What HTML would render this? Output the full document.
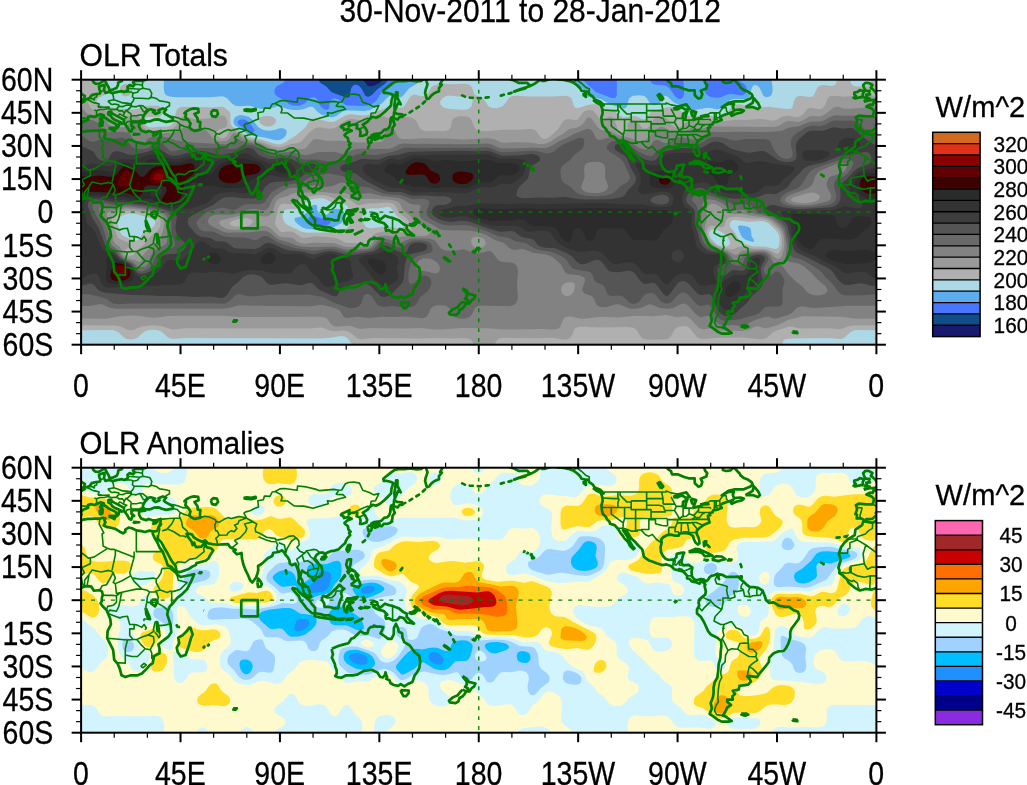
<!DOCTYPE html>
<html><head><meta charset="utf-8"><title>OLR</title>
<style>html,body{margin:0;padding:0;background:#fff;width:1027px;height:785px;overflow:hidden}svg{display:block}</style></head>
<body><svg width="1027" height="785" viewBox="0 0 1027 785" font-family="Liberation Sans, Arial, sans-serif" font-size="30" fill="#000">
<text transform="translate(530.20,22.10) scale(0.926,1)" font-size="32.4" text-anchor="middle" stroke="#000" stroke-width="0.3">30-Nov-2011 to 28-Jan-2012</text>
<text transform="translate(79.60,65.70) scale(0.965,1)" font-size="31.2" stroke="#000" stroke-width="0.3">OLR Totals</text>
<text transform="translate(79.60,453.70) scale(0.945,1)" font-size="31.2" stroke="#000" stroke-width="0.3">OLR Anomalies</text>
<svg x="81.10" y="79.70" width="795.30" height="265.00" viewBox="0 0 360 120" preserveAspectRatio="none" overflow="hidden">
<rect x="0" y="0" width="360" height="120" fill="#191970"/>
<path fill="#104E8B" d="M.5,0 127.7,0 129.5,2.4 130,2.8 131,3 132.5,2.7 134.5,1.8 135.7,1 136.5,0 360,0 360,120 0,120 0,0 .5,0Z"/>
<path fill="#4876FF" d="M.5,0 107.5,0 108,1 108.4,1.5 111,3.1 112.7,5 113.5,5.7 119.5,8 120.5,8.2 121.2,8 121.6,7.5 122.2,4 122.8,3 123.5,2.4 124.5,2.2 126,2.9 127.3,4.5 128.5,7 129,7.5 130,7.7 131.5,7 133.9,4.5 137.4,2 138.3,1 138.8,0 360,0 360,120 0,120 0,0 .5,0Z"/>
<path fill="#5CACEE" d="M.5,0 92.5,0 92,.9 91.5,1.4 88.6,3 87.8,4 87.5,5 87.6,6 88,6.8 88.7,7.5 91,8.8 94.5,11.2 96,11.7 97.5,11.8 99,11.7 100,11.4 101.4,10.5 103.5,8.4 104.5,7.9 105.5,7.9 106.6,8.5 108.1,11.5 108.8,12.5 110,13.4 111,13.6 111.7,13.5 112.2,13 112.5,10.5 112.8,9.5 113.5,8.8 114.5,8.5 115.5,8.6 116.5,8.9 119.5,11.3 121,11.7 128,11.9 129.5,11.7 131,11.2 132.5,10.4 133.6,9.5 136.2,5.5 140.4,2.5 141.1,1.5 141.6,0 227,0 233,5.6 239.5,8.1 241,8.4 242,8.1 242.5,7 242.5,0 257.5,0 257.9,1 258.3,1.5 259.5,2.2 264,2.5 265.5,3.2 266.5,4.1 269,7.6 270,8.5 271,8.7 272,8.4 272.5,7.9 272.8,7 273,4.5 272.6,0 282.4,0 282.3,4.5 282.5,5.5 283,6.5 284,7.3 285,7.8 288,8.2 289.5,7.9 292,6.9 293.5,6.5 295,6.5 298.5,7.1 299.5,7 300.4,6.5 301,5.8 301.2,5 301.3,4 301,3.1 300.1,2 298.5,.9 297.6,0 360,0 360,120 0,120 0,0 .5,0ZM72.3,18 71.5,18.2 70.8,19 71,20 71.5,20.5 76,23.5 77.5,23.8 78.5,23.5 78.5,23 78,22 76,19.3 74.5,18.3 73.5,18 72.3,18ZM103.8,62 102.3,63.5 102,64.5 102.2,65 102.8,65.5 104,66 107,66.6 109.8,66.5 111,66.2 112,65.6 113,64.5 113.1,64 112.5,63.5 109,62.9 105.5,61.7 104.5,61.7 103.8,62Z"/>
<path fill="#ADD8E6" d="M.5,0 37.5,0 37.4,3.5 37.6,5.5 38,6.5 38.5,7 40,7.6 43,7.9 58,7.9 64,7.5 65,7.8 66,8.3 68.5,11 70,11.8 71.5,12 75,11.8 76.5,11.8 81,13.1 83,13.4 85.5,13.2 88.5,12.1 89.5,12 94,13.4 96,13.7 98.5,13.7 100.5,13.4 103.5,12.3 104.5,12.2 105.1,12.5 107,14.5 108.5,15.6 111,16.6 113.5,17 115.4,16.5 118,14.6 119.5,14 122.5,13.9 128,14.2 130.5,13.8 135.7,11 136.9,10 138.5,8.2 139.5,7.5 140.5,7.4 143.5,8.1 145,7.8 146,6.9 148.5,3.9 151.8,2 152.4,1 152.6,0 223,0 223.8,1.5 226.5,3.5 227.6,4.5 228.8,7 229.5,7.7 230.5,8.1 234,8.5 235.5,8.9 239.5,11.1 244.5,12.9 246,13 246.9,12.5 247.3,11.5 247.7,9.5 248.1,8.5 249,7.7 250,7.3 253,7 255,7.4 256,8.3 257.7,11 258.5,11.5 259.5,11.6 261,11.3 262,10.6 262.5,10 263.5,7.8 264,7.4 264.5,7.3 265.5,7.7 268,10 269,10.7 273,12.2 275.5,13.6 277,13.8 283.5,12.7 285,12.8 287.5,13.4 289,13.3 290.3,12.5 292.5,10 294,9.1 295.5,8.7 300,8.9 301.5,8.5 302.3,8 302.6,7.5 303.5,4 304,3 304.5,2.5 305,2.4 306,2.6 307,3.4 307.6,4.5 308.5,6.7 309,7.4 310,7.9 311.5,7.7 312.5,6.9 313,5.5 313,3.5 312.5,0 360,0 360,120 0,120 0,0 .5,0ZM70.3,16.5 69.5,17.2 69,18.5 69,19.5 69.5,20.5 75,24.4 76.5,25.2 78,25.5 83,26.2 87.5,27.3 89,27.4 90.5,27.1 91.5,26.5 92.5,25.5 93,24.5 93.1,23.5 92.9,23 92.5,22.5 91.5,22 90,22 87.5,22.8 85.5,23.1 83,22.9 81.5,22.3 80,21.3 77.5,18 76,16.9 74.5,16.4 73,16.1 71.5,16.1 70.3,16.5ZM104.5,57 103.5,58 102.1,60 101,61 99.5,61.9 97.1,62.5 96.5,63 96.8,64 97.6,65 100,66.8 102,67.5 104,67.7 108,68 111,67.8 113.5,67.1 115.9,66 117.7,65 118.6,64 118.9,62.5 118.7,60.5 118,59.3 117,58.6 115.5,58.4 114.5,58.6 113.5,59.2 112,60.6 111,61.1 110,61.2 108.5,60.8 107.4,60 106.9,59 106.8,57 106.5,56.7 105.5,56.6 104.5,57ZM297.3,66.5 297.5,67.5 298.5,70 299.5,71.6 301,72.6 304.5,73.6 304.5,72.4 304,71.8 303.5,70.8 303.2,68 302.7,67 301.5,66.5 299,66 298,66 297.3,66.5Z"/>
<path fill="#B0B0B0" d="M.5,0 7.4,0 8.2,1 10.5,2.2 11.5,3.1 12.1,4.5 11.9,5.5 11.6,6 10.5,7 8,8.2 7.2,9 7,10 7.2,10.5 7.6,11 8.5,11.5 16.5,13 23.5,13.5 25.5,13.3 29,12.1 31,11.8 34.5,11.8 36.5,12.5 37.3,13.5 37.3,14.5 36.8,15.5 35.9,16.5 34.5,17.1 30.5,16.8 29.9,17 29.3,17.5 28.9,18.5 29,20 29.7,21 30.5,21.5 32,21.7 35.5,21.3 38.5,21.3 40.5,20.8 41.5,20 42,19 43,14.5 43.4,13.5 44,12.9 45,12.4 47,12.2 59,12.6 63.5,12.3 64.5,12.5 65.5,13 67.2,14.5 67.6,15.5 67.5,18.5 67.7,20 68.2,21 68.7,21.5 71.5,22.9 74.5,25.2 76,26 82,27.2 87.5,29 89.5,29.3 91,29 92.1,28.5 96.9,25.5 101.1,22 102.3,20.5 103.5,18.3 104.5,17.6 106.5,17.7 112,19 114,19.1 115.5,18.6 119,16.5 120.5,15.9 122.5,15.7 127,16.2 129.5,16.1 131.5,15.5 135,13.8 138.5,12.7 140.5,12.4 143.5,12.7 145,12.6 146,12.2 146.5,11.7 148.5,8.4 149.9,7 151,6.7 154,7.5 155.5,7.4 156.7,6.5 158.2,4 159,3 160,2.5 161.5,2.2 164,2 169,2.1 173,1.8 174.5,1.9 175.5,2.2 176.5,3 176.9,3.5 178,6.6 178.5,7 181.5,8.2 182.5,9.2 183.6,11 184.4,12 186,12.8 188.5,12.8 190.5,12.1 191.5,11.3 193.5,8.4 194.5,7.7 195.5,7.4 197.5,7.3 202,7.6 214,7.6 219.5,7.3 221,7.7 222,8.5 223,11.7 223.5,12.5 224,12.8 225.5,12.7 228.5,11.7 230.5,11.2 232,11.1 233.5,11.2 234.5,11.6 237,13 240,13.7 241.5,14.3 245,17 246,17.1 248.5,16.5 250,16.4 251.5,16.7 254,17.8 255,18 256,17.4 257.5,15 258.5,14.3 263,13.2 265.5,12.4 267,12.5 270,13.3 271.3,14 273.5,15.7 275,16.3 277,16.4 282,16.2 287.5,16.7 289.8,16.5 291.5,15.8 292.5,15 294.7,12 295.5,11.4 296.5,11.2 298.5,11.2 302.5,12.5 304.5,12.8 311.5,12.2 318,13.2 320.5,13.3 321.5,13 322,12.5 322.7,9.5 323.6,8 324.5,7.5 325.5,7.3 329.5,7.8 331,7.6 331.5,7.2 332,6.5 333.3,3.5 334.5,2.6 336,2.4 340,2.9 341,2.5 341.6,2 342,1 342.1,0 348,0 348.5,1.7 349.5,2.7 351,3.1 353.5,3.1 355.5,2.7 356.5,2.1 357.2,1 357.5,0 360,0 360,113.5 356,113.5 352,113.3 350,113.5 349,113.9 348,114.5 345.5,116.9 344,117.4 338,117 323,117.2 319.5,117.4 318.5,117.6 318,118 317.6,119 317.5,120 122.5,120 121.7,118.5 120.5,117 119.5,116.4 118,116.1 112.5,116.9 109,117.2 47,117 41.5,117.4 39.5,116.9 36.8,114.5 35.5,113.7 34,113.3 32.5,113.2 31,113.3 29.5,113.7 28.1,114.5 25.5,116.8 24,117.4 22.5,117.6 21,117.5 20,117.1 19,116.4 17,114.5 16,113.9 14.5,113.4 0,113.5 0,0 .5,0ZM165,7.5 163.4,8.5 162.5,10 162.6,11 162.8,11.5 163.5,12.2 164.5,12.8 166.5,13.1 172,13.6 174,13.6 175.8,13 176.5,12.3 176.9,11.5 177.2,10 177.1,9 176.7,8 176,7.7 170.5,7.6 167,7.2 165,7.5ZM105.2,54 103.2,54.5 102,55.1 101,56 99.5,58 98.7,58.5 97.5,58.7 93.5,58.7 92.5,59 92,59.3 91.3,60.5 91.2,62 91.5,63.5 92.4,65 93.5,65.8 99.5,68.7 102,69.3 110.5,69.2 114,68.9 119,67.9 120,67.4 121.1,66.5 121.7,65.5 121.9,64.5 121.9,62 121.2,58.5 120.7,57.5 120,56.7 118.5,56.2 115.5,56.1 114,55.9 111,54.2 109.5,53.7 107.5,53.7 105.2,54ZM136.1,58 134.5,58.3 131.5,58.2 130,58.4 129,58.8 128,59.6 127.3,61 127.3,63 128,65.4 129,66.7 130,67.2 131,67.3 137.5,66.5 143.5,67.3 145,67.1 146.2,66.5 146.6,65.5 146.5,65 146,64 142.7,61.5 140.6,58.5 140.1,58 139.5,57.7 138.5,57.6 136.1,58ZM20,61 17.9,62 17,62.8 16.5,63.5 16.4,65 17.3,68 17.9,69.5 18.7,70.5 19.6,71 24,72.7 25,72.9 26,72.4 28.5,69 32.2,67 33,66.2 33.4,65.5 33.6,64.5 33.4,64 33,63.5 32,62.9 24.5,60.7 22,60.6 20,61ZM296.2,63.5 295,63.7 294.4,64 293.6,65 293.6,66 294,67 296.1,69.5 297.7,72.5 298.8,73.5 300.8,74.5 304.2,75.5 310,75.6 314,76.7 315,76.5 315.5,76 316,74.8 316.2,73 316.1,71.5 315.7,70 314.8,68.5 311,64.9 310,64.3 308.5,64 302,64.3 296.2,63.5ZM285.2,68 284.4,69 284.4,70.5 285.1,72 287,74 288.5,75 290,75.4 292,75.5 293.3,75 293.8,74 293.6,73 292.8,71.5 291.4,70 289.9,69 287.7,68 286.5,67.8 285.2,68ZM19,2.3 20,2 21,2.2 22,2.6 22.7,3.5 23,4.5 22.9,5.5 22.4,6.5 21.5,7.3 20.5,7.5 19.5,7.5 18.5,6.9 17.8,6 17.5,5 17.6,4 18,3 19,2.3ZM82.5,16.5 85,16.4 87.2,17 88.1,18 88.2,18.5 88,19.5 87.1,20.5 85.5,21.2 83.5,21.2 82,20.5 81,19.5 80.6,18 80.8,17.5 81.2,17 82.5,16.5Z"/>
<path fill="#9A9A9A" d="M339,7.5 341,7.3 345.5,7.7 351.5,7.2 358,7.5 360,7.8 360,111.2 349.5,111.3 347,111.8 344.5,112.8 343,113 339,112.6 326,112.7 324.5,112.5 322,111.9 320.5,111.8 314.5,113.7 313.1,114.5 310.5,116.9 309,117.4 307.5,117.5 299.5,116.7 288.5,116.8 282.5,117.4 280.5,117.3 279.5,117 278.5,116.3 276,113.1 275,112.1 274,111.6 272.5,111.5 270.5,111.9 269,112.8 268.4,113.5 267,116.2 266.2,117 265.5,117.4 264,117.7 260,117.6 257,117.8 255.5,117.7 254,117.1 253,116 251.5,113.3 250.5,112.5 249.5,112.2 247.5,112 234,112.2 226,111.9 224.5,112.2 223.5,112.7 223,113.5 222.3,115.5 221.7,116.5 221,117.2 220,117.6 218,117.7 213.5,116.9 208,117.1 191,116.9 189.5,117.1 188.5,117.6 187.8,118.5 187.4,120 177.6,120 177.2,118.5 176.5,117.8 175.5,117.3 173.5,117 169,117.2 162,117 154,117.2 132,117 126.5,117.7 125,117.1 122,114.6 120.5,113.9 119,113.6 115,113.9 113.5,113.8 112,113.4 109.5,112.4 108.5,112.2 103.5,112.7 47,112.6 42,113.1 40.5,112.9 36.4,111.5 32,111.2 28,111.6 26.5,112.1 24,113.2 22.5,113.5 21,113.2 17.5,111.7 15,111.3 0,111.2 0,7.8 1.5,8.5 2.5,9.3 4.1,12.5 5,13.4 6.5,13.8 10,13.9 11.9,14.5 13.1,15.5 15,17.9 16.7,19 17.5,19.2 18.6,19 19.3,18.5 20.7,17 22,16.3 24,16.1 25,16.2 26,16.5 26.9,17.5 27.8,20.5 28.3,21.5 29.5,22.5 31,22.9 38.5,22.8 41,22.3 42,21.8 42.9,21 45,17.5 45.5,17 46.5,16.6 48,16.8 50.5,17.7 52,17.9 58,17.5 62,16.3 64,16.2 65,16.6 65.7,17.5 66.1,19 66.1,20.5 66,21 65.5,21.7 62.5,22.6 61.5,23.4 61.2,24 61.4,25 62.3,26 63.5,26.5 65,26.3 65.9,25.5 67,23.4 68,23 69.5,23.1 71.5,23.9 74,25.9 75.5,26.7 81.5,28.1 87.5,30.4 89.5,30.7 91,30.5 95,29.1 98.5,28.5 99.5,28.1 103,24.2 105,22.6 106.5,21.8 108,21.7 112,22.2 114,22.1 115.5,21.5 119,18.8 120.7,18 122.5,17.8 126.5,18.4 129.5,18.3 131.5,17.9 135.5,16.5 137,16.7 139.2,17.5 140.5,17.7 145.5,17 147.5,16.9 149,17.1 150.5,17.7 151.5,18.4 152.2,19.5 153.4,22 154.5,22.9 156,23.3 160,23.1 163.5,23.3 165.5,23.1 166.6,22.5 167.3,21.5 168,18.4 168.5,17.6 169,17.2 171,16.6 174,16.5 175.5,17 176.1,17.5 176.8,18.5 178.2,22 179,22.7 179.8,23 183,23.3 191.5,22.7 198.5,22.7 202.5,22.3 204,22.3 205,22.5 206,23.2 208,26.1 209,26.7 210,26.8 211,26.5 212,25.9 214.8,23.5 216.2,22 218,19 219,18.1 220.5,17.8 223.5,18.3 224.5,18.2 225.3,17.5 227.1,15 228,14.3 229.5,13.7 231,13.8 232,14.2 234.5,17.3 235.5,17.8 236.5,17.8 239,16.8 240,16.8 240.5,17.1 241.6,18.5 242.7,22 243.3,23 244.5,23.8 246,24 247,23.5 247.3,22.5 247.3,20.5 247.8,19.5 248.5,18.9 250,18.5 251,18.8 252.5,19.9 254,21.8 254.5,22.1 255.5,22.2 256.5,21.7 257.4,21 258.1,20 259.5,17.4 260,16.8 261,16.4 262.6,16.5 264.9,17.5 266,18.5 267,20 267.9,21 269,21.6 270,21.8 271.5,21.3 274,19 276,18.4 289,18.9 292,18.7 296,18.1 301,18.2 307,17.8 309,17.9 312.1,18.5 313.5,18.6 315,18.1 317,16.8 318.5,16.4 320,16.3 323.5,16.9 324.5,16.9 325.5,16.6 326.4,16 327.4,15 328.5,13.4 329.5,12.8 330.5,12.8 334,13.4 335.5,13 336.8,11.5 338,8.5 338.5,7.8 339,7.5ZM105.2,52.5 101.6,53 100,53.5 99,54.1 97.5,55.5 96,56.3 94.5,56.4 91.5,56.1 90.5,56.4 90,56.8 89.2,58.5 87.7,64.5 88.1,66 89.5,68.1 90,68.6 91,69 94,68.7 95.5,68.9 96.9,69.5 99.5,71.3 100.5,71.7 101.5,71.7 105,71 106.5,70.9 113.5,71.4 116,71.9 119.1,73.5 120.5,73.9 124,73.9 128,74.6 129.3,74.5 130,74.1 130.5,73.5 132,70.5 133,69.7 134,69.3 136.5,68.9 145,69.1 149.5,68.6 149.5,66.5 148,63.6 146.9,62.5 144.2,60.5 143.5,59.5 142.2,57 140.9,56 139.5,55.7 138,55.6 134.5,56 130,56.1 125.5,56.8 124.5,56.4 121.5,54.3 120,53.8 119,53.7 115.5,54 114.5,53.8 111.5,52.6 110,52.3 108,52.2 105.2,52.5ZM19.1,59.5 16,60.5 14.4,61.5 13.9,62.5 13.9,64.5 16.6,71.5 17.5,72.3 20.9,73.5 21.9,74.5 22.1,75 22,75.5 20,77.1 19.9,78.5 20,79.3 20.2,79.5 21,79.7 23.5,79.6 24,79.2 25,77.5 28.2,75 30.5,71.8 34.6,68.5 35.7,66.5 36,65.2 36,64 35.7,63 35,62.1 34,61.5 33,61.2 24.5,59.4 21.5,59.2 19.1,59.5ZM293.1,62.5 292.5,62.9 292,63.5 291.2,66 290.5,66.7 289.5,66.8 287,66.2 285.5,66.1 284.5,66.4 283.6,67.5 283.2,69.5 283.7,71.5 285,73.3 287,75 289.5,76 294.5,76.8 295.5,76.7 297.5,75.8 298.5,75.6 304.5,76.5 309.5,76.5 311.5,77.1 314,78.5 315,78.9 315.5,78.8 316.3,78 316.9,76.5 317.3,74.5 317.2,72 316.8,70 316.2,68.5 315.5,67.6 312,64.3 310,63.3 308,63 303,62.9 297,62.1 294.5,62.2 293.1,62.5ZM71.9,63 68.4,64 67.5,64.7 67.3,65 67.3,65.5 67.9,66 69.5,66.5 73.5,66.6 76,66 76.9,65.5 77.8,64.5 77.7,64 77.4,63.5 76,62.8 74.5,62.6 71.9,63Z"/>
<path fill="#828282" d="M357.5,11.9 359,12 360,12.5 360,108.1 351,108.2 344,107.4 326.5,107.1 320,108.8 315.5,111.1 310.5,112.5 309,112.6 307,111.8 306,111.7 305,111.9 302,113.3 299,113.8 290,113.6 285,112.6 282,113 281,113 279.5,112.2 276,108.5 274.5,107.3 273,107.1 269.5,107.6 266,106.8 264.5,106.6 258.5,107.1 250.5,106.9 243.5,107.7 235.5,107.4 227.5,108.2 225.5,108.1 222,107.2 220.5,107.2 219,107.7 218.2,108.5 217,111.6 216.3,112.5 215,113 213,113.1 208,112.9 191.5,113.1 184.5,112.6 172,112.4 163,113.1 160,113.1 154,112.4 147.5,112.7 136,112.6 131,112.4 126.5,112.9 125,112.6 122.5,111.7 121,111.4 116,111.8 114.5,111.6 113.5,111 112.9,110.5 111.6,108.5 111,108 110,107.6 108,107.4 72,107.5 64,106.9 42,106.9 39.2,107 34.5,107.7 32.5,107.8 25.5,106.9 22,106.8 17.5,107.1 12.7,108 10.5,108.2 0,108.1 0,12.5 2.4,15 3.5,15.7 5,16.2 8.5,16.2 10,16.7 10.8,17.5 12.3,20 13.5,20.8 15.5,21.5 18,21.7 20,21.4 21,20.7 22.5,18.9 23,18.5 24,18.2 25,18.4 25.6,19 26.1,20 26.9,22.5 27.5,23.3 28.5,23.9 29.5,24.1 36,24.3 41,24 43.5,23.3 46.5,21.7 47.5,21.7 50,22.3 54.5,22.1 55.9,22.5 56.8,23 59.1,26 60.4,27 62,27.7 63.5,27.9 65,27.8 66,27.5 67,26.7 68.5,24.6 69,24.3 70,24.3 71,24.7 73.2,26.5 74.5,27.2 80.5,28.7 82.7,29.5 86.5,31.4 88,31.9 89.5,32 91,31.9 95.5,30.8 97,31 99.5,31.5 101,31.4 102.2,30.5 103.7,28.5 104.5,27.6 105.5,27.1 106.5,26.9 111,27.7 118,27.6 125,28.4 135.5,28.2 136.1,28 136.8,27.5 137,26.7 137.2,24.5 137.8,23 138.5,22.3 140,21.9 141,22.2 142,23 143,25.2 143.5,26 144.5,26.6 146,26.9 149,27 155,26.5 164,26.6 173,27.1 184,26.5 187,27 190,28.3 191.5,28.6 195.5,28.3 202.5,28.4 207.5,29.1 209.5,29.1 211,28.7 212.5,28 215.5,26 218.2,24.5 221,22.3 224.5,21.6 226,20.9 227.2,20 229,17.5 229.5,17.2 230,17.1 231,17.6 234,21.6 235.5,22.8 239,22.9 241.6,24.5 243,25.2 248.5,26.3 252.5,28.1 254,28.3 255,27.9 257.5,25 260.5,22.3 261.5,21.6 262.5,21.3 264,21.6 267.2,23.5 268.5,23.8 270,24 272.9,23.5 276,21.9 277,21.8 279,22.3 280,22.3 283.2,21.5 285.5,21.2 314,21.4 316,20.9 318.5,19.2 319.5,18.8 320.5,18.6 323.5,19 325,19 326.5,18.5 330,16.6 331,16.4 334,16.6 335,16.5 336.9,15.5 340.5,12.7 341.5,12.4 342.5,12.3 345.5,13.1 348,13.2 353.5,12.8 357.5,11.9ZM105,51 97,51.3 95.9,51.5 93.5,52.7 90,53.6 89,54.3 88.1,55.5 86.8,59.5 86.3,60.5 85.5,61.3 84.5,61.9 82.5,62 78.5,60.9 77,60.7 75.5,60.8 63.7,63.5 62.8,64 62.5,64.5 62.6,65 63.3,66 65,67.2 66.5,67.7 68,67.9 75,67.8 77.5,67.4 81,66.4 82.5,66.2 83.5,66.3 85,66.8 86,67.5 88.5,70 90,71 91.5,71.3 95,71.4 96,71.9 98.1,73.5 99.5,74.1 101.5,74.3 106,73.7 109.5,74 114,74 115.5,74.3 119,75.5 121,75.8 124.5,75.7 128,75.9 130,75.6 131.5,74.5 133.5,71.7 134.5,71 135.5,70.7 137.5,70.6 143.5,71.2 149,70.7 154.5,70.8 156.5,70.5 157.5,70 157.9,69.5 158,68.5 157.4,67.5 156,66.5 152.5,65.3 151.5,64.8 149,61.6 146,59.3 145.4,58.5 144.3,56 143.5,55.3 142.5,54.8 140,54.4 131.5,53.9 126,54 124.5,53.5 120.5,51.6 119,51.3 115,51.5 110,50.9 105,51ZM328.2,51.5 322.5,53.2 321.4,54 321.3,54.5 321.7,55 323,55.5 326,55.9 328.5,55.9 331,55.5 332.6,55 333.5,54.5 334.4,53.5 334.4,53 334,52.2 332.5,51.3 330.5,51.1 328.2,51.5ZM284.4,56.5 283.6,57.5 283.2,59 283.3,63.5 282.4,66.5 282.2,69 282.6,71 283.3,72.5 284.5,74 285.7,75 288,76.2 292.7,77.5 296,79.4 297,79.2 299,77.6 300,77.3 308.5,77.2 310,77.4 311.4,78 312.6,79 314,80.5 315,81.1 316,81.1 317,80.3 317.7,78.5 318.3,75.5 318.3,73 317.8,70 317.2,68.5 316.3,67 313,63.9 311,62.8 309,62.3 304,61.7 299.5,60.8 295.5,60.8 293.5,60.5 292.3,60 289.5,57.6 287.5,56.5 285.5,56.1 284.4,56.5ZM18.2,58.5 13,59.7 12,60.2 11.6,61 11.8,63 14,69.5 14.6,73 15.5,74.3 17.5,75.6 17.9,76.5 18.6,79 19.5,80.1 21,80.8 24.5,81.6 26.5,82.5 27,82.4 27.7,80 28.4,79 31.5,75.6 34.5,73.4 35.7,72 36.7,69.5 37.4,67 37.7,64.5 37.5,63 37,62 36,61.1 34.9,60.5 33.5,60.1 27,58.9 23.5,58.4 20.5,58.2 18.2,58.5ZM177.4,71.5 176.8,72 176.6,72.5 176.5,73.5 177.1,75 178,75.9 179.5,76.5 180.5,76.4 181.6,76 182.8,75 183,74.5 183.1,73.5 182.6,72.5 182,71.9 181,71.4 179.5,71.1 178.5,71.1 177.4,71.5ZM219.4,92 218.4,92.5 217.6,93.5 217.3,94.5 217.4,96 217.9,97 218.5,97.5 219.5,97.9 221,97.8 222.3,97 223,96 223.4,94.5 223.5,93 223,92.1 222.5,91.8 221,91.7 219.4,92Z"/>
<path fill="#696969" d="M340,16.4 342,16.1 345.5,16.3 350,16.3 352,16.6 355.5,17.5 359,17.2 360,17.3 360,102.4 347,102.4 332.5,103.4 330.5,103.3 327,102.7 325.5,102.7 324,103.3 321.9,105.5 320,106.5 314.5,108.1 313.5,108.1 311.5,107.3 310,107.3 304.5,109 301,111 299,111.5 295,111.1 291.5,111.3 290,111.1 289,110.8 287.6,110 284.5,107.1 283.5,106.9 281,107.6 280,107.5 278.5,106.4 275,102.5 274,101.8 273,101.4 271.5,101.6 268,103.4 265.5,103.7 262,103.4 258.5,101.9 257.5,101.7 256.5,101.9 253.5,103.3 251,103.7 249,103.7 247.5,103.4 244,101.9 243,101.7 241.5,101.8 237.5,103 235,102.9 234,102.5 233.4,102 232.1,99 231.5,98.2 230.5,97.7 228,96.8 227.1,96 226.9,95.5 226.9,94.5 228.1,91 228,90 227.6,89.5 226.8,89 225.5,88.6 221,88.1 219.5,87.6 218.7,86.5 217,83.5 214.2,81 212.5,79.8 210,79 204.5,78.4 200,76.7 199,76.7 196.5,77.1 195,76.9 194,76.3 192,74.5 191,73.8 187,72.5 183.5,70.3 180,69 175,68.3 166,68.2 164,68.1 162.5,67.8 158.8,65.5 155.5,63.9 154,62.8 153.4,62 153.2,61 153.1,60 153.7,57.5 153.6,57 153,56.6 150,56.4 149,56.2 145.2,54 143.5,53.5 136.5,52.8 130.5,51.3 126.5,51.6 125,51.4 124,51 122.4,50 120,47 118.5,46.5 117,46.8 114.2,48 112,48.5 109,48.5 105.5,47.8 101.5,48.7 96,48.9 94,49.2 92.5,49.8 89.5,51.5 87.5,53 86.4,54.5 85,57.8 84,58.8 82.5,59.1 78.5,58.6 76.5,58.7 75,59 71.5,60.4 69.5,60.9 67,61.1 62,61 60.5,61.1 59,61.7 58,62.5 57.5,63.5 57.4,64.5 58,65.5 58.7,66 64,68.7 66,69.3 76.5,69.1 82,68.5 84,68.6 85.5,69.3 88,71.5 89.6,72.5 94,73.6 97.5,75.1 100.5,75.7 105.5,75.9 113.5,75.5 115.5,75.8 119,76.8 120.5,77 128.5,76.8 130,76.6 131.4,76 132.5,75.1 134.5,72.8 136,72.1 137.5,72 139,72.3 143.5,73.8 144.5,73.9 148.5,72.1 150,71.9 152.5,71.8 157.5,72 159.5,72.5 160.5,73.3 162,75.4 163,76.4 164,77 165.5,77.5 168,77.6 172.5,76.9 173.5,76.9 177.5,78.4 179.5,78.7 181,78.5 184,77.7 185,77.6 185.5,77.8 186.4,78.5 188.5,81.3 189.5,82.1 191,82.5 195,82.8 196.4,83.5 197.3,84.5 197.8,86.5 197.3,92.5 197.7,98 197.6,99.5 197,101 196,102 194,102.6 182,102.2 180,102.4 179,102.8 178.3,103.5 176.7,106.5 176,107.3 174.5,108 172.5,108.2 170.5,108 169.3,107.5 168.2,106.5 167,104 166.1,103 165,102.4 163,102.1 160.5,102.3 159,102.9 158,104 157.3,106 156.5,107.2 155.5,107.8 154,108 148,107.2 142,107.5 136,107.4 130.5,107.9 125,107.3 121.5,107.8 120,107.8 119,107.5 118.5,106.9 117.5,105 116,103.8 114,103.1 109,101.9 105,102.5 103,102.6 85.5,102.5 72,102.1 70.5,102.4 67,103.4 63.5,103.7 33,103.6 16,103.7 13,103.3 10,101.9 8.5,101.6 4,102.5 0,102.4 0,17.3 5.5,18.5 6.8,19 7.9,20 9,22 9.5,22.5 10.5,23.1 13.5,23.6 19.5,23.7 21.5,24 22.1,24.5 23.7,27 24.5,27.9 25.5,28.6 26.5,29 27.5,29.1 28.5,28.9 29.1,28.5 30,27 30.5,26.5 31.5,26.1 33,25.9 38,26.1 40,26.5 43,27.5 50.5,28.4 64.5,29.2 66.5,29.2 68,28.8 68.8,28 69.5,26.5 70,26.3 70.5,26.3 72,27.4 73,27.9 78,28.9 80.2,29.5 82.2,30.5 85,32.3 87,33 90,33.2 94,32.6 95.5,32.5 100,34 101.5,34.1 103.5,33.9 107,32.8 113,32.6 115,32.7 117.9,33.5 119,33.6 120,33.3 122.5,31.9 125,31.3 139,31.4 141,30.9 144,29.2 146,28.9 151,29.1 156,29 171.5,29.2 178.5,29.1 183.5,28.9 185.5,29.2 189.5,30.9 191,31.2 204,30.8 210,31 212.5,30.2 216.2,28 220,26.3 223.5,24.4 228.5,22.4 229.5,22.2 230.5,22.5 231,22.9 231.8,24 233,26.4 234,27.2 235.5,27.2 239.5,26.1 241.5,26.3 245.5,26.9 247,27.3 248.5,28 251.5,30.1 253,31 254.5,31.5 255.5,31.5 256.7,31 259,28 259.7,27.5 260.5,27.2 261.5,27.4 263.5,28.5 264.5,28.7 265.6,28.5 268.5,26.6 270,26.2 272.5,26.2 277,27 278.5,27 280.5,26.3 284,24.1 286,23.6 290.5,23.8 296,23.6 309,23.7 316,23.3 318,22.8 320.5,21.6 325,21.1 330,19 335,18.9 336.2,18.5 340,16.4ZM229.8,37.5 228.6,38 227.9,39 227.7,40.5 227.9,44 227.7,45 226.5,48 226.5,49 226.7,49.5 227.1,50 228,50.6 229.2,51 231,51.3 234.5,51.3 237.1,50.5 238.2,49.5 238.5,48.5 238.4,47.5 237.2,44.5 237.2,40 236.8,38.5 236,37.7 234.5,37.3 232,37.2 229.8,37.5ZM342.5,38 338.4,39.5 335.2,41 333.6,42 332.4,43.5 331.4,46.5 330.5,48 329.1,49 327.2,50 321.5,51.9 320.1,52.5 319,53.5 318.6,54.5 318.8,55 320,55.9 321.5,56.4 324.5,56.8 327.5,56.9 330.5,56.7 333,56.3 337.5,55.2 338.9,54.5 339.5,53.5 339.5,52.4 339,51.1 337.8,49 337.5,48 337.5,46.5 338.1,45 338.5,44.4 339.5,43.7 343.5,42.7 344.9,42 346,41 346.5,40 346.5,38.9 345.8,38 344.5,37.7 342.5,38ZM282.8,54.5 281.7,55.5 281.2,57 280.7,62 280.8,65 281.4,69.5 281.9,71.5 282.9,73.5 284.5,75.1 286.9,76.5 292,78 293.3,79 295,81.1 295.5,81.6 296.5,81.9 297.5,81.8 297.9,81.5 299.9,79 301.5,78.3 307,77.9 308.5,77.9 310,78.3 311,78.8 311.7,79.5 312.3,80.5 313,82.4 313.5,83.1 316.5,83.9 317.5,84.5 319.3,87 320.5,88.4 323.5,91.4 326.4,93.5 328.5,96 329.5,96.8 331.5,97.6 334,97.7 336,97.3 337,96.7 337.5,96.2 337.8,95.5 337.8,95 337,93.5 333.3,90.5 330.6,87.5 328.3,85.5 327,84.5 325.3,83.5 323.7,83 320.5,82.4 319.5,81.8 319.1,81 319,80 319.4,76 319.4,74.5 318.2,68.5 317.8,67.5 317,66.2 313.9,63.5 312.5,62.6 311,61.9 304.5,60.6 300.5,59 299.5,58.9 296,59.2 294.8,59 293.8,58.5 290.3,56 286.9,54.5 284.5,54.1 282.8,54.5ZM18,57.5 14.5,57.9 9.5,57.6 8.6,58 8.3,58.5 8.3,59.5 8.6,60.5 10.6,64.5 12.1,68.5 13.3,74 14,75 16.5,77 18,79.5 19,80.6 23.4,82.5 25.5,84.6 27.5,84.8 29.4,84.5 30.4,83 31.4,80 32.5,78.3 34,76.9 37.6,75 38.2,74.5 38.9,73.5 39,72.5 38.9,69.5 39.2,64.5 39,62.5 38.4,61.5 37.3,60.5 34.5,59.4 28.5,58.3 22.5,57.5 20,57.3 18,57.5ZM154.9,81 153,81.9 152.1,83 151.8,84 151.8,85 152.2,86 153,86.3 156.5,86.8 160,87.8 161,87.8 162,87 162.4,86 162.4,85 162,83.8 161,82.7 159.5,81.7 158,81.1 156.5,80.9 154.9,81Z"/>
<path fill="#555555" d="M341,18.5 345,18.6 349,18.5 350.5,18.8 351.5,19.2 352.5,20 354.5,22.3 355.5,23.1 360,25 360,97.2 355.5,97.5 347,97.7 345.5,97.6 344,97.1 343,96.3 340.2,92.5 337,89.5 335,87 333.9,86 327.4,82 325.5,81.2 322.5,80.5 321.5,80 320.9,79 320.5,74.5 318.8,67 317.5,65.2 314,62.3 311.5,61.1 307.3,60 306.1,59.5 305.3,59 303.5,57.2 302.5,56.7 300.5,56.3 297,56.6 295.5,56.5 287,53.1 281.5,51.8 280,51.6 278.5,52 277.5,52.6 276.7,53.5 276.5,54.5 276.7,55 278.2,56.5 278.9,58 279.3,60 279.2,64 279.4,65.5 281.1,72 282,74 283.4,75.5 285,76.6 286.5,77.1 290.2,78 292,78.9 293,80 294,82.7 294.5,83.4 295.5,83.9 297,84.3 298.5,84.3 299.2,84 299.5,83.5 300.6,80.5 301.5,79.6 302.5,79.1 304.5,78.7 307.5,78.6 309,78.8 310.3,79.5 311,80.5 311.1,81.5 310.7,82.5 309.1,85 309,86.5 309.5,87.7 310.5,88.6 311.5,88.7 312.5,88.4 314.5,86.9 315.5,86.9 316,87.1 317,88.2 318.3,90.5 318.3,92 317.4,95.5 317.5,101 317.2,102 316.6,102.5 316,102.7 311.5,102.7 310,102.9 309,103.5 307.1,105.5 306,106.2 305,106.6 301.5,107.4 298.8,108.5 292,109.2 290,108.9 288.5,107.8 287.4,106.5 285.5,103.2 284.5,102.1 283.5,101.8 280.5,102.6 279.5,102.3 278,101 275,97.5 274,96.8 273,96.4 272,96.4 271,96.8 270,97.6 267.5,100.4 266.5,101.1 265.5,101.3 264,101.2 263,100.8 262,100 260.5,98 259.5,97.1 258.5,96.6 257.5,96.6 256,96.9 255,97.5 253,100 251.9,101 250.5,101.5 249.5,101.5 248,100.8 246,98.7 245,97.9 243.5,97.7 240,97.9 238.7,97.5 238,96.5 237,93.8 236,92.9 233.6,92 232.9,91.5 232.2,90.5 231.5,88.4 230.9,87.5 229.5,86.9 224.5,86.1 222.7,85.5 221.6,84.5 220,82 219,81 217.5,80 214.5,78.5 212.5,77.9 206.5,76.9 205,76.3 201.5,74.1 196.5,73.2 193.5,71.6 189,70.9 183.5,68.5 176.5,66.3 173.5,65.8 166,66 163,65.4 158.5,63.2 157.5,62.5 156.7,61.5 156.4,60.5 156.4,59.5 157.5,56.5 157.7,55.5 157.5,55 156.5,54.3 154.5,53.9 150,54.1 144.5,52.2 139.5,52 137,51.6 130.5,48.9 129,48.6 126.5,48.4 125.5,48.2 124.7,47.5 123,45.2 121.5,44.3 113.5,42.7 112,42.5 104.4,44 103,44.5 100.5,46.1 99,46.7 93,47.7 90.3,48.5 88,49.8 86.3,51 85,52.5 83.4,55 83,55.5 82,56.1 80.5,56.4 76,56.3 74.5,56.4 72.9,57 70.5,58.5 69,59 67.5,58.8 65.5,58.2 64,58 61.5,58.4 58.5,59.4 57,60 55.5,61 52.9,63.5 52.3,64.5 52.2,65 52.5,66 53.5,67.5 55,68.5 56,68.7 58.5,68.6 60,68.8 63.5,70.5 65,71 68,71.3 74.5,71.4 78,72.6 79,72.7 80,72.3 82.1,71 83,70.8 84,70.8 85,71.2 89,73.7 92.5,75 96.5,76.2 104.5,77.5 106,77.5 111,76.7 113.5,76.6 115.5,76.9 120,78.1 123,78.1 129,77.6 131,77.2 132.5,76.5 135,74.1 136.5,73.5 137.5,73.5 139,73.8 143,75.8 144.5,76.1 145.5,75.9 148,73.8 150,72.9 153.5,72.8 155.5,73 157,73.4 158.4,74.5 158.9,75.5 159.1,77 158.6,78 157.5,78.6 153,79.7 151,80.6 150.1,81.5 149.5,82.5 148.5,86 148.1,88.5 148.2,90.5 148.5,91.9 149,92.4 149.5,92.6 150.5,92.3 151.5,91.5 153.5,89.3 155,88.7 156.5,88.9 157.5,89.5 158,90 158.5,91 158.6,92 158.4,93 157.5,95 156.5,96.1 153.5,98.4 152.8,99.5 151.8,101.5 151,102.3 149.5,102.9 147.5,103 145,103 141,102.5 137,102.8 135.5,102.6 134.5,102.2 134,101.8 131.5,98 130.5,97.3 129.5,97 128.5,97.3 127.8,98 126.9,101 126,102.4 124.5,103.1 122.5,103.5 121,103.3 118,102.1 114.4,101 109.5,98.4 103,97.3 93,97.5 85.5,97.4 77,98.2 75,98 72,97.1 71,97.1 70,97.5 67.5,100 66.5,100.7 65,101.3 63.5,101.4 58,101.2 22,101.3 17,101.7 15.5,101.5 14.5,101.3 11.5,99.3 9.5,98.5 3.5,97.2 0,97.2 0,25 3,27.4 5,28.1 6.5,27.9 10,26.9 14.5,27.1 17.5,26.3 19,26.3 20,26.8 20.5,27.2 22.5,29.8 23.5,30.7 24.5,31.2 26,31.5 28,31.5 30,31 31.2,30.5 33.5,28.9 35,28.5 36,28.7 37,29.2 39,31.2 40,31.9 41,32.3 42,32.4 47,31.3 53,30.9 64,30.9 67.5,31.4 69,31.4 70.5,31 72.5,29.9 73.5,29.5 76,29.4 78,29.8 79.5,30.4 83,33.2 85.5,34.2 88.5,34.5 95,34.2 96.5,34.6 99,35.7 100.5,36.1 106.5,36.1 112.5,37.2 120.2,36 121.6,35.5 124.3,34 125.5,33.6 127.5,33.6 132,34.1 134,34.1 141.5,32.6 145.5,31 147,30.8 153,30.9 172.5,30.8 178.5,30.9 183.5,30.6 185.5,31 189.2,32.5 191,32.9 204.5,32.2 206.5,32.4 210,33.3 211.5,33.4 213.5,32.8 217.1,30 219,29 224.5,26.6 226.5,26.3 227,26.5 227.5,26.9 227.7,27.5 227.7,29 227.3,30.5 226.6,31.5 223.5,33.9 221,36.7 219,38 217.9,39 217.3,40 217,41.5 217.2,44.5 217.6,45.5 218.3,46.5 221.5,48.5 223.9,51 225,51.7 228,52.6 233,52.9 237.4,52.5 240.5,51.5 241.9,50.5 244,48.3 247.5,46.2 248.4,45 248.4,44 248.1,43 245.8,38 245,36.7 243.8,35.5 239.1,32.5 238.1,31.5 237.9,30.5 238.4,29.5 239.4,28.5 240.5,28 242,27.7 243.5,27.7 245,27.9 246.5,28.3 247.7,29 250.5,31.4 252.5,32.7 255.5,34.1 257.5,34.5 258,34.5 259,34.1 260.5,32.4 261.5,31.6 266.4,30.5 270,28.8 272,28.5 276.5,29.2 279,29.2 280.5,28.8 284,26.6 286,25.9 288,25.9 290.5,26.2 296,27.6 300.5,26.9 309.5,26.9 311,27.2 312,28 313.5,31.5 315.9,34.5 317,35.3 318,35.7 320,35.9 321.2,35.5 322,34.5 322.1,33 321.3,29.5 321.3,28 321.5,27 322.1,26 323.5,24.5 327.5,22 329.5,21.1 331,20.9 334,21.1 335.5,20.9 337,20.3 339.5,18.9 341,18.5ZM344,36 332.6,40 330.7,41 329.2,42.5 326.5,47 325.2,48.5 323.6,49.5 319.5,51.1 317.5,52.5 316.5,54 316.6,55 316.8,55.5 318.2,56.5 320,57.1 323,57.6 326.5,57.8 330.5,57.6 337.5,56.8 339,56.4 340.5,55.7 341.5,54.5 341.8,53 341.6,51.5 340.8,48 341,46.4 341.7,45.5 345,44 346.5,42.9 348.5,40.5 349.5,38.2 349.4,37 348.5,36.3 346.5,35.8 344,36ZM6.2,55.5 5.5,55.9 5.1,56.5 5.2,58 6.6,61 9.5,65.9 10.7,69.5 11.7,73.5 12.5,75 13.4,76 15.6,77.5 17.5,80 18.5,80.9 23,83.2 23.8,84 25,85.7 26,86.5 27,86.8 28,86.7 29,86.4 30.5,85.5 32,84 33.5,80.5 34.6,79 36.5,77.8 41.4,76 42.1,75.5 42.4,75 42.5,74 41.2,70.5 40.9,69 40.8,62.5 40,61 38.7,60 35.5,58.8 29,57.5 20,56.4 14.5,56.7 8.5,55.4 6.2,55.5Z"/>
<path fill="#3D3D3D" d="M341,21.5 345,22.2 348,21.8 349.5,22 354,26.1 360,30 360,93.4 357.5,93.3 354.5,92.4 353,92.2 351.5,92.3 347.5,93 345.5,92.8 344.5,92.3 343,90.9 341.8,89.5 340.2,87 338.5,85.5 329,80.6 324,78.4 323,77.5 322.5,76.4 320.9,71.5 320,67 319.4,65.5 318.5,64.4 314.5,61.1 310.6,59 310.1,58.5 310.1,58 310.6,57.5 311.6,57 313,56.7 314,56.7 317,57.6 319,58 323.5,58.5 327,58.6 338.5,57.9 340.5,57.5 342,56.7 343.1,55.5 343.6,54.5 343.8,53 343.6,49 343.8,48 344.4,47 347,44.6 350,41.3 351,40.5 352.5,39.6 356.5,38.3 357.4,37.5 357.7,36.5 357.7,35 357.3,34 356.5,33.1 355.5,32.7 354,32.9 350,33.8 344,34.3 336,37.5 329.6,39 328,39.6 326.8,40.5 324.5,43.1 321.9,45.5 320.3,48 319.4,49 317,50.5 314.5,51.8 313.5,51.9 311,51.6 310,51.7 306.5,53.1 304,53.7 295.5,53.9 292,53.3 286.5,51.6 284.5,50.8 281.5,49.1 280,48.8 278.5,49.1 277,49.9 275.5,51 274.6,52 273.9,53.5 273.9,55 274.5,56.1 277,58.3 277.7,59.5 277.9,61 277.8,64.5 278,66 279.2,69.5 280.1,73 280.8,74.5 282,76 283.5,77.1 285.5,77.8 290,78.6 291.5,79.5 292.2,80.5 292.3,82 291.8,83 291,83.6 289.2,84.5 288.2,85.5 288.1,86 288.1,87 288.5,87.8 289,88.4 290,88.8 291,88.7 292,88.2 294,86.7 295,86.2 296,86.2 298.5,86.6 300,86.4 300.5,86 301.1,85 301.7,82 302.1,81 302.5,80.5 303.5,79.9 305.5,79.4 307.5,79.4 309,80 309.5,80.5 309.5,81.5 308,84.3 307.6,85.5 307.8,87.5 308.7,91 308.5,92.5 307.8,94 306.5,95.6 303.5,98.1 301.1,101.5 298.6,103.5 296.6,105.5 295,106.5 293,107 291.5,107 290.5,106.7 289.1,105.5 287.9,103.5 286,98.8 285,97.4 284,97 281,97.5 280,97.4 279.5,97.2 278,95.8 275,92.4 273.5,91.3 272,91.1 270.5,91.7 269.5,92.8 266.5,97 265.5,97.8 264.5,97.8 263.5,96.9 260.5,92.9 259.5,92.1 258.5,91.9 255.5,92.5 254.5,92.3 253.1,91 250.5,87.5 249,86.6 247.5,86.5 243,87.2 241,87.1 239.5,86.8 238.2,86 236,82.8 234.5,81.7 233.5,81.5 232.5,81.6 228.5,83.3 227,83.6 226,83.5 224.5,82.6 222.2,80 219.7,78.5 215,76.4 213.5,76.2 210,76.1 207.8,75.5 206.4,74.5 205.4,73 204.5,72.3 199.5,71.2 198.5,70.7 196.5,69.1 195.5,68.6 194,68.5 190.5,68.9 189,68.7 182.5,66.7 176.5,64.5 174.5,64 172.5,63.9 168,64.3 166,64.3 164,63.9 162,63.2 160,62 159.1,61 158.7,60 159,58.7 160,57.4 161,56.9 165,56.6 166.6,56 167.3,55.5 167.7,54.5 167.5,53.9 166.5,53.2 164.5,52.8 160.5,52.8 156,52.4 150.5,52.6 149,52.3 145,50.8 140.5,50.8 138.5,50.6 135.9,49.5 128,45.3 124.5,42.6 123.5,42.3 120.5,42 119,41.7 117.8,41 117.3,40 117.4,39.5 117.8,39 118.6,38.5 123,37.4 126.5,36 128.5,35.9 134,36.3 135,36.1 139,34.5 144,34 147.5,32.9 149.5,32.6 172,32.2 179,32.4 183.5,32.2 185.5,32.5 189,33.9 191,34.4 199,34.2 203.5,33.7 205,33.8 206.5,34.2 207.5,35 207.8,35.5 207.7,36.5 207,37.2 204.5,38.7 203.5,39.9 203.1,41 202.5,44 202,45 198.8,48 197.5,50 197,52 197.1,52.5 197.6,53 198.9,53.5 200.5,53.7 207,53.3 214.5,53.4 219,53 224,53.9 227.5,54.2 234,54.3 239.9,54 243.5,53.5 245.1,53 245.9,52.5 247.6,50 250.5,47 251.2,45.5 251.2,44.5 250.9,43.5 248.8,40 247,35.3 246,34.3 242.8,32.5 242,31.8 241.5,31 241.6,30 242,29.5 243,29.1 244.5,29 246.1,29.5 247.3,30.5 249,32.6 250,33.3 254.9,36 257.5,36.7 259,36.7 260,36.4 261,35.5 262.5,33.5 263.5,32.8 264.5,32.4 271.5,30.9 277.5,31.2 280,31 282,30.3 285.1,28.5 286,28.2 287.5,28 289,28.2 290.5,28.8 293.5,30.8 295,31.5 301,33 303,33.1 307.5,32.3 309,32.3 310.5,33 313.9,35.5 315.6,36.5 318,37.2 320.5,37.3 322.5,36.9 323.5,36 323.9,34.5 323.5,30 323.9,28.5 325,26.8 327.7,24.5 329.2,23.5 330.5,23.1 335.5,23.1 337,22.8 340,21.6 341,21.5ZM260.5,52.5 259,53.1 257.9,54 257.7,54.5 257.8,55 258.3,55.5 260.5,56.4 263,56.6 265,56.2 266,55.3 266.2,54.5 266,53.5 265.7,53 265,52.4 263,52 260.5,52.5ZM0,30 5,32.2 5.8,33 7.5,35.6 8.5,36.3 10,36.8 11,36.7 12,36.2 12.6,35.5 14,33.1 15,32.5 16,32.3 17.5,32.5 21,33.9 23.5,34.1 30,32.6 34,31.3 35,31.3 36,31.7 39,33.7 40,34.1 41.5,34.4 44,34.3 49.5,32.8 54,32.3 57,32.6 61.5,33.9 63,34.1 64.5,33.9 70,32.8 71.5,32.3 74.3,31 75.5,30.8 76.5,30.9 77.5,31.2 78.5,31.9 79.8,33.5 81,34.4 84.5,35.8 86,36 90.5,35.5 93.5,35.6 95.3,36 99.5,38 101,38.2 105,38 106.5,38.4 107.3,39 107.6,39.5 107.7,40 107,41 105.5,41.7 101.5,42.7 98,45 97,45.4 94,46 88,46.2 86.5,46.5 85.5,46.9 83.4,48.5 81,52.3 79.5,53.4 78,53.8 76.5,53.8 73.5,53.7 68,53.1 66,53.2 64.6,53.5 63,54.3 59.5,56.8 54,59.4 50.3,61.5 49,62.4 48.5,63 48.3,63.5 48.2,64.5 48.7,66 51.5,69.3 52.9,70.5 54.5,71.1 58.5,71.7 61,73.1 64.5,73.3 65.5,73.6 66.5,74.1 68.9,76 70,76.4 79,76.7 80.5,76.1 83.5,74.1 85,73.8 86.5,74.2 90.5,76.1 92.5,76.9 94.5,77.3 100,77.8 104.5,79 106,79 110.5,77.8 113,77.7 115.5,78 120,79.3 122.5,79.5 132,77.9 133.5,77.2 135.7,75.5 137,75.1 139,75.4 143.5,77.8 146,78.5 147,78.4 147.5,77.9 148.2,76 148.8,75 149.5,74.4 150.5,73.9 152.5,73.7 154.8,74 155.9,74.5 156.4,75 156.7,76 156.1,77 155,77.6 152,78.4 148.5,79 148,79.1 147.7,79.5 146.5,84.5 146.1,89.5 145.5,91.7 144.5,93 140.5,97 139,97.9 137.5,98.4 136.5,98.3 135.5,97.9 131,93.4 129.5,92.4 128.5,92.1 126.5,92.1 120.1,93.5 118.7,94 117.4,95 116,97.7 115.5,98 115,98.1 114,97.9 108.4,95.5 107.1,94.5 105.5,92.8 104.5,92.1 103,92.1 100.5,92.9 99,93.1 93,92.2 91,92.3 87.5,92.8 86,92.8 85,92.6 84,92 82.4,90 81.2,89 80,88.5 78,88.1 75.5,88.3 73.5,89.2 71,91.7 68.5,93.6 66.4,97 65.5,98 64.5,98.6 63.5,98.8 58.5,98.2 51.5,98.4 44.5,97.9 36.5,97.9 30,97.6 24.5,97.5 18.5,97.2 11.5,96.5 9.5,96.1 8.5,95.7 7.5,95 6,93.1 5,92.4 4,92.3 0,93.4 0,30ZM6.1,54 4.5,54.4 3.6,55 3.1,56 3.1,57.5 5,62.5 8,67.1 10.9,75 12.2,76.5 15.4,78.5 17.6,81 22.4,83.5 23.3,84.5 24.5,86.5 25.5,87.5 26.5,87.9 28,87.9 29.5,87.5 31.7,86.5 33.6,85 35.5,81.2 36.6,80 37.5,79.5 39,79 43.5,78.7 44.5,78.5 46,77.5 47.4,76 47.8,75 47.5,74.2 44.5,71.7 43.6,70.5 43.2,69.5 42.8,68 42.7,66.5 43.4,62 43,61 41.7,60 37.4,58.5 30,56.7 25,56.3 20,55.5 14.5,55.5 9,54.2 6.1,54Z"/>
<path fill="#333333" d="M346.5,26.4 349,26.4 350.6,27 351.5,27.6 352.3,28.5 352.7,29.5 352.5,30 352.2,30.5 351,31.3 348.7,32 345,32.1 344,31.9 343.1,31.5 342.8,31 342.6,30 342.8,29 343.3,28 344.5,27 346.5,26.4ZM287.5,31.5 289,31.7 291.5,32.8 296,34.2 297.5,35 300,37.1 301,37.6 302.5,37.7 306,36.9 308.5,36.9 314.5,38.4 321.2,39 322.5,39.5 322.9,40 322.7,41 322,42 318.4,44.5 316.4,47 315.5,47.7 314,48.2 311,47.9 310,48.1 309,48.6 306.5,50.7 304.5,51.5 302.5,51.7 295,51.7 292.5,51.5 290,51 287,50 285.6,49 283.9,47 283,46.5 282,46.4 279,46.8 276,47.7 274,48.9 272.8,50.5 272,53 272.1,55.5 272.7,57 273.5,57.8 275.5,59.1 276,59.6 276.4,60.5 276.5,62 276.2,65 276.3,66.5 277.6,70.5 278.2,74 278.7,75.5 280.4,77.5 282.5,78.8 284,79 287.5,78.9 289,79.1 290.2,79.5 291,80.5 291,81.5 290.5,82.3 287.3,84 286.7,84.5 286.2,85.5 286.1,86.5 286.3,88 287.5,91.4 288,92.3 290.5,91.4 295,88.7 296,88.5 299.5,88.7 300.5,88.4 301.5,87.7 302.4,86.5 302.9,85 303.2,82.5 303.7,81.5 304.5,80.9 306,80.5 307,80.8 307.5,81.3 307.5,82 306.2,85.5 306.4,90 306.1,91.5 305.5,92.5 304.5,93.5 301.8,95.5 298.9,99 296.5,101 294.3,103.5 293,104.3 292,104.4 291,104.1 290,103.2 289.5,102.3 288.6,99.5 288,93.9 287.5,92.5 282.5,93.3 280.5,93.1 278.9,92 276.5,88.7 275,87.9 272.5,87.7 270,88.3 268.5,89.4 267,91.4 266,92.4 265,92.7 264.5,92.6 263.2,91.5 261,88.3 260.5,88 259.5,87.8 256.5,88.1 255,87.8 254,87 251.6,84 250,83 248.5,82.7 247,82.6 242.5,83.6 241,83.5 239.5,82.5 236.5,79 234.5,77.9 233,77.5 231,77.3 227,77.9 225.5,77.9 223,77.3 219.5,76.1 217.6,75 215.6,73.5 214.2,72 213.4,70.5 212.7,69.5 211,68.5 208.5,68.3 202.5,68.8 201,68.4 199,66.8 197.5,66.3 195.5,66.1 189,66.3 185.5,66 182,65 175.5,62.2 174,61.8 172,61.7 167,62.5 165,62.4 162.8,61.5 162,60.7 161.7,60 161.9,59.5 162.7,59 167,58.1 170.5,57 174.5,57.2 178.5,56.3 181,56.1 193,56.3 200,56.1 206.5,56.3 219,56.2 229,55.9 234.5,55.8 248.5,56.5 253.5,56.4 260,57.7 263,57.8 265.5,57.6 266.5,57.3 267.5,56.6 268.1,55 268.1,53.5 267.8,52.5 267,51.5 266.5,51.2 264.5,50.7 262,50.7 255,51.9 253.5,51.6 252.5,50.8 252.1,50 252.2,49.5 253.3,46.5 253.5,44.5 252.9,42.5 251.4,39.5 251.1,38.5 251.2,38 251.5,37.7 252,37.6 257,38.6 260.5,38.7 261.5,38.4 262.2,38 262.5,37.5 263.5,35 264.5,34.1 265.5,33.7 268,33.3 281.5,33.1 284,32.7 286.5,31.7 287.5,31.5ZM268.5,77.5 267.5,78.5 267.2,79.5 267.2,80.5 267.5,81.5 268.5,82.3 269.5,82.6 270.5,82.5 271.6,82 272.2,81.5 272.8,80.5 272.9,79.5 272.5,78.3 271.7,77.5 270.5,77.1 269.5,77.1 268.5,77.5ZM328,32 330.5,32 334,31.8 336,31.9 337.5,32.4 338.5,32.9 338.9,33.5 338.8,34 337.9,35 337.1,35.5 334.5,36.4 331.5,36.8 328.5,36.7 327.8,36.5 327,36 326.5,34.5 326.5,33.5 326.9,32.5 327.5,32.1 328,32ZM33,33.5 35,33.7 37.5,35 39,35.5 42.5,36 45,35.8 51,34 53,33.8 55,33.9 56.5,34.3 57.5,35 59,37.6 69.5,34.4 73.5,33.5 75,33.5 76,33.9 77.8,35 81.5,36.4 85,38 86,38 88.5,37.1 90,36.8 92,36.8 93.5,37.2 94.9,38 96.4,39.5 97,40.5 97.2,41.5 96.8,42.5 96,43.4 95,43.9 94,44.2 91,44.2 86,43.2 85,43.3 79.9,46.5 79.1,47.5 77.9,50 76.5,51.1 75.5,51.4 74,51.5 69.5,51 67,50.9 64,51.2 62.2,51.5 60.5,52.3 58,55 56.6,56 54,57 49,58.4 43.5,58.4 40.5,58.2 36.5,57.4 30.5,55.7 25,55.5 19.5,54.4 15,54.4 8,53 5,53 3.5,53.4 2.4,54 1.4,55 .9,56.5 1.1,58 1.9,61 2.5,64.5 3,65.5 5,67.2 6.1,68.5 9.5,76.5 10.6,77.5 14.5,79 17.2,81.5 21,83.2 22,83.9 22.9,85 24.5,88.1 25.5,89 27,89.4 28.5,89.2 32.5,88.1 34.5,87.3 36.1,86 38.3,82.5 39.5,81.8 41,81.7 44,82.2 45.5,81.8 50.5,77.3 52.4,74 53.3,73.5 54.5,73.3 55.5,73.5 56.5,74 58.3,75.5 59.2,76 60.5,76.3 64,76.6 65,77 67,78.3 68.5,78.6 74,78.6 77.5,79 79,79 80.5,78.4 84,76.3 85.5,76 87.5,76.6 90.5,78.5 91.5,78.9 93,79 97.5,78.8 99.5,78.9 101.3,79.5 103.5,80.9 104.5,81.2 106,81 109,79.5 110.7,79 113,78.8 115,79.1 119.8,81 121.6,82 122,82.5 122.2,85 123.1,88.5 122.9,89.5 122.6,90 121.2,91 116.5,92.1 113,93.8 112,93.9 111,93.8 109.5,93 107,89.4 104,87.1 102.2,84 101.5,83.6 100.5,83.4 99,83.7 98,84.2 97.1,85 95.5,87.2 94.5,87.7 93.5,87.9 87,87.6 82.1,86.5 78,86.2 73.5,86.5 69.5,87.8 68.5,87.9 61,86.8 59.5,86.8 55.5,87.5 50.5,87.2 49.5,87.5 48.5,88.3 47,91 46.2,92 45.4,92.5 44,92.8 38.5,92.7 31,93.5 25,93.5 12.5,94.1 11,93.9 9.7,93 9.1,92 8,88.8 7,87.9 6,87.8 4.5,88 3,88.6 1,89.7 0,90 0,40 4,38 5,38 11.5,39.2 13.5,39.2 14.5,38.6 16,36.8 17,36.2 19,35.9 23.5,36.2 25,36.1 29,34.4 33,33.5ZM159.5,34 173,33.9 178.5,34 184,33.8 185.5,34.2 188.5,35.4 190,35.8 196.5,35.8 200.5,36.3 201.5,36.8 201.7,37.5 200.9,41 200,43.1 198.5,44.6 195,47.1 193.5,47.4 191.5,47 190.5,47 187.5,48.2 185.5,48.7 180.5,48.6 179,49.1 175.5,51.1 174.5,51.4 173,51.5 168,51.1 158.5,50.8 151,51.1 149.5,50.8 145.5,49.2 140,48.7 135,46.7 132.8,45.5 129,42.8 127.9,41.5 127.5,40.5 127.6,39.5 127.9,39 129,38.3 130.5,38.2 133.5,38.6 134.5,38.5 135.5,38.2 138,36.5 139.5,35.9 141,35.7 144,36.2 145,36.1 148.5,34.6 150,34.2 156,34.2 159.5,34ZM360,40 360,90 358.5,89.6 356,87.7 354.5,87.1 351.5,87 347,87.8 345.5,87.5 341.3,84.5 336,82.1 332,79.7 327,77.8 325,76.4 323.5,74.4 322,71 321.7,69.5 321.4,66.5 321,65 320.2,64 317.5,61.5 317,60.5 317.1,60 318,59.5 320,59.2 327.5,59.5 340,59.1 342,58.7 345,57.4 346,57.2 350.5,58.3 352,58.2 352.9,58 353.5,57.5 353.7,57 353.3,55.5 351,52.9 348,50.5 347.7,50 347.5,48.5 347.9,47 348.6,45.5 349.7,44 351,42.6 352,41.9 354,41.1 360,40ZM136.5,77.8 137.5,77.6 138.5,77.6 140.5,78.4 142.9,80 143.3,80.5 143.6,81.5 143.6,82.5 142.8,85 143.7,88.5 143.5,90 142.7,91 141,92.3 139.5,93.1 138,93.5 137,93.4 136,93 132.5,90.1 131,88.5 128.4,85 126.4,83 125.7,82 125.7,81.5 126,81 127.4,80 129.1,79.5 134,78.8 136.5,77.8Z"/>
<path fill="#2B2B2B" d="M31.5,36 33,36 37.9,37 43,37.4 45.5,37.1 50,35.8 52.5,35.8 53.2,36 53.7,36.5 53.8,37.5 53.7,40 54.2,41.5 55.2,42.5 57,43 58.5,42.9 59.5,42.4 62,39.1 63.5,38 69,36.1 71,35.7 73.5,35.8 79,36.9 80.5,37.4 81.7,38 82.8,39 83.3,40 83.4,40.5 82.8,42 81.8,43 80.5,43.8 77,45.3 76.2,46 74.5,48.1 73,48.8 68.5,49 64.5,48.9 60,48.1 55.5,47.9 52,46.6 50.5,46.6 49.5,47.3 49,48.2 48.6,49.5 48,53 47.3,54.5 46.5,55.3 45.4,56 42.5,56.9 40,57.1 36.7,56.5 34,55.5 31.5,53.8 27,54.4 25.5,54.5 24,54.2 20,53.1 15,53 10,52.1 6.5,51.9 3,52.2 1.5,52.7 0,53.5 0,42.1 2.5,41.8 8,40.9 10,41.1 12.5,41.7 14,41.7 15.4,41 17.5,38.6 19,37.7 20,37.5 21.5,37.6 25.5,38.7 27,38.8 28,38.3 30,36.5 31.5,36ZM32.1,49.5 31.5,50 31.3,50.5 31.3,51.5 31.5,52.5 32,53.1 32.5,53.2 34,52.9 35.5,52.2 36.2,51.5 36.7,50.5 36.5,49.7 35.5,49.2 33.5,49.1 32.1,49.5ZM150,35.9 151.5,35.6 153.5,35.7 157,36.1 160.5,36.9 165.5,36.4 172,37 183.5,36.2 185,36.5 187,37.3 189,37.8 194.5,37.8 196.5,38.1 197.5,38.5 198,38.9 198.4,40 198.1,41 197.5,41.9 196.5,42.7 195.5,43.2 194,43.4 191.5,43.2 190,43.3 189,43.7 187,45.5 185.5,46.3 184,46.6 181.5,46.4 180,46.5 175.5,48.8 173.5,49.2 166,48.6 160,49.1 158,49 154,48.4 151.5,48.6 150.5,48.5 144.3,46.5 143.5,46 141.1,43.5 138,42.2 137.3,41.5 137.3,40.5 137.8,39.5 138.6,38.5 139.5,37.9 141,37.7 144,38.5 145,38.4 146,38.1 148.6,36.5 150,35.9ZM292.5,36.4 294.5,36.3 296,37 297.2,38.5 297.5,40 297.1,41 296.7,41.5 294.3,43 293.3,44 292.9,45 292.5,47 292.1,48 291.1,48.5 290,48.5 289,48.1 288.3,47.5 287.1,45 286.4,44 283,41.6 282.5,40.5 282.5,39 283,37.8 283.5,37.3 284.4,37 286,36.9 289.5,37.3 290.5,37.2 292.5,36.4ZM89.5,38.5 91,38.3 91.7,38.5 92.7,39 93.4,40 93.5,41 93.3,41.5 92.5,42.1 91,42.3 89.5,42 88.6,41.5 88.1,41 87.9,40 88.6,39 89.5,38.5ZM261,41.5 263,41.3 265,41.4 266.5,41.8 267.6,42.5 268.5,44 268.7,45.5 268.4,47.5 267.7,48.5 267,48.9 266,49.2 263.5,49.2 260,48.8 258.8,48.5 257.8,48 257.3,47 257.5,43 257.8,42.5 258.5,42 261,41.5ZM354.5,42.5 356.5,42.2 360,42.1 360,53.5 358.5,54.2 357.5,54.3 356.5,54.2 354.5,53.3 352.4,51.5 351.3,50 350.8,49 350.4,47 350.6,46 351,45 352.5,43.4 354.5,42.5ZM230.5,58 246,58.6 253.5,58.6 259.5,59.1 265,59.1 266.5,59.5 267.2,60 267.7,61 267.8,63 267.5,64.5 266.9,65.5 266,66.4 263.5,68.3 261.5,71.7 260.5,72.4 259.5,72.7 258,72.8 255,72.6 251.5,72.7 250.1,72.5 248.5,71.6 246.7,68.5 245.5,67.5 244,67.2 240,67.3 236.5,67.1 235,67.3 234,67.9 233.3,69 232.5,71.4 232,72.2 231,72.8 230,72.9 229,72.5 228.5,72 227.2,69 226.6,68 226,67.5 225,67.2 224,67.4 223,68.2 222.4,69.5 221.8,72.5 221.5,73 220.5,73.4 219.5,73.2 218.5,72.5 217.2,71 215.5,68 214.5,67.2 213.5,66.7 211,66.2 206,66.4 204.5,66.2 203.1,65.5 201,63.7 199.5,63.2 198,63.2 194.5,63.8 190.5,63.6 186.5,64 184.5,63.8 181.5,63 179.3,62 178,61 177.5,60 177.6,59.5 178.5,58.7 179.5,58.3 181,58.1 186,58.5 194.5,58.5 200,58.2 207.5,58.6 223,58.4 230.5,58ZM322,60.9 324,60.8 329.5,60.8 338,61.1 340,61.3 341,61.8 341.5,62.5 342.1,65 342.7,66 343.5,66.7 344.5,67.1 345.6,67 347,66.2 348,65 349,62.9 349.5,62.4 350.5,61.9 353,61.8 356.5,62.3 357.4,63 357.7,64.5 357.3,66 356.5,66.9 353.6,69 351,71.4 350,72 348.5,72.4 347,72.5 339,71.9 337,71.9 335.5,72.1 333.9,73 332,76 331,76.6 330,76.7 328,76.1 326.5,75.1 325.2,73.5 324,71.5 323.4,69.5 323.4,66 323.2,65 322.8,64 321.4,62 321.3,61.5 322,60.9ZM339.5,77.3 341.5,77.1 347,77.8 353.5,77.1 356,77.1 358,77.7 359.2,78.5 359.9,79.5 359.9,80.5 359.5,81.2 358.6,82 356,83 354,83.2 345.5,83.4 340.5,82 339,81.4 337.6,80.5 337.2,80 337.1,79 338,78 339.5,77.3ZM58.5,78.5 59.5,78.3 60.9,78.5 62,79 62.6,79.5 63.1,80.5 63.2,81.5 63,82.2 62.5,82.8 61.5,83.3 60,83.5 58.5,83.1 57.7,82.5 57.3,81.5 57.2,80 57.6,79 58.5,78.5ZM84,78.5 85,78.2 86,78.3 87,78.8 87.5,79.3 87.9,80 88.1,81 87.8,82 87.4,82.5 86,83.2 84.5,83.4 82.5,83.2 81.9,83 81.2,82.5 81.2,81.5 81.7,80.5 82.6,79.5 84,78.5ZM12.5,80 14,80.1 16.6,82 20.4,83.5 21.8,84.5 22.7,86 23.4,88.5 23.5,90 23,90.9 22,91.5 20.5,92 16.5,92.5 13.5,92.3 12,91.5 11.3,90.5 11.1,89.5 11.2,88 11.9,85 11.5,81.5 11.8,80.5 12.5,80ZM131,80.9 132.5,81 136,81.9 137,82.4 137.5,82.9 137.9,84 138,85.5 137.7,87 137,87.9 136,88.2 135,88.1 134,87.6 132.8,86.5 130,83 130,81.3 131,80.9ZM295.5,91.4 297,91.4 298.1,92 298.5,93 298.1,95 297.1,96.5 296,97.5 294,98.3 292.5,98.4 291.9,98 291.6,97 291.6,96 291.9,94.5 292.5,93.5 293.4,92.5 294.5,91.8 295.5,91.4Z"/>
<path fill="#3F0000" d="M151.5,37.4 153.5,37.5 155.3,38 156.6,39 157.7,40.5 158.5,41.2 161.5,42.6 162.2,43.5 162.5,44.5 162.4,45.5 162,46.2 161.5,46.6 160.7,47 159.3,47 158,46.4 156.4,44 155.5,43.2 153.5,42.9 148.5,43.1 147.5,42.9 147,42.5 146.9,41.5 148.1,39.5 149.8,38 151.5,37.4ZM48.5,37.9 50,37.9 51,38.5 51.5,40 51.2,42 50.5,43 48,44.7 47.1,46 46.6,47.5 46,51.3 45,53.4 44,54.5 42,55.5 39.5,55.8 37.8,55.5 36.8,55 36.4,54.5 36.5,54 38.2,51.5 38.7,50.5 38.8,49.5 38.7,49 38.4,48.5 36.5,48 31,47.8 29.5,47.9 29,48.3 28.5,49 27.5,51.7 26.5,52.5 25.5,52.7 24.1,52.5 21.5,51.6 19.5,51.2 15,51.2 6,50.7 2.5,50.9 0,51.3 0,43.9 3,43.9 8.5,43.4 12.5,44 14,43.9 15,43.6 16,42.9 18,40.4 19,39.5 20.5,39 22,39.3 23,39.8 24.3,41 26.5,43.6 27.5,44.1 28,44 28.5,43.7 31.5,40.5 32.5,39.9 34,39.3 37.5,38.8 44.5,38.9 48.5,37.9ZM67,38.4 70,38.1 78.5,38.2 79.6,38.5 80.5,39 81,39.5 81.3,40.5 80.9,41.5 80,42.2 78.5,42.8 75.5,43.2 74.5,43.5 73.5,44.2 72,45.7 70.6,46.5 68.5,46.9 66,46.8 64.5,46.3 63,45.4 62.4,44.5 62.2,43 62.6,41.5 63.5,40 65,39 67,38.4ZM169.5,42 171,41.6 172.5,41.6 175.7,42 176.8,42.5 177.3,43 177.6,43.5 177.5,44.5 176.3,46 174.5,47.1 172.5,47.3 170.4,47 169.3,46.5 168.6,46 168.3,45.5 168,44.5 168.3,43 168.7,42.5 169.5,42ZM263.5,43.4 264.5,43.3 265.3,43.5 266,44 266.4,44.5 266.6,45 266.6,46 266,47 265.5,47.3 264.5,47.6 263.5,47.5 262.5,47.1 261.9,46.5 261.6,45.5 261.8,44.5 262.5,43.8 263.5,43.4ZM355,44 357,43.7 360,43.9 360,51.3 357.5,51.8 356,51.7 354.5,51 353.5,50 352.9,49 352.6,48 352.5,46.5 353.3,45 354,44.4 355,44ZM15.5,83 17.5,83.2 19.5,83.7 20.5,84.2 21.5,85 22,86 22.3,87.5 22.1,89 21.5,89.8 20,90.7 17.5,91.2 15.5,91.1 14,90.5 13.3,89.5 13.3,88 14.5,83.6 15,83.1 15.5,83Z"/>
<path fill="#600000" d="M34.5,40.9 36,40.7 37.5,40.8 38.5,41.2 39,41.8 39.2,43 38.9,44.5 38.5,45.5 37.5,46.4 36,46.9 34,46.9 32.5,46.5 31.7,46 31.3,45.5 31.1,44.5 31.6,43 33,41.5 34.5,40.9ZM20,41.2 20.5,41.1 21.5,41.4 22.5,42.5 23.1,44.5 23,46.6 22.5,47.5 21.8,48 21,48.2 19.5,48.4 17.4,48 16.6,47.5 16.5,47.2 16.7,46 18.7,42.5 19.5,41.5 20,41.2ZM16.5,84.4 17.5,84.1 18.5,84.1 19.9,84.5 20.6,85 21.2,86 21.4,87 21.3,88 20.5,89 19.5,89.5 18,89.7 16.1,89.5 15.5,89 15.2,88 15.3,86.5 15.9,85 16.5,84.4Z"/>
<path fill="#8B0000" d="M34.5,42.4 36,42.4 36.9,43 37.1,43.5 37.1,44.5 36.3,45.5 35.5,45.8 34.5,45.8 33.6,45.5 33,45 32.9,44.5 33.1,43.5 33.5,43 34.5,42.4Z"/>
<path d="M358.3 24.9L358.2 27.5L356.5 28.5L355 30L351.3 31.3M351.3 32.3L346.8 32.3M343 38.7L347 38.7L347 37L348 36.5L348 34L351.3 32.7L351.3 31.3M351.3 32.7L355.2 35L354 39L354.5 43.5L348.5 44.5L347.8 45.5M-4.8 35L1.2 39.3L3.3 41L4.2 40.8L5.8 40.5L12 36.5M355.2 35L361.2 39.3L363.3 41L364.2 40.8L365.8 40.5L372 36.5M8.5 23.1L8.2 25.5L9.5 28L10.3 29.5L9.5 30L9.8 33L10 35.5L11.9 36.5M11.9 36.5L13.5 37L15 37L24 40.5L24 38M25 28.4L25 38L36.9 38M24 40.5L22.5 46L22 47.5L22.5 49M15.5 37L15.5 39.5L14 46.5M3.6 48.3L5 46.3L9 47.2L12.5 46.5L14 47M4.2 40.8L4.2 43.5L1 45L0.2 45.2M364.2 40.8L364.2 43.5L361 45L360.2 45.2M-11.5 44.5L-11.4 47.6L-8.5 49L-5.5 49.6L-3 49L0 49L1.5 47.5L0.2 45.2L-2 45L-4 46L-5.5 43.5M348.5 44.5L348.6 47.6L351.5 49L354.5 49.6L357 49L360 49L361.5 47.5L360.2 45.2L358 45L356 46L354.5 43.5M347.8 45.5L348 47.5L346.3 47.8L345 47.5L343.3 47.6M346.7 50.5L349 51.5L349.7 51L351.5 52.4L351.7 54L352.5 55.6M357 55L357.2 50.5L357.2 49M0 49L0.5 52L1.2 53.9M360 49L360.5 52L361.2 53.9M1.6 53.8L1.6 51L3.6 48.3M2.7 53.6L3.6 48.3M8.5 55.4L9.5 53.5L11.5 53L13.5 49.5L14.5 47.5L14 47M14.5 47.5L15.5 50L14.5 52L15.5 52.5L16 57L18 56.5M15.5 52.5L18.5 51.2L22 49.2L22.5 49M16 58L18 56.5L21 55.8L25 55L27.4 54.9M22.5 49L24 51.5L27.4 54.9M23.5 50L27 50.5L33 50L34 50.5M34 50.5L34 52L35.8 55.4L34 55.8L33.5 56.3L31 56.3L30 55.5L27.4 54.9M36.5 45.7L36.2 47.5L35 49.5L34 50.5M36.5 45.7L38.5 45.5L40 45.5L42.5 47.5M43.3 48.2L44 51L48 52L45 55L42 56L41 56L40 56L39 56.5L35.8 55.4M41 56L41 61.7M34 55.8L35 59L34 61L37.5 63L39.3 64.7M30 61L33.9 61M31 56.3L30 58.5L29.7 61L29.2 63.4M12.2 66L12.5 65L13 64.5L16 65L17 63L17.7 60L18 58L18.5 56.5M9.8 57.7L11.3 57.8L14 57.8L16 58L16 61L14.5 62.3L12 62.8L11.5 64.5M12.2 66L16 67.5L17.5 68L19 67.5L21 67.3L22 71L24 71L24 73L22 73L22 76L23.5 77.8L21 78L11.8 77.2M21 78L20 82L20 84.8L20 88.5L17 88.3L16.5 88.7M23.5 77.8L25.2 77.8M24 71L25.5 71.3L27.5 72.3L28.5 71L29.5 72.5L29 73.5M28.4 69.5L28.5 68.5L30.5 68.5M25.2 77.8L28 76.5L30.4 75.7L33 74L32.7 73.5L33.5 70L34.3 69.5M40.5 70.5L38 71.3L35.5 71.5L34.9 71.5M35.3 74.3L35.8 76L35.2 77L34.3 75.5L33.3 74.5M30.4 75.7L32.8 76.5L33 79L32 81L31.3 82.4M25.2 77.8L27 80L29 82L31.3 82.4M20 84.8L23 85.5L25.5 85.5L27 84L29 82M31.3 82.4L32 84L32 86.3L32.9 86.8M27 89.8L28.5 88.6L29.5 89.3L28 90.6L27 89.8M36 23.2L37 23.3L40 23L42.3 22.9L44.8 22.8M41.5 18.5L43.5 18.9L44.8 20.3L44.5 22L44.8 22.8M40 16.6L42 16.8L44 17.3L46 18.1L48.5 18.2M44.8 20.3L46.5 21.1L48 21.5L49 21.7M44.8 22.8L45.5 24.5L46 27L47.8 28.5L48.6 30M42.3 22.9L41 25.5L39 27.7L37 28.5L39 28M39 27.7L42 29L44.7 30.8L46.5 30.9L47.7 31.5M42.7 43.5L44 42.6L47 43L49 41.5L52 41L55.7 38L55.5 36.5L56.3 35.1M35 30.5L35.5 28.5L35.6 27M35.9 25.4L36.5 25.5L35.8 26.7M53.9 22.6L56 22L58 22.3L60.5 23.4L61.2 24.4L60.5 26L60.9 28.5L61.7 28.7L62.5 30.6L61 32L61.6 33.5L61.7 34.9M61.2 24.4L62.5 24.7L64.5 23.5L66.5 22.6L68 23L70 22.5L71.5 22.1L74.9 22.8M62.5 30.6L66 30.5L66.5 29.5L68 28.5L69.3 29L70.5 27.5L69.5 26L71 25.4L71.5 24L74.9 22.8M68.2 36.3L70.8 34.3L69.5 33L72 31.7L74.5 29L75 27.5L74 25.5L77.8 24.5M77.8 24.5L79.5 25.5L78.8 27.5L79 29L80.3 29.5L81 29.8L84 31.5L88 32.1L88.2 32.8L89 32.7L92 32.2L94 31.1L96 30.8L97.3 31.8M80.3 31.3L83.5 32.6L86 33.4L88.2 33.5M88.2 33.5L89 34.8L88.5 36.5L89 38M89.5 34L92 35L92.3 36.3L92.6 38.7M92.6 38.7L93.3 36.5L94.5 34.5L95.2 33.3L97.3 31.8M97.3 31.8L98.5 33L98.7 35L97.7 36L99 37.8L101.2 38.7L102 37.6L103.5 37.4L105.5 37L106.7 37.3L108 38.5M98.6 50L99.2 48.5L98.3 44.8L98.5 43.5L97.6 41.5L100 39.6L101.2 38.7M100 39.6L101 42.5L102.5 42.1L104.7 43.5L105.5 45.8M102.5 48L102.7 46.5L105.5 45.8L107.5 45.5L106.5 48.5L105 49.5M107.5 45.5L107.5 44L105 41.2L104 40.5L103.2 39.2L102 37.6M100.3 53.5L101.5 54.2L102.1 53.8M109.6 58.2L111.5 59L113.5 58.8L115 57.5L115.5 55.8L117.5 55.8M87.8 10.8L90.5 12.2L91 13.5L90.5 15L93.5 15.1L96.4 17.3L100.8 17.4L105 18.4L107.5 17.6L111.9 16.3L111.5 15L113.5 15.2L116 14.3L119.7 13.4L118.5 12.2L116 12.1L115.5 11.9L116.7 10.2M87.8 10.8L90 9.6L92 9.4L97.8 10.2L98 8.3L102 8.7L106 9.7L108 10.4L114.4 9.8L116.7 10.2M116.7 10.2L118 10.1L119.5 7.4L121 6.7L123.5 6.5L126 7L127.5 10.2L130.5 11.2L132.5 12.3L134.8 11.7L134.2 13L133.2 15L131.3 15.2L131 17.1L130.7 17.7M124.4 20L126 19L128.2 18L129.7 17.5L130.7 17.7M126.2 22.2L127.5 21.7L128.4 21.4M87.8 10.8L86.5 11L85.5 13L83 12.8L82.5 14.5L80 15L80.3 17.8L78.5 18.5L76.5 19.5L74.5 20L73.7 20.6L74.9 22.8L75.5 23.2L77.8 24.5M38.2 12.9L40 11.8L40 10.4L38.3 10L35.5 9.6L34 8.5L32 7.9L30.6 8.6L27 8.4L24 8.4M24 8.4L23.6 9.6L22.6 10.9L22.9 12L24.9 12.3L26.6 11.7L28 11.8L30 13.4L28.8 14.7L28.2 14.5M26.6 11.7L28.2 14.5M22.9 12L21 13.8L20.3 13.9L22.5 15.5L22.7 16.2L25 16.3L27 15.9L28.6 16.3M22.7 16.2L22.4 17.7L23 18.7L26 18.7L28 18M20 20.3L20.8 19.1L22.9 18.7M19.4 18.2L20 17.4L20.7 17L19.2 16.5L19.5 15.2L18.8 14.1L17 14.1L16.5 13.5L15.4 13.4L13.7 13.5M20.3 13.9L19.5 15.2M16.5 16.6L17.5 15.5L19.2 16.5M16.1 13.2L16.9 12.3L17.2 12L18.8 12.2L20.5 11.5L22.1 11.6L22.9 12M13 12.5L12.5 12.4L10.5 12.5L9.6 12.5L8.6 12.3L7.6 12.4M13.8 11.3L15 11L17 11.4L17.2 12M12.1 9.7L14.8 9.1L16.5 9.6L18.8 10.5L20.5 10.6L22.6 10.9M14.2 6.1L14.6 7.5L14.8 9.1M12.1 9.7L13.8 11.3M7.6 12.4L8.2 11L6.4 10.5L5.8 10.5L4.8 10L2.5 8.9M3.4 8.6L5 8.5L6 9.2L6.1 8.1L7 7.8L7.2 6.7M6 13.7L7 14.1L7 15.8L7.5 16.2M7 14.1L8.5 13.5L10.5 13.5L12.2 13L13.7 13.5M-1.8 16.6L0 17.3L3.2 17.6M358.2 16.6L360 17.3L363.2 17.6M351.1 18L353.5 18.2L353.1 20L352.6 21.5L352.6 22.8M24 8.4L23.2 7.7L23.5 6.1L22.8 5.6L19.5 5.6M21 3.9L26.5 4.3L28 3.9L27.7 2.5L26 2.2L24.3 2.1M23.5 6.1L25.5 5.7L26.5 4.3M28 3.9L31 4.4L32 6.2L31.6 7.9L30.6 8.6M27.7 2.5L28 0.5M8.6 5.1L9.9 5.2M236.7 11L264.8 11L264.8 10.6L265.2 10.7L267 11.4L270.5 12M277.5 14.7L277.6 17L276.9 17.9M281 16.7L283.5 15.8L285 15L288.5 15L289.2 14.6L290 13.3L290.8 12.6L292 12.7L292.2 14.3L293 15.2M219 -0.2L220.9 -0.3L222.5 1L224.5 0.2L226.5 1.6L228.5 3.5L230 4.1L230 5.3M242.9 27.5L245.3 27.3L249 28.7L251.8 28.7L251.8 28.2L253.5 28.2L255.5 30.4L257 31L258.6 30.2L260.5 32.5L262.8 34.1M267.8 45.5L268 42.2L269 42.2L268.6 43.9L269.5 44L270.8 42.2L271.7 41.5M270.8 42.2L270.8 44.1L271.8 44.3M270 46.3L270.7 45.6L272.2 46.1L272.5 47M272.5 47L275 46L276.7 45M274.3 48.8L276.3 49.1M277.1 51.9L277.4 50.4M282.6 51.3L282.1 52.8M236 13.7L241 14L243.1 14M243 11L243 13.6L243.5 14.5L243 15.7L243 18M235.8 18L249 18M240 18L240 21L245.4 25M246 18L246 23L245.4 25L245.3 27.3M246 23L258 23L265.4 23M251 19L251 28.7M244 11L244 12.5L245.5 14L247 15.5L249 15.5M249 15L256 15M249 15L249 19L256 19L256 15M249 19L258 19L258 20M258 19L258 23M257 23L257 28L253.4 28M257 23.5L260 23.5L260 25.4L263 26.2L265.5 26.4M256 11L256 15L256 17M256 14L263.4 14M256 17L261.5 17L263.5 17.5M258 20L264.7 20M262.8 11L263.4 14L263.5 16.5M263.5 16.5L268.8 16.5M264.2 19.4L268.5 19.4M265.4 23.5L270 23.5M265.4 23L265.4 23.5L265.5 26.4M264.2 19.4L263.5 17.5M266 27L269 27M266 27L266 30.3M268.5 29L270.3 29L270.5 29.8M271.8 25L271.6 29.7M274.4 25L275 28L275 29M272.4 29L275 29L275.2 29.3L278 29.4L278.5 29.3M270 23.5L278.3 23.4L284.1 23.4M269.7 25L275.7 25L277 24.8L278 24.8L279 25L281.5 26.1M276.7 25L279 27.9M267.1 13.2L267.7 14.5L268.8 16.5M272.2 17.5L269.4 17.5M272.5 18.3L272.5 22L272 22.2M268.8 16.5L269.4 17.5L268.6 19.4L269.8 21.2L270.8 23L270 23.5L269.9 25L269 27L268.8 29M275.2 18.3L275.2 20.9M270.8 23L272 22.2L274 22L275.2 20.9L277.4 21.6L279.4 19.4M272.5 18.3L276.5 18.3M279.5 18L279.5 20.3M279.5 18L280.2 18L284.7 18L285 18.6M279.5 20.3L284.2 20.3M277.4 21.6L278.3 22.7L280 22.5L281.5 20.6L282.3 20.7M276.3 23.4L278 22.5M286.7 15L286.7 17.3L286.5 19M287.5 15L287.5 17.3M286.7 17.3L289.1 17.1M286.5 18L288.2 18M289 14.7L289.3 16.9M288.4 48.6L287.7 49.2L287 50.8L287.7 52.5L290 53L292.5 53.8L292.2 55.5L292.7 58L293 58.9M293 58.9L290.5 59L290.6 61.1L290 64.2M281.2 58.5L283 59.5L284.7 60.1M284.7 60.1L287 62.5L290 64.2M279.8 63.4L281 64.8L282 63.5L284.7 60.9M290 64.2L287 67.4L286.5 69.4L289.5 71L291 71L290.5 73L291.3 72.5M291 71L290.5 74L291 76L290.2 77.5L289.6 78.3M290.2 77.5L291.5 79.8L292 81L292.8 82.8L294.5 82L297.2 82.2M291 71L294 69.8L294.5 69.8L296.5 72.5L299 73.5L300 75.5L301.8 76.3L302 79.5L300.2 79.4L298.2 79.6L297.2 82.2M292.8 82.8L291.7 85L291.5 88L290 89.5L289.5 93L290 95L289 97L288.5 100L288.2 104L288.5 106L287.5 107.5L286.7 110L287.7 111.8L291 112.3M297.2 82.2L299 83.5L302.3 85.5L305.4 85.6L306.2 87.2L304 88.6L302.4 90.2L301.8 93L301.6 94M302 79.5L302.2 82.1L304.2 82.3L305.8 84L305.4 85.6M302.4 90.2L304 91L306.6 93.7M300 51.7L298.8 53.4L298.7 54.8L299.3 54.8L299.8 55.5L297 56.1L295.4 55.9L296 58.5L293.7 59.3L293 58.9M299.8 55.5L300.3 58.1L303 58.5L304 58L306 57.8L307.5 57.7L308.4 55.9M302.8 54.1L302 56L302.7 58M306 54.3L305.8 56.5L306 57.8M141 62.6L141 69.1" fill="none" stroke="#007F00" stroke-width="1.6" vector-effect="non-scaling-stroke" stroke-linejoin="round"/>
<path d="M-5.9 24.2L-6.5 26L-9.5 28L-9.8 30.5L-13 32.5L-14.5 34L-16 36L-17 39L-16.5 40.5L-16.2 42L-17.2 45.3L-16.7 46.5L-16.8 47.7L-15.5 48.5L-14.5 49.5L-13.3 50.5L-12.5 52.2L-11.3 53.1L-9.8 54.4L-7.5 55.6L-5 54.9L-2 55.2L0 54.5L1.5 53.8L3 53.6L4.5 53.7L5.8 55.7L6.8 55.6L8.5 55.4L9.5 56.2L9.8 57.5L9.4 59L9.3 60.5L8.8 61.5L10 63L11.5 64.5L12.2 66L13.2 68.5L13.5 71L12 74L11.8 77L12.5 78.5L14.5 82.5L15 87L16.5 88.7L17.5 91L18.3 94L20 94.8L22.5 94L25.6 94L27.5 93.2L29.5 91.2L31 89.5L32.4 88.5L32.9 86L32.6 85.5L35.5 84L35.5 82L35 80L36.8 78.5L39.5 76.5L40.8 74.5L40.5 71L39.5 68L39 66.5L39.3 64.7L40.2 62.7L41.5 61.5L43.5 59L46 57L48 55L49.8 51.5L51.2 48.2L49 48.7L45 49.5L43.3 48.2L42.7 47.2L41 45L39.2 44.2L38.5 42L37.3 39L36.9 38L35.5 36.1L34.6 34L33.5 32.2L32.5 30.1L32.3 28.8L31 28.5L30 28.8L29 29.1L27.3 28.7L25 28.4L23 27.4L21.5 27.1L20 28L20 29.1L19 29.7L17.5 29L15.5 27.7L13 27.1L11.5 26.8L10.2 26.2L11 24.7L10.3 23.2L11 22.9L9.8 22.7L8.5 23.1L6.5 23L5 23.2L3 23.2L1 23.5L-1.5 24.8L-2.2 24.9L-5.9 24.2M354.1 24.2L353.5 26L350.5 28L350.2 30.5L347 32.5L345.5 34L344 36L343 39L343.5 40.5L343.8 42L342.8 45.3L343.3 46.5L343.2 47.7L344.5 48.5L345.5 49.5L346.7 50.5L347.5 52.2L348.7 53.1L350.2 54.4L352.5 55.6L355 54.9L358 55.2L360 54.5L361.5 53.8L363 53.6L364.5 53.7L365.8 55.7L366.8 55.6L368.5 55.4L369.5 56.2L369.8 57.5L369.4 59L369.3 60.5L368.8 61.5L370 63L371.5 64.5L372.2 66L373.2 68.5L373.5 71L372 74L371.8 77L372.5 78.5L374.5 82.5L375 87L376.5 88.7L377.5 91L378.3 94L380 94.8L382.5 94L385.6 94L387.5 93.2L389.5 91.2L391 89.5L392.4 88.5L392.9 86L392.6 85.5L395.5 84L395.5 82L395 80L396.8 78.5L399.5 76.5L400.8 74.5L400.5 71L399.5 68L399 66.5L399.3 64.7L400.2 62.7L401.5 61.5L403.5 59L406 57L408 55L409.8 51.5L411.2 48.2L409 48.7L405 49.5L403.3 48.2L402.7 47.2L401 45L399.2 44.2L398.5 42L397.3 39L396.9 38L395.5 36.1L394.6 34L393.5 32.2L392.5 30.1L392.3 28.8L391 28.5L390 28.8L389 29.1L387.3 28.7L385 28.4L383 27.4L381.5 27.1L380 28L380 29.1L379 29.7L377.5 29L375.5 27.7L373 27.1L371.5 26.8L370.2 26.2L371 24.7L370.3 23.2L371 22.9L369.8 22.7L368.5 23.1L366.5 23L365 23.2L363 23.2L361 23.5L358.5 24.8L357.8 24.9L354.1 24.2M32.3 28.8L34.2 28.7L34.5 28.5L35 27L35.5 26.1L35.9 25L36 24.2L35.9 23.2L34 23.8L32 23.7L30.6 23.2L29.5 23.8L28 23.3L27.2 23L26.3 21.5L26.2 20L26 19.2L24 19.2L22.8 19.5L22.8 20.8L24 21.8L23.2 22L22.7 23.5L21.8 23.2L21 21.7L20.1 20.4L19.4 19.7L19.4 18.2L18 17.4L16.5 16.6L15 15.8L13.7 15.1L13.7 14.4L12.4 14.6L12.3 15.7L13.5 16.4L14 17.3L15.1 18.1L16 18.5L18 19.4L18.5 19.9L17.2 19.6L17 21.1L16.1 22L15.7 22L16.2 21.1L15.6 20L14 19.2L12.5 18.5L11.5 17.6L10.5 17.1L10.2 16.1L8.8 15.6L7.5 16.2L6 16.9L4.5 16.5L3.1 16.9L3.2 18.1L0.9 19L-0.3 20.5L0.2 21.2L-0.5 22L-2 23.2L-4.5 23.3L-5.6 24L-6.3 23.2L-7.4 22.8L-8.9 23L-8.8 21.3L-9.5 21L-8.8 19L-8.9 18L-9.3 17L-8 16.3L-4.5 16.6L-1.8 16.6L-1.3 15.5L-1.2 14L-2.2 13L-4.5 12.1L-3 11.3L-1.6 11.4L-1.3 10.3L0.2 10.5L1.6 9.8L1.7 9L3 8.7L4 8.1L4.8 7L6.8 6.5L8.5 6.3L8.8 5.5L8.3 4.5L8.1 3.2L10.5 2.3L10.6 3.5L10.3 4.5L11 6L12.5 5.5L14.2 6.1L16.5 5.5L18.5 5.2L19.5 5.6L21.2 4.8L21 3.2L22 2.4L23.5 3L24.2 2.1L23.5 1.2L24.5 0.5L28 0.5L30 -0.2M392.3 28.8L394.2 28.7L394.5 28.5L395 27L395.5 26.1L395.9 25L396 24.2L395.9 23.2L394 23.8L392 23.7L390.6 23.2L389.5 23.8L388 23.3L387.2 23L386.3 21.5L386.2 20L386 19.2L384 19.2L382.8 19.5L382.8 20.8L384 21.8L383.2 22L382.7 23.5L381.8 23.2L381 21.7L380.1 20.4L379.4 19.7L379.4 18.2L378 17.4L376.5 16.6L375 15.8L373.7 15.1L373.7 14.4L372.4 14.6L372.3 15.7L373.5 16.4L374 17.3L375.1 18.1L376 18.5L378 19.4L378.5 19.9L377.2 19.6L377 21.1L376.1 22L375.7 22L376.2 21.1L375.6 20L374 19.2L372.5 18.5L371.5 17.6L370.5 17.1L370.2 16.1L368.8 15.6L367.5 16.2L366 16.9L364.5 16.5L363.1 16.9L363.2 18.1L360.9 19L359.7 20.5L360.2 21.2L359.5 22L358 23.2L355.5 23.3L354.4 24L353.7 23.2L352.6 22.8L351.1 23L351.2 21.3L350.5 21L351.2 19L351.1 18L350.7 17L352 16.3L355.5 16.6L358.2 16.6L358.7 15.5L358.8 14L357.8 13L355.5 12.1L357 11.3L358.4 11.4L358.7 10.3L360.2 10.5L361.6 9.8L361.7 9L363 8.7L364 8.1L364.8 7L366.8 6.5L368.5 6.3L368.8 5.5L368.3 4.5L368.1 3.2L370.5 2.3L370.6 3.5L370.3 4.5L371 6L372.5 5.5L374.2 6.1L376.5 5.5L378.5 5.2L379.5 5.6L381.2 4.8L381 3.2L382 2.4L383.5 3L384.2 2.1L383.5 1.2L384.5 0.5L388 0.5L390 -0.2M34.9 30.5L34.6 32L36.5 34L37.5 36L39 38.5L39.8 40L41.2 42.5L42.7 44.3L43.3 47L44.5 47.3L45.5 47L48.5 46L50 45L52 44L52.2 43.2L55 42.5L56.5 42L57.7 41L58.5 39.5L59.8 37.5L58.8 36.5L57 36.1L56.3 35.1L56.4 33.7L55.5 34.5L54.5 35.7L52 36L51.5 35L51.2 33.9L50.5 35L50 33.5L48.5 31.5L47.7 30L48.6 30L49.5 30L50.2 30.3L51 31.5L52.5 32.5L54.8 33.5L56.2 32.9L57.3 34.2L59.5 34.6L61.7 34.9L64 34.7L66.5 34.6L67.5 36L68.5 36.5L70 37.2L69 37.7L70.5 39.2L72.6 38.6L72.8 41L73.5 44L74.5 46.5L75.5 48.5L76.5 51L77.5 52L78.2 51.1L79.2 49.7L79.8 48L80.2 46.5L80.1 44.5L81.5 43.7L82.3 43L84.5 41L86.5 40L87 38.5L88.5 38.3L89.8 38L91 37.4L92 38.5L92.4 39.3L93.5 40.5L94.3 42L94.5 43.5L95.4 44.2L97 43.5L97.7 45L98.2 46.5L98.5 48L98.6 50L98.3 51.5L98.5 52.2L100 53.5L100.4 55L101 57L102.5 58L103.5 58.7L104.2 58.6L103.5 57.2L103.4 55.8L102.5 54L101.3 53.1L100.4 52.5L100 50.8L99.2 49.7L99.5 48L100 46.6L101 47.3L102.5 48L103 49L104.5 49.5L105 51L105.5 51.2L106.7 49.5L107.5 49.5L109 48.5L109.3 47L108.8 44.7L107.5 43.5L106.5 42L105.7 41L106.6 39.5L108 38.5L109.7 38.5L110.5 39.6L111 38.6L113 37.8L114.2 37.7L116.5 37L118 35.5L119.5 34.2L119.8 33.3L120.5 32L121.8 30.5L121.3 29.5L122 29L121 28L120.8 26.5L119.5 25.5L119.2 25L120.5 23.9L122.5 23.1L121 22.4L119 22.8L118.8 22L117.6 21.4L118 20.8L119.5 20.2L121.5 19.2L121.1 21.2L122.2 20.5L124 20.2L124.7 20L125 20.5L124.7 22L126.2 22.5L126.5 24L126.3 25.5L127.5 25.4L129.2 24.8L129.5 23.5L128.6 21.7L127.5 20.4L129.7 19L130.7 17.7L132 16.8L133.5 17.2L135.3 16.3L137.5 14.5L140.3 11.7L140.5 9.5L141.3 7L140.5 6.5L138.5 6L137 6L136.8 5L138 4L140.5 2L142 1L144 0.6L146.5 0.7L149 0.3L152 0.8L154 0.5L155 -0.2M156 -0.2L156.8 2L156.5 3L156 4.5L155.7 6L156.5 8.8L157.5 8.5L158.5 7.2L160 6L162 5.2L162 3.8L163.3 2.2L162.5 2L163.5 0.2L164 -0.2M29 18.8L31 18.9L33 18.1L35.2 18L36.6 18.6L38.5 19.1L41.5 18.5L41.6 17.5L40 16.6L38 15.5L37.5 14.8L38.5 13.5L37 13L35 13.8L35.5 14.8L33.6 15.5L32.5 14.6L33.5 14L31.5 13.4L30.8 13.5L29.6 14.7L28.7 15.7L28 17L28 18L29 18.8M26 19.2L27.5 19L29 18.8L29 19.5L27 19.7L26.2 20M49 13.5L51 13L53 13.2L53.2 14.7L51.3 15.5L52.7 17.5L52.8 19L54 19.2L53.8 21L53.9 22.6L51.5 23.2L50 22.6L49 21.7L49.5 19.8L48.5 18.2L47.2 17L47.5 15.5L46.8 15.2L47.5 14.5L49 13.5M58.7 14.8L59.8 13.8L61.5 14L62 15.5L61 16.8L59.3 16.5L58.7 14.8M73.5 13.8L75 13.4L77 13.6L79 13.2L79 13.8L77 14.2L75 14.1L73.5 13.8M-5.7 9.9L-3 9.3L1.3 8.9L1.7 7.3L0.2 6.5L-0.5 5.5L-1.6 4.4L-2.5 3.7L-1.8 2.4L-3.5 1.4L-5 1.4L-6 2.5L-5.6 3.7L-4.8 5L-3.1 5.1L-3.4 5.7L-2.9 6.7L-4.6 6.7L-4.2 7.7L-5.3 8.3L-3 8.5L-4.2 8.8L-5.7 9.9M354.3 9.9L357 9.3L361.3 8.9L361.7 7.3L360.2 6.5L359.5 5.5L358.4 4.4L357.5 3.7L358.2 2.4L356.5 1.4L355 1.4L354 2.5L354.4 3.7L355.2 5L356.9 5.1L356.6 5.7L357.1 6.7L355.4 6.7L355.8 7.7L354.7 8.3L357 8.5L355.8 8.8L354.3 9.9M354 7.9L353.8 6.7L354 6L354.5 5.3L352.5 4.7L351.5 5.5L350 5.8L350 6.7L350.7 7.4L349.7 8.2L350.4 8.5L353 7.9L354 7.9M18.5 -0.2L18.5 0.6L16.8 1.3L16.7 2.5L16 3.8L14.2 4.6L12.8 4.6L12.5 3.5L11.8 2.4L11.2 1.1L10.5 0.4L9.5 1L8 1.9L6.5 1.8L5.5 1L5.1 -0.2M12.4 21.9L15.6 21.7L15.1 23.3L12.4 21.9M8.4 19L9.8 19L9.6 20.8L8.5 21L8.4 19M8.6 17.1L9.5 17L9.4 18.6L8.7 18.2L8.6 17.1M23.5 24.5L26.3 24.7L24 24.9L23.5 24.5M32.3 25L34.6 24.4L33.9 25.1L32.7 25.4L32.3 25M79.8 52L80.2 50.2L81.2 51.5L81.8 52.7L81.4 53.8L80.1 54L79.8 52M49.3 72L50.5 75.5L49.8 77L48.8 80.5L47.3 84.8L45.1 85.5L43.7 83.5L43.3 81.5L44.4 79.5L44 77L46 75.8L48 73.8L49.3 72M95.3 54.4L97.5 54.8L98.7 56.3L100.4 57.8L101.4 58.4L103.7 60.5L104.5 61.9L105.9 63.4L105.9 65.8L104.6 65.9L102.3 64L100.9 62.1L99.2 60L98.6 58.2L97.2 56.7L95.3 54.4M105.2 66.8L106 65.9L108.3 66.3L110.5 66.9L112.5 66.9L114.5 67.8L114.4 68.7L111 68.2L108 67.8L106.4 67.4L105.2 66.8M115 68.2L115.7 68.4L115.2 68.8L115 68.2M116.1 68.4L119 68.3L118.5 68.8L116.5 68.9L116.1 68.4M119.8 68.6L123 68.2L122.5 68.7L120 68.9L119.8 68.6M123.5 70.2L127.3 68.4L125 69.5L123.5 70.2M109 58.4L109.6 58L111 58.5L113 56.9L115.5 54.6L117 53L118.5 54.5L119.2 54.8L118 55.7L117.7 57L118.1 58.5L117.5 59.7L116.8 61.5L116.4 63.7L114.6 63.7L113 63.2L111.7 63L110.2 63L110 61.4L109.1 60L109 58.4M119.5 65.5L120.4 65.5L120.4 63L121 62.6L122 64.8L123 64.5L122 63L121.3 61.8L123.3 60.9L121 60.9L120.1 59.9L120.5 59.2L122.5 59L125.2 58.5L124.3 59.6L122.5 59.5L120.8 59.5L120 60.5L119.4 61L118.8 62.8L119.5 65.5M127.5 58.2L128.2 59.2L128.6 60.3L128 60.8L127.8 59.5L127.5 58.2M128 63L130.5 63.2L129.5 63.5L128 63.5L128 63M126 63.1L127.2 63.3L126.8 63.8L126 63.6L126 63.1M131 61.4L132.5 60.4L134 60.9L134.4 62.7L135.5 63.3L137.5 61.6L139.5 62.3L141 62.6L144 63.8L145.8 65.3L147.5 66.1L147.3 67.5L148.3 68.5L149.5 69.6L150.7 70.6L149 70.3L147.5 70.1L146 68.1L144.3 67.6L143 69L141 69.1L139.2 68.1L138 68.4L137.8 66.8L138.6 66.6L137 64.9L135 64.4L133.5 63.8L132.2 62.9L133.2 62.2L132 62L131 61.4M148.3 65.6L150 65.4L151.5 64.3L152.3 64.5L151 65.9L149.5 66.2L148.3 65.6M150.5 62.6L152 63.3L153.2 64.6L152.6 64.4L151.3 63.3L150.5 62.6M154.6 65.2L155.8 66.4L155.5 66.8L154.8 65.8L154.6 65.2M156.5 67L158 67.8L157.5 68.2L156.5 67M159 68.5L160.8 69.2L160.3 69.5L159 68.5M160.5 68.3L161.5 69.5L161.3 69.7L160.5 68.3M161.5 70.2L162.3 70.7L162 70.8L161.5 70.2M164 80.2L165.5 81L167 82.3L166.3 82.2L164.4 80.8L164 80.2M177.3 77.5L178.6 77.6L178.2 78.2L177.3 77.9L177.3 77.5M178.8 76.3L180 76.1L180.5 76.6L179 76.9L178.8 76.3M120.6 41.5L122.2 41.5L122 43.5L121.5 45.5L124 47L122.5 46.5L121 46.2L120.6 45.5L120 44L120.6 41.5M122 53L124 51.5L125.5 50.5L126.5 53L125.5 54.2L124 53.7L122 53M124.3 47.5L125.5 48.7L125 49.9L124.3 48.5L124.3 47.5M122 48.2L123 49.1L122.5 49.5L122 49.2L122 48.2M123 49.2L123.4 50.7L122.5 50.2L123 49.2M117.2 51.7L119.5 49.1L119.3 48.7L117.2 51.7M120.3 46.5L121.5 47L121 47.8L120.3 46.5M121 34.8L122 35L121.5 37L120.8 38.1L120.1 37L121 34.8M108.7 40.8L110.5 39.9L111 40.4L110 41.5L108.7 41.5L108.7 40.8M129.7 26.4L131 26.1L131.7 27.2L131.2 28.6L130.2 28.8L129.8 27.3L129.7 26.4M132.5 26.5L133.5 25.8L134.7 25.9L134.3 26.7L133 27.2L132.5 26.5M131 25.6L132.5 24.6L135 24.3L136 24L137.3 22.6L138.5 22.5L139.5 21.5L140 20L140 18.7L141.5 18.7L141.6 19.5L142 20.5L141 21.7L140.9 23L140.6 24L140.8 24.3L139.8 25L139 25.3L138.2 25.4L137 25.4L136.8 25.7L136 26.5L135 26.3L135.1 25.4L133.5 25.6L132 26.1L131 25.6M140 18.5L140.3 17.2L141.5 16.7L141.7 14.6L143 15.5L145.3 15.7L145.5 16.7L144 17L143.3 18L141.5 17.4L140.8 18.2L140 18.5M142 14L143.5 10.5L144.7 11.2L143.2 8.2L143.2 5.7L142.6 5.7L142.2 9L141.8 11.5L142 14M113.5 82L114 81.8L116.7 80.6L119 80L121 79.5L122.3 77.5L123.5 77L125 75.5L126.5 74L128 75L129.6 75L130.2 73L131 72.2L132.6 72L132.5 71.5L134 72L135.9 72L136.8 72.2L136.3 73.5L135.5 75L137 76L139 77.5L140.5 77.5L141.5 75.5L141.6 72.5L142.5 70.7L143.5 72.8L143.8 74.3L145.3 75L145.5 77L146.3 79L148.8 80.5L150 82.2L151 83.5L153.1 85.2L153.5 88L153 91L152 92.8L151 94L150 97L148.2 97.8L146.3 99L144.7 98L143.5 98.8L141.5 98.4L140 97.5L139.6 96.2L138.1 95.6L138.5 94.8L138 93.5L137.8 92.7L137.5 94L136.5 95L135.6 94.8L135.2 94.5L134.2 92.8L131.5 91.5L128 92L125 93.7L123.5 94L120 94L117.8 95.1L116 94.8L115 94.3L115.7 93.3L115.7 91.7L115 90L114.9 89L114 87L113.5 86L114 84.5L113.6 83L113.5 82M144.6 100.7L148.3 100.9L148.2 102.2L147 103.5L146 103.5L145.2 102.2L144.6 100.7M172.7 94.4L174.5 95.5L175.5 97L178.5 97.7L177.9 99.1L176.8 99.8L175.9 101.3L174.7 101.3L175.2 100L173.8 99.2L174.6 98.2L174.5 96.8L173 95L172.7 94.4M172.7 100.5L174.3 101.3L173.8 102.2L172.8 103.5L171.3 104.3L170.8 105.8L169.5 106.6L167 106.3L166.5 105.5L168.3 104L170.5 103L171.5 101.7L172.7 100.5M194 -0.2L195.5 0.2L198 1.4L202 1.4L203 2.5L201 4L198 4.8L196 5.4L199 4.2L203 3L205 2L206.5 1L208 -0.2M209 -0.5L208.5 0.5L210 0.5L212 -0.2L214 -0.7L216 -0.1L218.5 0.1L220.5 0.5L223 1.4L224.5 2.5L226 4L226.5 5L228 5.3L229.7 5.5L230 6.5L231.5 7.5L232.5 9L235 10L236.5 11.4L235.3 11.6L235.9 13.2L236.1 15L235.5 17.2L235.8 19.5L236.2 21L237.5 22.2L238.1 23.4L239.2 24.5L239.4 25.4L241.5 26L242.8 27.4L243.5 28.5L244.2 29.6L245.3 31L245.9 32L247.5 33.5L248.5 35.5L250 37L250.5 36.5L249.7 35.7L248.3 33.3L247 30.8L245.3 28.3L247 28.7L249 32L250.7 33.5L252 35L254 37L254.5 39L254.7 40.2L255.5 41L257 42L258.5 42.5L260.5 43.3L263 44.1L265 43.8L267 44.5L268.5 46L271 46.6L272.5 47L273.5 48L274.3 49L274.3 50.1L275.5 50.4L276.4 51.5L278 51.8L280 52.5L280.5 51.5L281.5 51.8L282.6 53L282.2 53.5L282.8 56L282.5 57.5L281.2 58.5L280 59.5L279.5 61L279.8 62.5L278.8 64.2L278.8 66L280.5 67.5L282 70L283.8 74L285 75.5L288 77L289.7 78.5L289.8 81L289.5 83.5L289.4 86L288.6 89L288.4 92L288 95L286.8 97.2L286.3 99.5L286.3 102L286 104L285 106.5L285.5 109L284.5 111.5L286 112.5L288 114L290 115L293 115L294.5 114.7L291.5 112.5L290.5 112.2L291.6 110.5L292.5 108.5L294.2 107.5L292.5 106L292.5 105L295 105L294.8 103.5L296 102.5L295 101L297.7 100.5L298 98.8L302 98.2L303.2 96.8L302.5 95.5L301.5 94.5L303 94.4L306 94.8L306.8 93.5L308.5 91.5L309.8 90L311.3 88L311.5 86L313.5 84L315.5 83.2L318 83L319 81.8L320.2 79.5L321 77L321 74.5L321.5 73L323 71L324.8 68.5L325.1 67L324.5 65.2L322.5 64.5L320.5 63L318.5 62.9L316 62.5L313.5 61L311.5 61.2L310 60L309.5 58.2L308.5 55.7L306.5 54.4L304.5 54.1L302.8 54.1L301.5 53.2L300 51.7L298.5 50.5L297.5 49.3L296 49.4L294 49.4L292 49.5L290.2 48.5L289 48.3L288.4 49.5L288.8 50.5L288 49L288 48L286.5 48.7L285.2 49L284.5 49.6L283.8 50.7L283 51.4L282.6 51.3L282 50.7L280.5 50.4L278.5 51L277.5 50.5L276.5 49.2L276.3 47L276.7 45.2L275 44L272.5 44.2L271.7 43L272 41.5L272.5 39.5L273 38.5L271.5 38.6L269.6 39L269.5 40.5L268.5 41.5L266 41.8L264.5 41.2L263.5 40.1L262.5 38.2L262.3 36L262.8 34L262.6 32.5L263.5 31.5L265.3 30.5L267 30.3L269 30.8L270.5 30.8L271 29.7L272.5 29.6L274 29.6L275.7 30L277 31L277.4 32.5L278.2 34L279.2 34.8L279.9 34.2L279.8 33L279.4 31.5L278.7 30L278.7 28.5L279.8 27.4L281.5 26.1L283 25.4L284.5 24.8L284 23.1L283.7 21.8L284.8 21.5L284.4 20.5L285.9 20.2L286 19.4L288 19L289.5 18.4L290 18.2L289.4 17.4L289.3 16.8L291 16L293 15.3L295 14.7L295.5 14.2L294 15.5L294.5 16.4L296.5 15.4L299 14.8L300 14L298.5 13.5L295.5 13.8L295 12.2L295.5 11L293.5 10.8L292 11.5L290 12.5L293 10.5L296 9.8L300 9.8L303 8.5L304 7.5L303.5 6.5L302 5.5L300 4.7L298.5 3.5L298 2.5L297 1.5L295.5 -0.2M300.7 12.4L304 10.5L304.5 8.4L306.5 10.7L307.3 12.5L306.3 13.3L304 12.4L300.7 12.4M265.2 -0.2L265.5 0.5L267 1.5L267.5 3L270 3L273 4.2L275 4.8L277.7 4.8L277.8 7L279.5 8.6L280.6 8.2L281.2 6.5L280.5 5L283 4L283.4 2.5L282.5 1.4L282 -0.2M290.5 -0.2L290.5 1L292 1.5L294 1.2L295.5 -0.2M268 13.3L270.5 12L274 11.2L275.5 13.3L273.5 13.5L272 12.5L270 13.4L268 13.3M272.2 18L272.5 15.5L274.5 14.2L273.8 16L273.5 17.8L272.2 18M276 14L278.4 14.7L277.5 17L276.5 16L276 14M276.6 18.3L281 17.2L277.5 18L276.6 18.3M280.2 16.7L284 16.5L283 16L280.2 16.7M262.5 9.5L263.5 8.5L262 6.5L261 7L262.5 9.5M275 38.1L278 36.8L280 37L282.5 38.2L284.3 39L285.8 39.8L282.3 40.1L281 38.5L278.5 38L276 38.2L275 38.1M285.5 41.6L287.3 40.1L290 40.2L291.6 41.4L290 41.8L288.5 42.3L285.5 41.6M281.7 41.6L283.7 41.8L283.2 42.1L281.7 41.6M292.8 41.5L294.4 41.6L294.2 42L292.8 42L292.8 41.5M281.8 33.3L283 33.4L282.8 34.5L282 35.5L281.8 33.3M298.1 49.2L299 49.2L299 49.9L298.1 49.9L298.1 49.2M231.7 9.2L234.5 10L236.5 11.6L235.2 11.4L233 10.2L231.7 9.2M227.5 6L228.5 6.5L228.5 7.8L227.5 7L227.5 6M298.8 111.3L301 111.3L302 111.8L300.5 112.3L299 111.9L298.8 111.3M322 114L324 114.2L324.2 114.8L322.2 114.5L322 114M68.8 109L70.5 109L70 109.6L69 109.6L68.8 109M204 39.8L205 40.9L204.2 41.1L204 39.8M203.3 39.1L204 39.2L203.6 39.5L203.3 39.1M201.7 38.4L202.3 38.7L201.8 38.7L201.7 38.4M200.2 37.8L200.7 37.9L200.4 38.1L200.2 37.8M53.3 47.4L54.5 47.4L54.2 47.8L53.3 47.6L53.3 47.4M57.3 80L57.8 80.2L57.5 80.5L57.3 80M55.3 80.9L55.8 81.1L55.5 81.4L55.3 80.9M55.4 64.6L55.6 64.7M268.5 60.2L269.5 60.5L269 61L268.5 60.2M32 59.8L33.9 59.7L34.6 60.5L33.5 62.8L31.7 61.5L32 59.8M29.2 63.4L29.7 64.5L30.8 67.2L31.2 68.6L30.5 68.5L29.5 66.3L29.2 63.4M34.3 69.5L34.9 71.5L35.3 74.3L34.6 74L34.3 71.5L34.3 69.5M72.5 60L80 60L80 67.3L72.5 67.3L72.5 60" fill="none" stroke="#007F00" stroke-width="2.7" vector-effect="non-scaling-stroke" stroke-linejoin="round"/>
<path d="M166.6 74.6L167.2 75.5L167.8 76.5L168.4 77.7L169.3 79.4M283.5 35L284.5 36L285 37L285.5 37.5M298.5 43.7L298.8 44.5L299 45.5L299 46.8M342 31.7L344 31.5L346.5 31L346 31.8M335 43L336 43.5L337 45M92.7 46.5L93 48L92.6 49.3M43.3 71.4L43.5 71.9L44.4 72.2M144.6 46.5L145.8 44.8M190 7.2L192 6.6L194 6.2L196 5.6M172.5 7.1L174 7.8L176 8.1L178 8.2L180 8.4L182 8.2L184 8L186 7.8M145.5 16.5L147 15.8L148.5 15L150 14L151.5 13.1L153 12.2L154.5 11L155.5 10L156.5 9.2M127.5 33.7L128.2 33.2L129.5 31.7L130.5 29.6" fill="none" stroke="#007F00" stroke-width="2.7" vector-effect="non-scaling-stroke" stroke-linecap="round" stroke-dasharray="3 5"/>
<line x1="0" y1="60" x2="360" y2="60" stroke="#007F00" stroke-width="0.6" stroke-dasharray="1.8 2.7"/>
<line x1="180" y1="0" x2="180" y2="120" stroke="#007F00" stroke-width="0.6" stroke-dasharray="1.8 2.7"/>
</svg>
<line x1="81.10" y1="79.70" x2="81.10" y2="70.20" stroke="#000" stroke-width="2"/>
<line x1="81.10" y1="344.70" x2="81.10" y2="354.20" stroke="#000" stroke-width="2"/>
<line x1="114.24" y1="79.70" x2="114.24" y2="74.70" stroke="#000" stroke-width="1.2"/>
<line x1="114.24" y1="344.70" x2="114.24" y2="349.70" stroke="#000" stroke-width="1.2"/>
<line x1="147.38" y1="79.70" x2="147.38" y2="74.70" stroke="#000" stroke-width="1.2"/>
<line x1="147.38" y1="344.70" x2="147.38" y2="349.70" stroke="#000" stroke-width="1.2"/>
<line x1="180.51" y1="79.70" x2="180.51" y2="70.20" stroke="#000" stroke-width="2"/>
<line x1="180.51" y1="344.70" x2="180.51" y2="354.20" stroke="#000" stroke-width="2"/>
<line x1="213.65" y1="79.70" x2="213.65" y2="74.70" stroke="#000" stroke-width="1.2"/>
<line x1="213.65" y1="344.70" x2="213.65" y2="349.70" stroke="#000" stroke-width="1.2"/>
<line x1="246.79" y1="79.70" x2="246.79" y2="74.70" stroke="#000" stroke-width="1.2"/>
<line x1="246.79" y1="344.70" x2="246.79" y2="349.70" stroke="#000" stroke-width="1.2"/>
<line x1="279.92" y1="79.70" x2="279.92" y2="70.20" stroke="#000" stroke-width="2"/>
<line x1="279.92" y1="344.70" x2="279.92" y2="354.20" stroke="#000" stroke-width="2"/>
<line x1="313.06" y1="79.70" x2="313.06" y2="74.70" stroke="#000" stroke-width="1.2"/>
<line x1="313.06" y1="344.70" x2="313.06" y2="349.70" stroke="#000" stroke-width="1.2"/>
<line x1="346.20" y1="79.70" x2="346.20" y2="74.70" stroke="#000" stroke-width="1.2"/>
<line x1="346.20" y1="344.70" x2="346.20" y2="349.70" stroke="#000" stroke-width="1.2"/>
<line x1="379.34" y1="79.70" x2="379.34" y2="70.20" stroke="#000" stroke-width="2"/>
<line x1="379.34" y1="344.70" x2="379.34" y2="354.20" stroke="#000" stroke-width="2"/>
<line x1="412.48" y1="79.70" x2="412.48" y2="74.70" stroke="#000" stroke-width="1.2"/>
<line x1="412.48" y1="344.70" x2="412.48" y2="349.70" stroke="#000" stroke-width="1.2"/>
<line x1="445.61" y1="79.70" x2="445.61" y2="74.70" stroke="#000" stroke-width="1.2"/>
<line x1="445.61" y1="344.70" x2="445.61" y2="349.70" stroke="#000" stroke-width="1.2"/>
<line x1="478.75" y1="79.70" x2="478.75" y2="70.20" stroke="#000" stroke-width="2"/>
<line x1="478.75" y1="344.70" x2="478.75" y2="354.20" stroke="#000" stroke-width="2"/>
<line x1="511.89" y1="79.70" x2="511.89" y2="74.70" stroke="#000" stroke-width="1.2"/>
<line x1="511.89" y1="344.70" x2="511.89" y2="349.70" stroke="#000" stroke-width="1.2"/>
<line x1="545.02" y1="79.70" x2="545.02" y2="74.70" stroke="#000" stroke-width="1.2"/>
<line x1="545.02" y1="344.70" x2="545.02" y2="349.70" stroke="#000" stroke-width="1.2"/>
<line x1="578.16" y1="79.70" x2="578.16" y2="70.20" stroke="#000" stroke-width="2"/>
<line x1="578.16" y1="344.70" x2="578.16" y2="354.20" stroke="#000" stroke-width="2"/>
<line x1="611.30" y1="79.70" x2="611.30" y2="74.70" stroke="#000" stroke-width="1.2"/>
<line x1="611.30" y1="344.70" x2="611.30" y2="349.70" stroke="#000" stroke-width="1.2"/>
<line x1="644.44" y1="79.70" x2="644.44" y2="74.70" stroke="#000" stroke-width="1.2"/>
<line x1="644.44" y1="344.70" x2="644.44" y2="349.70" stroke="#000" stroke-width="1.2"/>
<line x1="677.57" y1="79.70" x2="677.57" y2="70.20" stroke="#000" stroke-width="2"/>
<line x1="677.57" y1="344.70" x2="677.57" y2="354.20" stroke="#000" stroke-width="2"/>
<line x1="710.71" y1="79.70" x2="710.71" y2="74.70" stroke="#000" stroke-width="1.2"/>
<line x1="710.71" y1="344.70" x2="710.71" y2="349.70" stroke="#000" stroke-width="1.2"/>
<line x1="743.85" y1="79.70" x2="743.85" y2="74.70" stroke="#000" stroke-width="1.2"/>
<line x1="743.85" y1="344.70" x2="743.85" y2="349.70" stroke="#000" stroke-width="1.2"/>
<line x1="776.99" y1="79.70" x2="776.99" y2="70.20" stroke="#000" stroke-width="2"/>
<line x1="776.99" y1="344.70" x2="776.99" y2="354.20" stroke="#000" stroke-width="2"/>
<line x1="810.12" y1="79.70" x2="810.12" y2="74.70" stroke="#000" stroke-width="1.2"/>
<line x1="810.12" y1="344.70" x2="810.12" y2="349.70" stroke="#000" stroke-width="1.2"/>
<line x1="843.26" y1="79.70" x2="843.26" y2="74.70" stroke="#000" stroke-width="1.2"/>
<line x1="843.26" y1="344.70" x2="843.26" y2="349.70" stroke="#000" stroke-width="1.2"/>
<line x1="876.40" y1="79.70" x2="876.40" y2="70.20" stroke="#000" stroke-width="2"/>
<line x1="876.40" y1="344.70" x2="876.40" y2="354.20" stroke="#000" stroke-width="2"/>
<line x1="81.10" y1="79.70" x2="71.60" y2="79.70" stroke="#000" stroke-width="2"/>
<line x1="876.40" y1="79.70" x2="885.90" y2="79.70" stroke="#000" stroke-width="2"/>
<line x1="81.10" y1="90.74" x2="76.10" y2="90.74" stroke="#000" stroke-width="1.2"/>
<line x1="876.40" y1="90.74" x2="881.40" y2="90.74" stroke="#000" stroke-width="1.2"/>
<line x1="81.10" y1="101.78" x2="76.10" y2="101.78" stroke="#000" stroke-width="1.2"/>
<line x1="876.40" y1="101.78" x2="881.40" y2="101.78" stroke="#000" stroke-width="1.2"/>
<line x1="81.10" y1="112.83" x2="71.60" y2="112.83" stroke="#000" stroke-width="2"/>
<line x1="876.40" y1="112.83" x2="885.90" y2="112.83" stroke="#000" stroke-width="2"/>
<line x1="81.10" y1="123.87" x2="76.10" y2="123.87" stroke="#000" stroke-width="1.2"/>
<line x1="876.40" y1="123.87" x2="881.40" y2="123.87" stroke="#000" stroke-width="1.2"/>
<line x1="81.10" y1="134.91" x2="76.10" y2="134.91" stroke="#000" stroke-width="1.2"/>
<line x1="876.40" y1="134.91" x2="881.40" y2="134.91" stroke="#000" stroke-width="1.2"/>
<line x1="81.10" y1="145.95" x2="71.60" y2="145.95" stroke="#000" stroke-width="2"/>
<line x1="876.40" y1="145.95" x2="885.90" y2="145.95" stroke="#000" stroke-width="2"/>
<line x1="81.10" y1="156.99" x2="76.10" y2="156.99" stroke="#000" stroke-width="1.2"/>
<line x1="876.40" y1="156.99" x2="881.40" y2="156.99" stroke="#000" stroke-width="1.2"/>
<line x1="81.10" y1="168.03" x2="76.10" y2="168.03" stroke="#000" stroke-width="1.2"/>
<line x1="876.40" y1="168.03" x2="881.40" y2="168.03" stroke="#000" stroke-width="1.2"/>
<line x1="81.10" y1="179.07" x2="71.60" y2="179.07" stroke="#000" stroke-width="2"/>
<line x1="876.40" y1="179.07" x2="885.90" y2="179.07" stroke="#000" stroke-width="2"/>
<line x1="81.10" y1="190.12" x2="76.10" y2="190.12" stroke="#000" stroke-width="1.2"/>
<line x1="876.40" y1="190.12" x2="881.40" y2="190.12" stroke="#000" stroke-width="1.2"/>
<line x1="81.10" y1="201.16" x2="76.10" y2="201.16" stroke="#000" stroke-width="1.2"/>
<line x1="876.40" y1="201.16" x2="881.40" y2="201.16" stroke="#000" stroke-width="1.2"/>
<line x1="81.10" y1="212.20" x2="71.60" y2="212.20" stroke="#000" stroke-width="2"/>
<line x1="876.40" y1="212.20" x2="885.90" y2="212.20" stroke="#000" stroke-width="2"/>
<line x1="81.10" y1="223.24" x2="76.10" y2="223.24" stroke="#000" stroke-width="1.2"/>
<line x1="876.40" y1="223.24" x2="881.40" y2="223.24" stroke="#000" stroke-width="1.2"/>
<line x1="81.10" y1="234.28" x2="76.10" y2="234.28" stroke="#000" stroke-width="1.2"/>
<line x1="876.40" y1="234.28" x2="881.40" y2="234.28" stroke="#000" stroke-width="1.2"/>
<line x1="81.10" y1="245.32" x2="71.60" y2="245.32" stroke="#000" stroke-width="2"/>
<line x1="876.40" y1="245.32" x2="885.90" y2="245.32" stroke="#000" stroke-width="2"/>
<line x1="81.10" y1="256.37" x2="76.10" y2="256.37" stroke="#000" stroke-width="1.2"/>
<line x1="876.40" y1="256.37" x2="881.40" y2="256.37" stroke="#000" stroke-width="1.2"/>
<line x1="81.10" y1="267.41" x2="76.10" y2="267.41" stroke="#000" stroke-width="1.2"/>
<line x1="876.40" y1="267.41" x2="881.40" y2="267.41" stroke="#000" stroke-width="1.2"/>
<line x1="81.10" y1="278.45" x2="71.60" y2="278.45" stroke="#000" stroke-width="2"/>
<line x1="876.40" y1="278.45" x2="885.90" y2="278.45" stroke="#000" stroke-width="2"/>
<line x1="81.10" y1="289.49" x2="76.10" y2="289.49" stroke="#000" stroke-width="1.2"/>
<line x1="876.40" y1="289.49" x2="881.40" y2="289.49" stroke="#000" stroke-width="1.2"/>
<line x1="81.10" y1="300.53" x2="76.10" y2="300.53" stroke="#000" stroke-width="1.2"/>
<line x1="876.40" y1="300.53" x2="881.40" y2="300.53" stroke="#000" stroke-width="1.2"/>
<line x1="81.10" y1="311.58" x2="71.60" y2="311.58" stroke="#000" stroke-width="2"/>
<line x1="876.40" y1="311.58" x2="885.90" y2="311.58" stroke="#000" stroke-width="2"/>
<line x1="81.10" y1="322.62" x2="76.10" y2="322.62" stroke="#000" stroke-width="1.2"/>
<line x1="876.40" y1="322.62" x2="881.40" y2="322.62" stroke="#000" stroke-width="1.2"/>
<line x1="81.10" y1="333.66" x2="76.10" y2="333.66" stroke="#000" stroke-width="1.2"/>
<line x1="876.40" y1="333.66" x2="881.40" y2="333.66" stroke="#000" stroke-width="1.2"/>
<line x1="81.10" y1="344.70" x2="71.60" y2="344.70" stroke="#000" stroke-width="2"/>
<line x1="876.40" y1="344.70" x2="885.90" y2="344.70" stroke="#000" stroke-width="2"/>
<rect x="81.10" y="79.70" width="795.30" height="265.00" fill="none" stroke="#000" stroke-width="2"/>
<text transform="translate(53.30,90.90) scale(0.88,1)" font-size="32.4" text-anchor="end" stroke="#000" stroke-width="0.3">60N</text>
<text transform="translate(53.30,124.03) scale(0.88,1)" font-size="32.4" text-anchor="end" stroke="#000" stroke-width="0.3">45N</text>
<text transform="translate(53.30,157.15) scale(0.88,1)" font-size="32.4" text-anchor="end" stroke="#000" stroke-width="0.3">30N</text>
<text transform="translate(53.30,190.27) scale(0.88,1)" font-size="32.4" text-anchor="end" stroke="#000" stroke-width="0.3">15N</text>
<text transform="translate(53.30,223.40) scale(0.88,1)" font-size="32.4" text-anchor="end" stroke="#000" stroke-width="0.3">0</text>
<text transform="translate(53.30,256.52) scale(0.88,1)" font-size="32.4" text-anchor="end" stroke="#000" stroke-width="0.3">15S</text>
<text transform="translate(53.30,289.65) scale(0.88,1)" font-size="32.4" text-anchor="end" stroke="#000" stroke-width="0.3">30S</text>
<text transform="translate(53.30,322.78) scale(0.88,1)" font-size="32.4" text-anchor="end" stroke="#000" stroke-width="0.3">45S</text>
<text transform="translate(53.30,355.90) scale(0.88,1)" font-size="32.4" text-anchor="end" stroke="#000" stroke-width="0.3">60S</text>
<text transform="translate(80.90,396.80) scale(0.88,1)" font-size="32.4" text-anchor="middle" stroke="#000" stroke-width="0.3">0</text>
<text transform="translate(180.31,396.80) scale(0.88,1)" font-size="32.4" text-anchor="middle" stroke="#000" stroke-width="0.3">45E</text>
<text transform="translate(279.72,396.80) scale(0.88,1)" font-size="32.4" text-anchor="middle" stroke="#000" stroke-width="0.3">90E</text>
<text transform="translate(379.14,396.80) scale(0.88,1)" font-size="32.4" text-anchor="middle" stroke="#000" stroke-width="0.3">135E</text>
<text transform="translate(478.55,396.80) scale(0.88,1)" font-size="32.4" text-anchor="middle" stroke="#000" stroke-width="0.3">180</text>
<text transform="translate(577.96,396.80) scale(0.88,1)" font-size="32.4" text-anchor="middle" stroke="#000" stroke-width="0.3">135W</text>
<text transform="translate(677.37,396.80) scale(0.88,1)" font-size="32.4" text-anchor="middle" stroke="#000" stroke-width="0.3">90W</text>
<text transform="translate(776.79,396.80) scale(0.88,1)" font-size="32.4" text-anchor="middle" stroke="#000" stroke-width="0.3">45W</text>
<text transform="translate(876.20,396.80) scale(0.88,1)" font-size="32.4" text-anchor="middle" stroke="#000" stroke-width="0.3">0</text>
<svg x="81.10" y="467.70" width="795.30" height="265.00" viewBox="0 0 360 120" preserveAspectRatio="none" overflow="hidden">
<rect x="0" y="0" width="360" height="120" fill="#8A2BE2"/>
<path fill="#00008B" d="M.5,0 360,0 360,120 0,120 0,0 .5,0Z"/>
<path fill="#0000CD" d="M.5,0 360,0 360,120 0,120 0,0 .5,0Z"/>
<path fill="#1E90FF" d="M.5,0 360,0 360,120 0,120 0,0 .5,0Z"/>
<path fill="#00BEFF" d="M.5,0 360,0 360,120 0,120 0,0 .5,0ZM108.7,47 107.8,47.5 106.7,50 105.9,51 102.4,54.5 102.2,55.5 102.4,56 103,56.4 105,56.7 109,56.2 110.8,55.5 111.8,54.5 112.4,53 113,50.5 113.2,49 113,48 112.5,47.4 111.5,47 108.7,47ZM128.2,54 127.3,54.5 126.8,55 126.7,55.5 126.8,56 127.1,56.5 128.2,57 130,57 131.5,56.5 132.5,55.9 133.1,55 133,54.5 132.5,54 131.5,53.6 130,53.5 128.2,54ZM99.2,68.5 97.9,69 97.5,69.5 96.9,71 96.5,73 96.7,73.5 97.5,74.1 99,74.1 100.6,73.5 102.5,72 103.3,70.5 103.2,69.5 102.5,68.9 101,68.5 99.2,68.5ZM159.5,83.5 158,84 157.2,85 157.2,86 157.8,87 159,88.2 160.5,89 162,89.2 163,89 163.5,88.7 164,88 164.1,87.5 163.9,86.5 163.4,85.5 162.4,84.5 161.5,83.9 160.5,83.6 159.5,83.5ZM123.3,84 122,84.5 121.5,85 121.3,85.5 121.5,86.5 122.5,87.6 124,88.5 126,89.1 128,89.2 129.5,88.6 129.6,86.5 129.5,85.9 129.1,85.5 128,84.8 126,84.2 124.5,83.9 123.3,84Z"/>
<path fill="#A0D2FF" d="M.5,0 360,0 360,120 0,120 0,0 .5,0ZM228.4,33.5 227.5,34.1 225.4,37 223,39.5 222.2,40.5 221.8,41.5 221.7,42.5 221.8,43.5 222.5,44.9 223.8,46 225.5,46.6 228,46.8 230.5,46.4 232.7,45.5 233.5,44.8 233.9,44 233.8,42.5 232.8,40 233.4,36.5 233.2,35 232.3,34 231,33.4 229.5,33.2 228.4,33.5ZM335,38 333.6,38.5 332.8,39 330.6,42 326.5,45.6 323.5,47.5 323,48 322.7,49 322.8,50 323.3,51 323.7,51.5 324.4,52 325.5,52.3 327.5,52.4 329.5,51.9 332,50.5 332.6,50 333.1,49 332.8,44.5 333.3,43.5 334,43.1 335.5,42.9 338.5,43.4 339.5,43.4 343,42.1 346.9,41 347.9,40.5 348.3,40 348.2,39.5 347.5,39 345.5,38.5 338,37.8 335,38ZM114.1,42.5 112,43.4 110.5,43.7 105.5,43.5 103.5,44 102.8,44.5 102.3,45.5 102.4,46.5 103.4,49 103.3,50 103,50.6 102,51.4 100,52.3 98.5,52.5 98,52.3 97.5,51.3 96.9,49 96.3,48 95.1,47 93.5,46.5 91.5,46.4 89.5,47 87.4,48.5 86.7,49.5 86.7,50 87.3,51 88.3,52 90,53.4 91,53.9 92,53.9 95.5,53.4 97,53.4 97.5,53.8 99.5,57.5 100.5,58.6 102,59.2 104,59.1 107.5,57.9 111.4,57 112.4,56.5 113.3,55.5 115,52.5 117.4,50 117.7,49 117.9,47 117.8,44.5 117.5,43.2 117,42.5 116,42.1 115,42.2 114.1,42.5ZM131,52 127.6,52.5 124,53.7 122.9,54.5 123,55.5 123.9,57 125,58.3 126,58.9 127.5,59.3 129.5,59 132,58.2 135.6,56.5 137,55.5 137.3,55 137.2,54.5 136.8,54 135.5,53 133.5,52.2 131,52ZM115.5,62.5 115,62.6 114,63.5 112.7,65 112.1,66 111.9,67 112,68 112.5,69.5 113.1,70.5 114,71.1 115,71.3 119,71.3 120.5,71.5 124.5,73.4 125.5,73.6 127,73.5 127.8,73 128,72 127.6,70.5 127,69 126.2,68 121,64.2 116.5,62.6 115.5,62.5ZM91.8,63.5 85.5,64.2 82.5,65 81.5,65.5 80.4,66.5 80.2,67 80.4,68 81.5,69.5 85.5,72.9 86.5,73.1 89.5,72.7 90.5,72.8 91.5,73.3 93.5,75.7 94.5,76.3 95.5,76.5 98.5,76.4 100.2,76 101.5,75.5 104.7,73 106.1,71.5 106.5,70.5 106.6,69 106.4,68 105.5,67.1 104,66.6 99.5,66.1 98.5,65.7 96.5,64.3 95,63.7 93.5,63.5 91.8,63.5ZM169.4,78.5 168.5,78.9 168,79.3 166.9,82 166.5,82.6 165.7,83 164.5,82.9 161.5,81.7 160,81.4 158,81.5 154.5,82.3 151.5,82 150,82.2 148,83.6 145.6,86 142.7,89.5 142.5,90 142.7,91 144.5,93.2 145,93.6 146,93.6 150.9,91 153.5,88.5 154.5,88.1 155.5,88.4 158.5,90.3 160,91.1 162,91.6 164,91.7 165.1,91.5 166.5,90.8 168.6,88.5 169.5,87.8 170.5,87.6 174,87.5 175,87.1 175.9,86 176.5,84.2 177.2,81.5 177.2,80.5 177,80 176.1,79 174.5,78.3 172.5,78.1 169.4,78.5ZM185.3,79 183.6,79.5 183,79.9 182.7,80.5 182.8,81 183.3,82 184.3,83 185,83.6 186,84 187.5,84.1 189.5,83.6 192.4,82.5 193.2,82 193.6,81.5 193.6,81 193.4,80.5 192.8,80 191.5,79.4 188.5,78.9 185.3,79ZM122.2,82.5 121,82.8 119.8,83.5 119,84.5 118.8,85.5 118.9,86.5 119.3,87.5 120.1,88.5 121.5,89.5 124.5,91 128,91.6 129.5,91.4 130.9,91 132,90.4 132.9,89.5 133.1,88.5 132.7,87 131.8,85.5 130.6,84.5 128.5,83.6 125.5,82.6 124,82.4 122.2,82.5ZM197.9,83.5 197.3,84.5 197.2,85.5 197.5,87 198,87.6 199.5,88.3 201,88.4 202,88.3 203,87.5 203.4,86.5 203.4,85.5 203.1,84.5 202.5,83.8 201.5,83.3 200.5,83.1 199,83.1 197.9,83.5ZM72.8,87 72.1,87.5 71.7,88.5 71.8,90 72.3,91.5 72.9,92.5 73.5,93.1 74.5,93.6 75.5,93.4 76.5,92.7 77.3,91.5 77.7,90 77.5,89 77,88 75.5,87 74,86.8 72.8,87Z"/>
<path fill="#D2F4FF" d="M.5,0 360,0 360,120 0,120 0,0 .5,0ZM137.6,26.5 134.5,27 130,27.2 128.4,27.5 127.6,28 127.4,28.5 127.5,30 128.3,31.5 129.5,32.5 132,33.5 134,33.7 136,33.3 140.4,31.5 142,30.5 143.2,29 143.3,28 143.1,27.5 142.4,27 140.5,26.5 137.6,26.5ZM226.9,31 226,31.2 225,31.9 222.6,35.5 221.5,36.4 220,37.2 219,37.6 217.5,37.6 212.5,36.8 211.5,36.9 210.5,37.2 209.5,38 207.5,40.1 206.5,40.9 202.7,42.5 202.2,43.5 202.6,45 203.5,46 204.5,46.6 211,48.5 212.5,48.4 216,47.7 218,47.6 224,48.6 228.5,49 230.5,48.7 234,47.1 235,46.4 235.9,45.5 236.4,44.5 236.8,43 237.2,37.5 237.1,35.5 236.7,34 235.5,32.6 233.5,31.6 230,31 226.9,31ZM318.7,32 317.7,33 317.3,34 317.2,35.5 317.5,36.3 318,36.8 319,37.3 320,37.4 321.5,37 322.2,36.5 322.8,35.5 322.8,34.5 322.3,33.5 321.5,32.4 320.5,31.8 319.5,31.7 318.7,32ZM334.3,36 331.5,36.4 330.1,37 329.2,38 326.8,41.5 325,43.2 323.5,43.4 321,43 320,43 318.5,43.6 316.6,46 314.5,48 314,48.9 313.6,50.5 313.5,52 313.7,53 314,53.5 315,54 316,54.1 320.5,53.8 327.5,54.4 330,54 336.8,51 337.6,50.5 341.2,45.5 342.8,44 344.5,43.2 349.8,41.5 350.6,41 351.3,40 351.3,39 350.9,38.5 350.1,38 349,37.6 343.5,36.8 339.5,35.8 337.5,35.8 334.3,36ZM119.7,37.5 116.5,37.6 115,37.9 114,38.5 111.5,40.8 110,41.5 108.5,41.6 104.5,41.4 102.5,41.7 98.5,42.9 94,42.7 89.5,43.3 88,44.1 85.1,47 84.3,48 83.8,49.5 83.9,50.5 84.4,51.5 87.5,54 89.5,56 90.5,56.8 91.5,57 94.5,56.4 95.2,56.5 96,56.9 97,58 97.7,59.5 97.9,60.5 97.5,61.2 96,61.6 91,61.3 87,62.7 79,64.2 74.5,63.9 68.5,63.9 63.5,63.2 60,63.5 58.5,64 57.7,65 57.1,67 57.3,68 58,68.6 60,68.8 65.5,68.5 69.5,68.5 73,68.3 75.5,68.6 77.3,69.5 80.8,72.5 81.9,74 83,76.3 83.5,76.7 84.5,76.8 89,76.8 90,77.1 92,78.2 94,78.6 99,78.2 100.5,78.4 101.5,79 101.9,79.5 103,82.1 103.5,82.6 104.5,83 106,83 106.8,82.5 107.4,81.5 108,79.5 108.6,78.5 111.4,76.5 113.5,74.2 115.5,73.4 117.5,73.3 119.5,73.5 120.8,74 123.5,75.7 125,76.2 130,76.1 131.5,76.4 134.5,77.6 135.5,77.4 136.5,76.2 137.4,74 137.8,72 137.6,70 136.8,68.5 134,66.7 133.3,66 131.5,63 131.2,61.5 131.7,60.5 132.4,60 134.5,59 137,58.4 141,57.8 141.9,57.5 142.7,56.5 142.6,55 141.8,54 140.5,53.2 136.5,51.4 134.5,50.8 131.5,50.6 125,51.2 123.8,51 122.8,50.5 121.9,49.5 121.6,48.5 121.6,47 122.1,45.5 123.5,44 127.5,41.5 128.3,40.5 128.4,39.5 128,38.5 127.5,38 125.5,37.2 123.5,37.1 119.7,37.5ZM283.7,43.5 282.9,44 282.1,45 281.9,46 282.1,47 282.5,47.6 283.5,48.1 285,48.2 286,47.9 287,47.2 287.5,46.5 287.9,45.5 287.7,44.5 287,43.7 286,43.3 285,43.2 283.7,43.5ZM49.7,46.5 48,47.6 47.3,48.5 46.7,49.5 46.5,50.5 46.5,51.5 47,52.7 47.5,53.1 48.5,53.2 51.5,52.2 56.3,51 57.9,50 58.4,49 58.4,47.5 58,46.9 57,46.4 52.5,46 51,46.1 49.7,46.5ZM294,47.5 293,48.5 291.5,51 290.2,52.5 287,55.5 284.2,57.5 283.2,58.5 282.7,59.5 282.6,60.5 283,61.5 284,62.5 285,62.8 286.5,63 288.5,62.7 290,62.3 291.5,61.1 293.6,58.5 296,56.9 296.9,56 297.4,55 297.7,53 297.8,50.5 297.5,49 297,48 296,47.2 295,47.1 294,47.5ZM34.2,63.5 33.3,64 32.8,65 32.6,66.5 33,67.5 39.5,71.9 40.5,72.2 41,72 41.6,70.5 41.7,68 41.4,65.5 40.6,64 40,63.5 38.5,63.1 36.5,63.1 34.2,63.5ZM156.7,71 155,71.8 154.1,72.5 153.5,73.5 152.6,76 152.1,77 151,77.7 150,78 148.5,77.9 147.9,77.5 147.4,74 147,73.1 146.5,72.5 146,72.2 145,72.1 144,72.3 143,73 142.4,74 142.4,75 142.6,75.5 144,77 146.9,78.5 147,79.5 146.2,81.5 143.5,85.5 142,87 140.5,87.9 138.5,88.3 137,88.1 135.5,87.3 133.4,84.5 132.2,83.5 125,81.1 122.5,80.8 119,81.5 118,81.9 117.4,82.5 116.9,83.5 116.5,85.5 116.5,87.5 116.8,89 117.5,90 120.5,92.6 121.5,93.1 123,93.4 127.5,93.8 129.5,93.8 131,93.4 135.5,91.5 137,91.2 138.5,91.4 140.5,92.2 141.6,93 144,95.7 144.6,96 145.5,96.2 147,95.8 150.5,93.6 154.5,92.4 156,92.4 161.5,93.6 164,93.9 166,93.7 169,92.7 170,92.6 170.5,92.7 171,93.2 172.5,95.5 173.5,96.2 175,96.5 176.5,96 178.1,94 179,93.2 179.5,93 180.5,93 181.5,93.5 182,94 183.5,96.7 184,97.1 185,97.3 186,97.1 186.9,96.5 189,93.5 190,92.7 191.5,92.5 195,92.6 198.5,91.8 200,91.9 201.5,92.6 202.5,94 202.7,95.5 202.1,99 202.2,100.5 202.5,101.5 203,102.4 203.5,102.8 204.5,103 205,102.9 206,102.3 208.4,99.5 211.2,97.5 212,96.5 212.1,95 211.5,93.8 210.5,92.7 208.2,91 207.5,90 207.2,89 206.9,85.5 206.6,84 205.5,82 204.5,81.3 203.5,81.1 200,80.9 198.5,80.7 194.5,78.7 191.6,78 186.5,77.8 180.5,78.2 179,77.9 176.5,76.6 175,76.1 170,76.1 169,75.8 166,74.3 162.5,73.1 159.4,71 158,70.8 156.7,71ZM316.8,76.5 316.6,77.5 316.9,83.5 317.1,84.5 317.5,85.4 318.5,86.4 320.5,87.5 321.5,88.4 322.1,89.5 322.8,91.5 323.5,92.5 325,93 326,92.9 327.1,92.5 328,91.5 328.3,90 327.8,85.5 328.2,82 327.8,80.5 326.9,79.5 325.5,78.8 320.7,77.5 318,76.2 317.5,76 317,76.2 316.8,76.5ZM19.5,77.5 19,78.3 18.7,79.5 18.7,80.5 19,82 19.7,83 20.5,83.5 21.5,83.6 22.5,83.2 23.4,82.5 23.9,81.5 24,80.5 23.7,79.5 23,78.5 21.5,77.3 20.5,77.1 19.5,77.5ZM79.2,78 78.5,78.4 77.8,79 76.4,82 75.5,82.9 74.5,83.1 71,82.5 70,82.6 69,83.2 67.5,84.5 66.7,85.5 66.3,86.5 66.2,88 66.6,89 69,91.5 71.5,94.8 72.5,95.5 73.5,96 75,96.1 76.5,95.8 77.8,95 80,93 81,92.5 82,92.4 85.5,92.8 86.5,92.5 87.2,91.5 87.8,87.5 87.8,86 87.5,85 86.7,84 83.9,82 83.3,81 82.5,78.7 82,77.9 81,77.7 79.2,78ZM219.2,92 218.4,93 218.1,94.5 218.2,96 219,97.2 220.5,98 223,98.3 225,98.2 226.1,97.5 226.5,96.5 226.5,95.5 226.1,94.5 225.2,93.5 224,92.9 221.5,92 220,91.8 219.2,92ZM118,56.4 120,56.9 121.7,58 122.5,59 123.1,60 123.2,61 123,61.5 122,61.9 120.5,61.9 119,61.3 118,60.5 117.3,59.5 116.9,58 117.1,57 117.5,56.6 118,56.4ZM109,59 111,58.9 112,59.4 112.4,60 112.4,60.5 112,61.7 111,62.8 109.5,63.5 108,63.5 106.6,63 106.1,62.5 105.9,62 106.1,61 107,59.9 109,59ZM179.5,82.9 180,82.7 181,82.9 182,83.6 182.9,84.5 183.5,86 183.5,86.5 183,87.2 182,87.6 181,87.8 180,87.6 178.9,87 178.4,86 178.3,85 178.6,84 179.5,82.9Z"/>
<path fill="#FFFACD" d="M33,0 42,0 41.4,1 40.1,2 39,2.4 37.5,2.5 36,2.4 34.5,1.8 33,.6 32.6,0 33,0ZM48,0 177.1,0 177.5,1 178.2,2 179,2.5 180,2.7 181.5,2 182.4,1 182.8,0 197.1,0 197.1,1.5 197,2.2 196.5,2.5 191.5,2.2 190.5,2.3 189.5,2.8 188.5,3.7 186.8,6 184,8.4 182,11.1 181.5,11.5 180.5,11.9 179.5,11.9 178.5,11.4 177.5,10.6 175.5,8.2 174.5,7.5 173.5,7.2 172,7.1 170.5,7.4 169.4,8 168.3,9 167.4,10.5 167.1,13 167.5,15 168.5,16.5 169,16.8 170,17 174.5,16.2 177,16.3 179.5,17.2 180.7,18 181.5,18.9 181.8,19.5 181.9,20.5 181.4,22 180.2,23 178.5,23.6 176.5,23.8 174,23.8 172,23.5 168.5,22.6 167,22.5 160.5,22.8 150.5,22.8 146,22.6 140,23.5 137,23.4 135.5,23.1 134.5,22.5 134,21.8 133,19.5 132.3,18.5 131,17.5 130,17.4 129.5,17.6 129,18.2 128.2,21.5 127.8,22.5 127,23.2 126,23.6 124.5,23.8 122.5,23.5 121.1,23 119,21.9 118,21.7 112.5,22.8 104.5,23 102.5,23.5 102.1,24 102,25 103.3,28 103.6,30 103.2,31.5 102.4,32.5 99,34.2 98,35 96.5,36.7 96,37.1 95,37.4 94,37 92.5,35 91.4,34 90,33.5 88.5,33.6 87.5,34.3 86,36.7 83.4,38.5 82.7,39.5 82.4,41 83,44.5 81.7,48.5 81.5,50.5 81.7,52 82.5,53 85,54.1 86.5,55.1 87.8,56.5 88.7,58.5 88.7,59.5 88.2,60.5 87,61.3 85.5,61.9 80.5,62.7 75,62.5 70.5,62.7 68.5,62.4 64.5,61.2 60.5,61.3 58.8,61 58,60.5 55.7,58.5 52.4,57 52.1,56.5 52,55.5 52.7,54.5 54,53.7 55.5,53.3 59.5,52.9 60.5,52.4 61.3,51.5 62.2,49.5 62.6,47.5 62.5,45 61.9,43 61,42.2 60,42.1 57,43.5 55.5,43.9 50,43.9 48.5,44.2 47.5,44.6 46.5,45.3 45.5,46.3 44.3,48.5 43.8,50.5 43.7,54.5 43.4,56.5 42.5,59.6 42,60.5 41.5,60.9 40.5,61.1 38.5,61.3 35,61.1 33.5,60.4 31,58.3 30,57.9 29.5,57.9 28.5,58.3 28,58.7 26.3,61.5 25.9,62 25,62.5 22.5,62.8 17.5,62.1 15,62.1 13.3,62.5 12.3,63.5 12,65 12.5,66.5 13.5,67.3 15.5,68.1 16.5,68.7 17.2,69.5 17.7,70.5 17.8,72.5 16.8,76 16.6,78.5 16.7,81.5 17.3,84 18.5,85.9 21.4,88 22.7,91 23.5,92 25,92.5 26,92.4 27,91.7 30.5,87.5 31.2,86 31.3,85 31,84 30.5,83.5 27.5,82.2 26.7,81.5 25.1,78 23.2,75 23,74 23.4,73 24,72.5 25.1,72 29.5,71.6 32.5,70.8 34,70.8 35.5,71.2 36.7,72 37.6,73 38.1,74 38.4,75 38.1,76.5 36.4,79.5 36.5,80.5 37,81.1 38,81.8 39.5,82.4 41,82.8 41.3,82.5 41.4,82 41.9,78 42.3,77 43.8,74.5 44.1,73.5 44.1,72 43.3,66.5 43.4,64 44,62.8 44.5,62.6 45.5,62.6 47,63.4 49.6,67.5 52.2,70 53.6,71 55.5,71.5 60,71 62.5,71.1 65,71.9 66.3,73 66.8,74 67.6,77 67.8,79 67.5,80 66.8,81 63.8,83.5 63.1,84.5 62.8,87 63,89.5 63.3,90.5 64,91.5 67,93.7 69.5,96.7 71.5,97.8 74,98.3 76,98.4 77.5,98.1 80.5,96.8 82,96.5 83.5,96.7 87.5,97.8 89,97.9 90,97.7 91,97 91.5,96.5 93.5,93.6 96.5,91.4 99,88.3 100,87.7 101,87.3 104,87 109.5,87.5 111.5,88.1 112.3,89 113.9,91.5 116.7,94 118.5,96.4 119.5,97.1 120.5,97.5 122,97.4 125,96.8 128.5,96.9 130,96.7 131,96.3 134.5,93.9 136,93.4 137.5,93.2 139,93.4 140.2,94 141.2,95 142.9,97.5 144.5,98.3 146,98.4 147.5,98.1 150,96.6 151,96.2 152,96.2 153.5,96.6 156,97.8 156.9,99 157.2,100.5 157.5,104.5 158.1,106 159.5,107.2 162,108 164,108.1 165.5,107.8 166.7,107 167.3,106 167.4,105 167,104 166.5,103.4 163.5,101 162.9,100 162.5,99 162.5,98 163,97.1 164,96.6 165.5,96.3 167,96.2 168.5,96.4 171.5,98 175.5,98.7 176.5,99.1 177.5,99.9 179,101.9 181.8,104 183.9,107 185,107.6 186,107.8 187.5,107.9 192.5,107.1 194,107.2 195,107.5 196.2,108.5 198,111.3 198.5,111.7 199.5,112.1 201,111.9 202,111.2 204.1,108 207,105.7 209.9,102 211,101.4 212,101.4 213.5,101.8 215.5,102.7 216.5,103.5 217,104.1 217.5,105.4 217.7,107 217.7,109 217.2,113 217.5,115 218.6,116.5 221.5,118.6 222.4,120 212.6,120 212,118.9 211,118 209.5,117.4 208,117.2 200,117.9 198.5,118.6 198,119 197.5,120 138,120 139,118.7 141.7,116.5 142.4,115 142,113.5 141,112.5 139.5,112 138,111.9 135.5,112.3 134.5,112.8 133.7,113.5 132.9,115.5 132.5,120 127,120 127.4,116.5 126.9,114.5 126.2,113.5 123.9,111.5 122.1,108.5 121,107.6 120,107.4 119,107.8 118,108.9 116.5,111.8 115.5,112.4 114.5,112.5 113.5,112.1 113,111.6 111,108.2 110.5,107.8 109.5,107.3 107,107.1 103.5,107.8 102,107.8 100.5,107.6 99.5,107.2 98.5,106.2 97,103.3 96.5,102.8 95.5,102.4 94.5,102.5 93.5,103.1 91.3,106 88.3,108 87.6,109 87.5,110 88,111.2 89,112 91.8,113.5 92.2,114 92.5,115 92.3,116 91.6,117 88.5,118.7 87.4,120 78,120 77.6,119 77,118.2 76,117.7 75,117.5 74,117.7 73,118.3 72.5,119 72.2,120 57.8,120 57,118.5 56,117.8 55,117.6 54,117.8 53,118.4 52.1,120 37.5,120 37.7,117 37.5,115 36.7,113.5 36,112.9 35,112.5 33,112.3 28.5,112.6 16.5,112.4 11,112.7 10,112.5 9,112 8.1,111 6.5,108.5 5.5,107.7 3.5,107.3 0,107.5 0,90 1.5,91.6 3,92.4 4.5,92.5 6,92 7,91 8.6,88.5 11.6,86 12.2,84.5 12.3,83 12,80.5 11.6,79.5 10.9,78.5 8.5,76.2 6.3,73 3.5,71.1 1.3,69 0,68.1 0,5 .5,5.2 1,5.8 1.8,8.5 2.6,10 4,11.1 6,11.7 9,11.7 11,11.3 12.2,10.5 14,8 15.5,7.2 18,7 20,7.5 21,8.3 22.5,10.8 23.5,11.8 25,12.5 27.4,13 27.4,18.5 27.7,20.5 28.3,21.5 28.9,22 29.5,22.3 30.5,22.3 35,21.4 39.5,21.4 41.5,21 42.5,20.5 43.3,19.5 43.6,18.5 43.5,17.5 43.1,16 42.1,14.5 41,13.6 40,13.2 38,12.9 33.5,13.2 28,12.8 27.6,12.5 27.8,10.5 28.1,9 28.7,8 29.5,7.3 31,7 36,7.6 40,7.6 43.5,7.7 45.5,7.4 46.7,6.5 47.5,5 47.8,3 47.9,0 48,0ZM139.9,2.5 138.5,3.4 136.5,6.2 133,8.3 132.5,9 132.4,10 133.1,11.5 136,13.7 138.5,16.6 139.5,17.2 140.5,17.3 141.2,17 141.9,16.5 143.9,13.5 146.5,11.2 148.4,9 151.1,7 151.8,6 152.1,4.5 151.5,3 150.5,2.3 149.5,2 148,2.1 145,2.6 141.5,2.3 139.9,2.5ZM158.8,2.5 158.2,3 157.7,4 157.5,5.5 157.8,6.5 158.5,7.4 159.5,7.8 160.5,7.8 161.5,7.4 162.5,6.5 162.9,5.5 162.9,4.5 162.6,3.5 162,2.7 161,2.2 160,2.1 158.8,2.5ZM115.5,7 114.3,7.5 113.5,8.2 112.2,11 111.5,11.7 110,12 105.5,11.9 103.9,12.5 103,13.5 102.7,14.5 102.9,15.5 103.5,16.5 104.5,17.3 105.5,17.7 107.5,17.9 109,17.8 110.5,17.2 111.4,16.5 113,13.8 113.5,13.3 115,13 120.5,12.9 121.5,12.6 122.3,12 122.6,11 122.4,9.5 121.9,8.5 121,7.6 120,7.1 118.5,6.8 115.5,7ZM79.2,17 78,17.5 77.1,18.5 77,19.5 77.4,20.5 78.5,21.4 79.5,21.7 80.5,21.6 81.9,21 82.5,20.5 83.1,19.5 83.2,18.5 83,17.8 82.5,17.3 81.5,16.9 79.2,17ZM25.3,47 24.5,47.5 23.6,48.5 22.9,49.5 22.6,50.5 22.8,51.5 23.1,52 23.7,52.5 25,53 27.5,53.2 29,52.9 30,52.5 32.2,51 33.1,50 33.5,49 33.6,48 33.5,47.6 33,47.2 32.5,47.1 30,47 27,46.7 25.3,47ZM68.7,52 67.5,52.8 67,54 67.1,55 68,55.9 69.5,56.2 71,56 72.2,55.5 73.2,54.5 73.5,53.5 73.4,53 73.1,52.5 72.4,52 70.5,51.6 68.7,52ZM41.6,83.5 41.5,85.5 42,90.5 42,94.5 42.5,96.1 43.5,97.2 45,97.6 46.4,97 47.3,96 48.9,93.5 50,92.8 51.5,92.6 55,92.7 56,92.4 56.9,91.5 57.2,90.5 57,89 56.5,87.9 55.5,86.9 54.5,86.7 51,86.9 50,86.7 49,86.2 47,84.5 46,84 42.5,83.3 42,83.2 41.6,83.5ZM202.5,0 208,0 207.9,2.5 207.6,4.5 206.5,6.4 205,7.5 204,7.9 202.5,8.1 200,7.9 199,7.4 198,6.3 197.5,5 197.3,3 197.5,2.7 200,2.1 201,1.6 201.8,1 202.5,0ZM237.5,0 317.5,0 316.8,1 315.5,1.9 314,2.3 310,2.6 309,3 308,4 307.5,5 307.1,6.5 307,8.5 307.1,10 307.4,11 307.9,12 308.5,12.5 309.5,12.9 310.5,12.8 311.5,12.2 313.5,9.3 314.9,8 316.5,7.4 318,7.2 320,7.5 321.5,8.4 323.5,12 324.5,12.9 325.5,13.3 327,13.5 329,13.3 330,12.8 331,12 331.8,11 332.4,10 332.6,8.5 332.4,5.5 332.8,4 334,2.8 335.5,2.3 340,2.4 343.5,2.2 345.5,2.6 346.3,3 347,3.8 348.2,6.5 349,7.4 350,8 351.5,8.3 353.5,8.3 355,8 356.5,7.2 359,5.3 360,5 360,68.1 357.5,67.2 356,67.2 355,67.5 353.7,68.5 351.5,71.5 350.5,72.3 349,72.7 342,72.9 340,72.7 337.5,72.2 336,72.3 335,72.7 334,73.5 331,76.5 329.5,77.1 327,76.9 323.8,76 322.3,75 320.4,73 319,72.2 317,71.7 315.5,71.9 314.5,72.9 314,74.5 313.5,81.3 312,87 311.9,92 312,94 312.2,95 313,95.9 314,96.3 322,96.6 333,97.9 335.5,97.7 336.5,97.2 337.1,96.5 337.5,95.5 337.3,94 336.5,92.8 333,91.1 332,90.1 331.5,88.5 331.8,86 332.7,84 334,82.9 335.5,82.4 337,82.2 338.5,82.1 340,82.4 341,82.9 341.5,83.4 343.3,86.5 344.5,87.4 346.5,87.8 352.5,87.4 356,87.6 358.4,88.5 360,90 360,107.5 346.5,107.5 342,107.3 339.5,107.6 338.2,108.5 337.6,109.5 337.4,111 337.6,114.5 337.1,116 336,117.1 334,117.7 327.5,117.4 321,117.7 317.5,117.3 316,117.4 315,117.6 314,118.1 313.1,119 312.5,120 247.5,120 247.3,116.5 247.7,114.5 248.3,113.5 249,112.9 250,112.4 251,112.2 257.5,112.7 262.5,112.1 264.5,112.3 265.5,112.8 266.3,113.5 269,116.8 270.3,117.5 272,117.8 279,117.7 284.5,118.2 286.5,117.7 287.3,117 287.5,116.5 287.4,115.5 286.6,114.5 285,113.4 282.5,112.3 280,111.6 276.5,112.2 275.5,112.2 274.5,111.9 273.5,111.2 271.2,108.5 268.5,106.7 267.6,105.5 267.3,104 267.6,100.5 267.1,99 266.5,98.4 263.6,96.5 261.5,93.5 258.5,91.3 256,88.3 249.6,82.5 248.4,81 247.9,79.5 248.1,78.5 248.4,78 249.5,77.2 251,77 254,77.4 256.1,78 256.7,78.5 258.5,81.8 259.5,82.7 260.5,83.1 262.5,83.3 264.5,83 266,82.4 267,81.5 267.4,80.5 267.5,79.5 267.2,78.5 266.4,77.5 265.5,77.1 264.5,76.9 259.5,77 258.5,76.7 258,76.3 257.4,74.5 257.3,71.5 257.7,69.5 258.5,68.4 259.5,67.8 261,67.5 266.5,67.7 272,67.2 274.5,67.4 276,68 277,69 277.5,70 277.7,71 277.4,83 277.6,85 278,86 278.8,87 280,87.5 284.5,87.3 285.5,87.5 286.1,88 287,90.5 287.5,91.2 288.5,91.7 290,91.6 291,91.1 291.5,90.4 291.7,89 291.5,88 290.5,87 287.8,86 287.4,85.5 287.2,84 287.6,76 288.1,74.5 289.4,73 291,72 292.5,71.5 294.5,71.3 296.5,71.4 298,71.8 299,72.4 301.3,75 302.5,75.8 304,76.1 305.5,75.7 306.3,75 306.8,74 307.5,70 308.4,69 310.5,67.5 311.1,66.5 311.3,65 311,61.5 311.1,59.5 311.8,57.5 312.7,56.5 314,56 316,55.7 324.5,55.7 329.5,56.1 331,55.7 334.5,54 339,53.6 339.5,53.3 340.2,52.5 342.4,47 343,46 343.9,45 345.6,44 351.5,42.3 352.7,41.5 353.8,40 354,38.5 353.8,37.5 353,36.7 352,36.3 345,35.7 340.5,34.2 339,33.9 334,33.9 330.5,33.6 327.5,33.6 326,33.3 325,32.6 324.1,31.5 323.2,30 322.5,28.3 322,27.7 321.5,27.7 320.5,27.9 318,29.1 316.5,30.3 314.5,32.5 313,33.4 306,33.7 300.5,33.7 299,33.9 297.7,34.5 296.8,35.5 296.6,36.5 297.4,39.5 297.4,41 297,41.9 296.5,42.4 295,43 293.5,43.2 292.5,43.1 288.9,41.5 287.5,41.2 285.5,41.1 282.5,41.4 279,43.1 278,43.3 277,43.3 275.5,42.8 274.5,42.3 273.8,41.5 272.5,39.6 271.5,38.9 270,38.6 268,39 266.8,40 266.3,41.5 266.4,43 267.3,46 267.6,50.5 268,51.4 268.5,51.7 271,52.5 271.9,53 272.5,53.7 272.8,54.5 272.9,55.5 272.6,56.5 272,57.3 271,57.9 269.5,57.9 268.5,57.5 268,57.1 267.4,56 266.7,53.5 266,52.8 264.5,52.4 261,52 257,52.4 255.5,52.3 254.5,51.8 252.4,50 251,49.2 246.5,47.6 245,47.4 244,47.7 243.1,48.5 242.6,49.5 242.5,50.5 243.2,51.5 245.7,53 246.9,54 247.5,55 247.5,56 246.8,57 243.4,59 240.8,62 239.5,62.6 238,62.8 231,62.8 226,62.2 224.5,62.4 223.5,63 222.8,64 222.7,65.5 223.3,67 224.5,68.3 227,70 229.5,71.2 231,71.7 234.5,72.2 235.5,72.7 236.3,73.5 238,76.2 241.5,78.6 242.1,79.5 242.4,80.5 242.5,84.5 243,86 244,87 246.6,88.5 247.2,89 247.8,90 247.9,91 247.4,94.5 247.6,95.5 248.6,96.5 251.5,98 252.3,99 252.4,100.5 252,101.5 251.5,102 248.4,104 245.5,107.2 244.5,107.7 243.5,107.9 241,107.8 240,107.5 239,106.8 236.8,104 234,101.9 231.8,99 229.5,96.9 228.9,96 228,93.5 227,92.2 223.5,90.7 222.3,90 220.2,88 217.6,85 216.5,84.2 215,83.6 211.5,83.1 210,82.5 209,81.5 208,80 207,79.1 205.5,78.8 201.5,79.1 200,79 195.5,77.5 192.5,76.9 183.5,76.8 181.5,76.6 179.7,76 177.5,74.6 176,74 174.5,73.8 170.5,73.9 165,72.5 163,71.5 160.8,69.5 159.5,68.8 158,68.5 154.5,68.4 152.5,67.9 149,66.3 148.1,65.5 147.5,64.5 146.9,62.5 146.7,60.5 146.8,59 147.5,56 147.5,55 146.5,53.5 145,52 143.5,51.4 139.5,50.8 134.5,48.9 133,48.8 129.5,49.1 127.5,49 126.5,48.7 125.8,48 125.9,47 126.4,46 129.5,43.2 130.4,42 131.8,38 132.5,37.1 133.5,36.6 137,35.5 142.5,32.5 145,31.3 147,31.1 152,31.5 159.5,31.2 162,31.4 166.5,32.5 171,32.2 174,32.1 182.5,32.3 188.5,32.7 190,32.5 191,32 191.9,31 193.4,28.5 194,27.9 194.9,27.5 196.5,27.3 200,27.6 203.5,27.3 204.5,27.4 205.5,27.8 206.3,28.5 207,29.5 207.6,31.5 207.8,33 207.7,34.5 207.3,35.5 206,37.3 205,38.1 203.5,38.2 200.5,37.5 199.5,37.6 198.7,38 196.5,41.3 193.9,43 192.9,44 192.5,45 192.3,46.5 192.6,47.5 193,48 194,48.5 195.5,48.7 197.2,48.5 199.5,47.9 201,47.9 205.5,49.1 209,50.8 210.5,51.4 215.5,52.2 218.5,52.2 224,51.7 228.5,51.9 230,51.7 236.6,47.5 237.9,46 239.5,43 240.5,42.2 242,41.8 245.5,41.9 247.5,41.7 249.5,41.3 250.9,40.5 251.8,39.5 252.5,38 253,36 252.9,35 252.5,34.4 251.6,34 246.5,33.2 244.5,32.5 243.9,32 243.3,31 242.7,28 242.1,27 241,26.6 237.5,26.2 236.5,26.2 235.5,26.5 233.5,28.2 232,28.8 230,29 225.5,28.7 224,29 222.4,30 220,32.5 218.5,33.2 216.5,33.3 215,32.9 214,32.2 213.5,31.5 212.9,29.5 212.8,26.5 213.3,22 213,20.1 212,18.9 209,17.4 208,16.6 207.5,15.5 207.6,14.5 208,13.5 209,12.5 210,12.1 211,12 215.5,12.6 219.5,12.8 222.5,13.4 224,13.4 225.5,12.5 228.5,8.9 229.5,8.2 230.5,7.8 232,7.6 233.5,7.6 238.5,8.3 240,8.1 241,7.8 242,7 242.4,6 242.4,5 242.1,4 241.3,3 238.2,1 237.5,0ZM344.3,62 342.9,63.5 342.3,64.5 342.2,65.5 342.7,66.5 343.3,67 344,67.3 345,67.4 346.2,67 347.4,66 347.9,65 348,64 347.5,62.5 346.5,61.7 345.5,61.5 344.3,62ZM294.7,113.5 293.3,114.5 292.8,115 292.5,116 292.7,117 293.2,117.5 295,118.2 304.5,118.3 305.5,118 306.5,117.3 307.2,116.5 307.5,115.5 307.4,114.5 307.1,114 306.5,113.6 305.5,113.4 300.5,113.3 297,113 296,113.1 294.7,113.5ZM308.5,47.5 309.5,47.2 310.5,47.3 311,47.6 311.5,48.5 311.6,49.5 311.4,51 311,52 310,52.9 309,53 308,52.5 307.5,52 307,51 306.9,50 307.1,49 307.7,48 308.5,47.5ZM298,62.3 299,62.1 300.5,62.1 301.5,62.4 302.4,63 302.9,64 303.1,65 303,66 302.3,67 301.4,67.5 300,67.6 299,67.2 298.1,66.5 297.4,65.5 297,64 297.2,63 298,62.3ZM128.5,78 130,77.9 131.5,78.6 132.3,79.5 132.4,80 132.4,80.5 132,81 131,81.4 129.5,81.3 128,80.7 127,80 126.7,79.5 126.8,79 127.2,78.5 128.5,78ZM139.5,78 140.5,77.8 142.5,79 143.4,80 143.5,80.5 143.5,81.5 142.8,83.5 141.5,85.2 140,86.1 138.5,86.3 137.5,86 136.5,85.2 135.9,84 135.9,83 136.5,81.5 138.5,79 139.5,78Z"/>
<path fill="#FFDC28" d="M82.5,0 97.5,0 97.7,3.5 97.4,5.5 96.5,6.8 95,7.5 93.5,7.5 90,7 86,7.5 84.5,7.3 83.3,6.5 82.5,5 82.2,3 82.5,0ZM255.5,2.4 257,2.1 258.5,2.2 260.5,2.8 261.5,3.7 263.5,6.5 266.5,8.4 267.3,9.5 267.7,11.5 267.5,15.5 267.6,20 267.4,21.5 267,21.9 260.5,22.6 256,22.3 255,22.5 254,22.9 253.1,24 252.9,25 253.1,28.5 252.9,30 252,31 250.5,31.5 249.5,31.5 248,31.1 247.1,30.5 246.7,30 246.5,28.5 247.1,25 247.1,24 246.5,22.7 245.5,22.3 244.5,22.4 240.5,23.8 239,23.9 235.5,23.8 234.2,24 233.1,24.5 231,26.3 230,26.8 228.5,26.9 225.5,26.5 224,26.5 219,28 218,27.9 217.5,27.5 217,25.5 217,20.5 217.5,18.6 218.5,17.6 220,17.1 224.5,17.3 225.8,17 226.9,16 229,12.8 230,12 231,11.7 232.5,11.8 235,12.8 236.5,13 241.5,12.5 248.5,12.7 250.5,12.3 251.7,11.5 252.3,10.5 252.6,9 252.6,5.5 253,4.2 254,3 255.5,2.4ZM350.5,12 358,12 360,12.4 360,25 359.8,26.5 360,30.5 359.7,32 359,33 358,33.1 356.5,32.9 355,32.6 354,32.1 353.1,31 352,28.5 351,27.5 350,27.2 348.5,27.5 347.5,28.5 347.1,30 347.9,33 347.5,33.7 346.5,34 344.5,33.8 341,32.2 339.5,31.8 330,31.2 328,30.7 327,30 326.5,29 326.4,25.5 326.1,24 325.4,23 323.2,21.5 322.4,20.5 322.2,19 322.5,18.2 323,17.5 324,16.9 325,16.7 326.5,16.9 329,17.7 330,17.6 331,16.8 333.5,14 335,13 336,12.7 337,12.7 341,13.2 347.5,12.2 350.5,12ZM.3,12.5 4,13.5 10,13.9 11.5,14.3 12.5,15 16.1,19 17.3,21 17.6,22.5 17.6,24 17.1,25.5 16.5,26.4 15.5,27.1 14,27.6 12,27.6 10.5,27.2 9,26.3 5.5,22.6 4,21.9 3,22 1.9,22.5 .9,23.5 0,25 0,12.4 .3,12.5ZM89.5,12.5 90.5,12.5 91.7,13 92.5,14 92.8,15 92.5,16 92,16.7 91,17.4 90,17.6 89,17.6 88,17.1 87.5,16.5 87.1,15.5 87.2,14.5 87.7,13.5 88.5,12.8 89.5,12.5ZM285,12.5 287,12.1 289,12.2 291,13 291.9,14 292.5,15.5 292.7,17 292.2,22.5 292.3,24.5 293,26 294,26.8 296,27.2 300,26.8 304,27 305.5,26.7 306.5,26.2 307.6,25 307.9,24 307.2,20.5 307.3,19 308,17.7 308.5,17.4 309.5,17 310.5,17.1 311.5,17.7 314,21.4 316.5,23.1 317.4,24 317.6,24.5 317.5,25.5 316.9,26.5 315.9,27.5 313,30 311.5,31 310,31.4 308,31.6 299.5,31.7 296,32.4 294.5,33.1 293.5,34 292.2,36.5 291.5,37.3 290,38 288,38.4 285.5,38.6 284.5,38.4 283.8,38 283,37 282,34 281.5,33.4 280.5,32.6 279.5,32.3 278,32 276.5,32 275,32.3 273.9,33 272.5,35.2 271.5,36 270,36.4 265.9,37 264.8,37.5 263.7,38.5 263.1,39.5 262.7,41 263,45 262.9,46.5 262.5,47.3 261.5,47.8 258,48.1 255.5,47.9 250.5,47 249,46.4 247.9,45.5 247.7,45 247.7,44.5 248.1,44 251.5,42.3 252.6,41.5 255,37.6 257.9,34 261,31.5 263.4,29 266.5,27 267.4,25.5 268,22.9 268.5,22.5 269,22.4 274,22.8 275.5,22.4 276.5,21.5 277.6,19.5 278.4,18.5 281.5,16.5 283.6,13.5 285,12.5ZM123,16.9 124,16.7 125,16.8 126,17.5 126.3,18 126.6,19 126.5,20 126,21 125.5,21.5 124.5,21.7 123.5,21.6 122.5,21 121.8,20 121.5,19 121.6,18 122,17.4 123,16.9ZM51,18 58,17.8 60,18.1 61.6,19 65,22.6 66.5,23.2 68,23.2 72.5,22 74,22.2 77.2,23.5 79.5,23.8 82,23.4 85.5,22 86.5,22.1 88.9,23 90,23.2 94,22.6 95,22.6 96.5,23.4 98.4,25.5 100.5,27.3 101.3,28.5 101.4,30 100.8,31 99.5,31.8 96.5,32.7 95,32.8 89,30.9 88,30.2 86.5,28.4 85.8,28 85,27.8 83.5,28.3 82.5,29.4 81,31.7 79.5,32.3 77.5,32.5 66.5,32.3 64,32.6 63.1,33.5 62.1,36 61.4,37 58.6,39 56.5,40.9 55.6,41.5 54,41.9 50,41.6 48,41.7 46,42.4 44.5,43.4 43.3,45 42.1,48 41.7,50 41.4,55 40.6,57.5 39.9,58.5 39,59.1 37.5,59.4 36,59.2 35,58.6 33.8,57.5 32.9,56 32.7,55 33.2,54 35.5,51.6 36.6,50 37.4,47.5 37.4,45.5 37,44.5 36.5,43.9 33,42 32.6,41.5 32.4,40.5 32.6,39.5 33.3,38.5 36,37 37,36.1 37.4,35.5 37.5,34.5 37.3,33.5 36.9,33 36,32.3 33.5,31.1 32.5,30 31.8,28 31.7,27 31.9,26 32.5,25.1 33.1,24.5 35,23.6 37.5,23.4 42,23.6 44,23.2 45.4,22 48,18.9 49.5,18.2 51,18ZM173.5,18.5 175,18.1 176.9,18.5 178.1,19.5 178.2,20.5 177.5,21.3 176.5,21.8 175,21.9 173.5,21.6 172.7,21 172.2,20 172.7,19 173.5,18.5ZM145.5,33.4 147.5,33.3 153,33.7 159,33.1 161,33.5 162.2,34.5 162.5,35.5 162,36.5 161.5,37 158.8,38.5 157.8,39.5 157.5,40 157.4,41 157.9,42 158.5,42.5 159.5,42.9 161,43.1 167,42.3 169.5,42.4 174,43 178.5,42.4 180.5,42.5 181.5,43 182,43.5 182.4,44.5 182.3,45.5 181.4,48 181.4,49 181.5,49.5 182,50.1 183.5,50.8 186,51.3 189,51.6 193.5,51.2 195.5,51.2 200.5,52.1 203,51.5 204.5,51.4 211.2,54 212.5,55 213.1,56.5 213,58 212.2,61 212,62.5 212.2,64.5 213,66.1 214,67 215,67.4 218.5,67.5 219.5,67.8 223,70 232,74.6 233,75.5 233.3,76.5 233.2,78 232.6,79.5 232,80.6 231,81.7 229.5,82.4 228,82.3 224.5,81.6 220,82.2 215.4,81.5 213.4,81 212.5,80.5 212,80 211.8,79.5 211.9,78.5 213,76 213.2,74.5 212.5,73.1 211.5,72.5 210.5,72.3 209.5,72.5 208.5,73.2 207,75.3 206.2,76 205,76.6 203,76.9 201,76.9 197,76.1 194.5,75.8 184,75.6 182.5,75.2 181.2,74.5 179.5,72.2 178.5,71.5 177,71.3 167.5,71.5 165.5,71.2 164,70.4 162.3,68.5 161,67.6 156,66.4 151.5,64.5 150.1,63.5 149.5,62.6 149.1,61.5 149,60 149.2,59 150,57.6 152.8,54.5 152.9,54 152.8,53.5 152.2,53 149,51.4 146,48.2 145,48 141,49.1 139,48.9 137,48 133.8,46 133,45.4 132.6,44.5 132.6,43 133,41 133.5,39.9 134.2,39 135.5,38.3 139.5,37.4 141.5,35.5 142.8,34.5 145.5,33.4ZM0,35 .5,35.2 1,35.6 1.5,36.5 3,40.5 3.9,41.5 4.7,42 6.5,42.5 8.5,42.7 17,42 20,42.1 21.5,42.6 22.4,43.5 22.6,44.5 22.3,45.5 21,47.2 19.7,48 18.5,48.1 15.5,47.8 14.5,48.1 13.5,49 11.8,51.5 11.3,52 10.5,52.4 10,52.4 9,52 8,51.1 6,48.6 4.5,47.8 3,47.8 1.5,48.2 .6,49 0,50 0,35ZM360,35 360,50 359,52.6 358.5,53 358,53.1 352.5,51.8 351,51.8 350.1,52 348.9,53 347.5,56.1 346.9,57 346,57.7 343.5,58.9 341,61.8 340,62.7 338.5,63.1 335,62.6 333.5,63 332.6,64 332.3,65 332.4,66 333,68.5 332.9,70 332,71.4 330.5,72.7 329,73.3 328,73.3 327.5,73 327.2,72 327.1,70 326.8,68.5 326,67.2 325,66.6 323.5,66.3 322,66.4 318.5,67.5 317,67.7 315.5,67.4 314.4,66.5 313,63.8 312.4,61 312.5,60 312.8,59 314,57.7 315,57.2 316,57 320.5,57.3 324.5,57.1 326,57.2 330.5,58.3 332,57.9 335,56.3 336.5,56.3 339.5,56.8 341,56.5 341.7,56 342.2,55 344,48 344.4,47 345.1,46 346,45.3 347,44.8 352.5,43.7 354.5,42.9 355.8,41.5 357,38.8 358.5,36.3 359.5,35.1 360,35ZM0,55 2,55.8 5,57.4 6.3,58.5 7.4,60 8.1,62 8.2,64.5 7.6,66.5 6.5,67.6 5.5,67.9 4.5,67.7 0,65 0,55ZM360,55 360,65 358.1,63.5 357.6,62.5 357.5,61.5 357.7,59.5 358.5,56.7 359.1,55.5 359.5,55.1 360,55ZM82,55.9 84,55.7 85,55.9 85.8,56.5 86.5,57.5 86.8,58.5 86.7,59.5 86.4,60 85,60.8 83,61.2 76.5,61 71,61.4 69,61 68.1,60.5 67.6,60 67.4,59.5 67.5,59 68.2,58.5 75,56.6 76,56.4 79.5,56.7 82,55.9ZM48.5,71.9 49.5,72 52.5,73.2 54.5,73.6 56,73.6 59.5,73.1 61,73.3 62,73.8 62.7,74.5 63.1,75.5 63,76.5 62.7,77 62,77.5 60,78.1 58.5,78.9 57.4,80 56,82.2 54.5,83.1 53,83.4 51.5,83.4 45.5,81.8 44.5,81.3 43.8,80.5 43.6,79.5 43.8,78.5 44.5,77.4 46.8,75 48,72.3 48.5,71.9ZM310,72.1 310.5,72 311,72.1 311.6,73 311.9,74.5 311.9,77 311.4,79.5 310.6,81.5 309.5,83.1 307.3,85.5 306.9,86.5 307.1,87.5 308,89.8 308.3,91 308.3,92.5 307.9,94 306.9,95.5 304.5,97.4 303,98 299.5,98.7 298,99.3 297.3,100.5 297.4,102 298.1,103 300,103.4 303,103.4 307,102.8 309,102.4 310.5,101.9 313.2,99.5 314.5,98.8 317,98.4 319.5,98.6 320.9,99 321.8,99.5 322.4,100 322.9,101 323.1,102 323,103.5 322.5,105 321.8,106 321,106.7 319.5,107.3 318,107.4 313.5,107.1 311,107.5 309.5,108.2 307,110.4 305.5,111.1 302.5,111.4 297.5,110.9 296,111 294.5,111.5 291,113.3 290,113.5 289,113.4 287,112.5 284.5,111 281.5,108.9 278.6,108 277.8,107.5 277.3,106.5 277.4,105.5 277.6,104.5 278.3,103.5 281.5,101.2 283.2,99 286,96.7 287.9,94.5 289,94 291.5,93.3 292.5,92.8 293.3,91.5 294,88.9 294.5,87.9 295,87.3 297,86 297.7,85 298.1,83.5 298.3,82 298.2,80.5 297.9,79.5 297,78.8 293.5,77.9 292.5,77.5 292,76.9 291.7,76 291.9,75 292.2,74.5 293,73.9 294,73.5 296,73.5 297,73.8 298,74.5 299.5,76.5 300.5,77.2 302,77.5 304.5,77.5 306.1,77 307.5,76.1 308.2,75 309.2,73 310,72.1ZM32.5,72.9 34,72.7 35,73 36,74 36.3,75 36.2,75.5 35.8,76.5 33,81 32,81.4 30,81.2 28.7,80.5 27.8,79.5 26.9,77 26.9,75.5 27.2,75 27.9,74.5 32.5,72.9ZM34.5,83.2 36,83.3 38,84.3 38.8,85.5 39,87 38.6,89 37.5,91.2 36.5,92 34.5,92.3 32.5,92 31.9,91.5 31.6,90.5 33.8,84 34.5,83.2ZM234,87.4 235.5,87 236.9,87.5 237.6,88.5 237.8,90 237.5,91 236.5,92.1 235,92.8 233,92.9 232.5,92.6 232.1,92 232.1,90.5 232.8,88.5 234,87.4ZM59,97.9 60.5,97.6 61.5,98 62,98.5 63.2,100.5 64,101.5 67,103.7 67.4,104.5 67.5,105.5 67.2,106.5 66.5,107.3 65.5,107.8 64.5,108 60,107.4 55.5,107.9 54,107.5 53,106.8 52.5,105.5 52.9,104 53.8,103 56,101.4 58,98.7 59,97.9Z"/>
<path fill="#FFA500" d="M7.5,16.4 9,16.2 10,16.4 11,17 12.4,18.5 13.3,20 13.8,21.5 13.7,22.5 13.5,23 13,23.5 12,23.8 10.5,23.4 9.2,22.5 8,21.1 6.9,19.5 6.4,18 6.6,17 7.5,16.4ZM237,16.5 240,16.7 242,17.3 242.6,18 242.8,18.5 242.8,19 242.4,20 241,21.3 239,22 237.5,22 235.5,21.8 234.2,21.5 233.3,21 232.8,20.5 232.5,19.5 232.5,18.5 232.9,17.5 233.6,17 234.5,16.7 237,16.5ZM336.5,16.4 339,16.5 340.5,16.8 341.5,17.3 342,17.7 342.4,18.5 342.5,19.5 342.2,20.5 341,22 338,24.1 337.3,25 336.2,27 335.1,28 334,28.5 332.5,28.9 331,28.8 330,28.5 329,27.5 328.7,26.5 328.7,24.5 329,23 330,22 332.5,20.2 335,17.1 336.5,16.4ZM58,21.5 59.5,21.5 61,22.4 62.2,24 62.5,25.5 62,26.6 58.9,28.5 57,31.5 56.4,32 55,32.2 53.5,31.6 51,28.6 48.5,26.9 47.6,26 47.4,25 48,23.5 49,22.3 50,21.7 51.5,21.5 55,22.2 58,21.5ZM136.5,41.5 137.5,41.3 139,41.6 141,42.2 142,42.8 142.6,43.5 142.9,44.5 142.6,45.5 142.3,46 141,46.9 140,47.1 139,46.8 138,46.2 136.8,45 136,43.5 135.9,42.5 136,42 136.5,41.5ZM174.5,47.3 176,47.1 177,47.5 177.5,48.1 178.6,50.5 179.7,51.5 180.9,52 185.5,52.8 190,53.8 195,53.4 196,53.7 197.3,54.5 197.9,55.5 198.1,56.5 197.9,58 196.9,61.5 196.9,63.5 197.6,71 197.4,72 196.8,73 195.5,73.6 194,73.9 187,74.2 185,74 184,73.5 183.6,73 182.7,70.5 182.1,69.5 180.5,68.6 178,68.4 174.5,68.6 170.5,68.6 167.5,69 166.5,68.9 165.8,68.5 164.9,67 164,66.3 159.5,65.7 157.5,65.2 153,63.1 151.5,61.8 151,60.5 151.2,59.5 152,58.3 153.5,57 161,53.1 162.5,52.4 164.5,52 169,52.1 170.5,51.7 171.5,51 171.9,50.5 173.4,48 174.5,47.3ZM316,58.4 317.5,58.4 320.5,58.8 324,58.6 325.5,58.8 326.5,59.2 327.6,60 328.2,61 328.2,62 327.6,63 326.5,63.5 325,63.6 321,63.5 317.5,64.2 316,64.1 315,63.6 314.5,63 314,62 313.9,61 314,60 314.5,59.2 315,58.8 316,58.4ZM219,71.9 220,71.8 221.5,72 223.5,72.6 225.6,73.5 227.1,74.5 228.2,75.5 228.8,76.5 228.8,77.5 228,78.2 226.5,78.5 219,78.1 217.5,77.6 217,77 217,76.5 217.3,73.5 217.8,72.5 219,71.9ZM304.5,78.9 307,78.6 308,78.7 308.4,79 308.5,79.5 308.3,80.5 307.3,82 306,83 304,83.7 303,83.7 302.3,83.5 301.7,83 301.4,82.5 301.3,81.5 301.5,80.5 302.5,79.5 304.5,78.9ZM297.5,91.9 298,91.8 299.5,91.7 301.5,91.9 302.5,92.2 303,92.5 303.5,93.5 303.4,94.5 303.2,95 302.1,96 301,96.4 299.5,96.5 298.5,96.2 297.6,95.5 297.1,94.5 297,93 297.1,92.5 297.5,91.9ZM290,103 291.5,103.3 292.3,104 293.3,106 293.8,108 293.6,109 292.5,110.2 291,111.1 289.5,111.3 288,110.9 286.7,110 286.1,109 286,108 286.5,106.5 287.8,104 288.5,103.4 290,103Z"/>
<path fill="#FF6E00" d="M174.5,53.5 176,53.4 179,53.8 183.5,54 185.5,54.3 188,55.3 191.2,57.5 191.8,58 192.3,59 192.9,62.5 192.9,65 192.5,66.2 192,66.8 191,67.2 188.5,67.5 186.5,67.3 183,66.5 180,66.2 176,66 170.5,66.1 169,65.7 166.5,64.5 165.5,64.2 164,64.1 160.5,64.2 158.5,63.9 156.4,63 154.7,62 154,61.4 153.5,60.5 153.6,59.5 155,58.2 163,54.7 165.5,54.1 171,54 174.5,53.5Z"/>
<path fill="#C80000" d="M164.5,55.9 167.5,55.7 179.5,56.5 183,55.9 184.5,56 186,56.7 187.2,58 187.9,60 188,61.5 187.3,62.5 186,63 182,63.2 177.5,63.8 172,64.3 170,64.1 165.5,62.8 160,62.4 159,62 157.5,61 157.2,60.5 157.3,60 157.7,59.5 162,56.9 164.5,55.9Z"/>
<path fill="#A02828" d="M165,57.5 167,57.4 170,57.8 175,58.1 176.2,58.5 176.9,59 177.3,59.5 177.4,60.5 176.6,61.5 175.5,62 172.5,62.4 164.5,61.2 162.6,60.5 162.2,60 162.2,59.5 162.5,59 163.7,58 165,57.5Z"/>
<path d="M358.3 24.9L358.2 27.5L356.5 28.5L355 30L351.3 31.3M351.3 32.3L346.8 32.3M343 38.7L347 38.7L347 37L348 36.5L348 34L351.3 32.7L351.3 31.3M351.3 32.7L355.2 35L354 39L354.5 43.5L348.5 44.5L347.8 45.5M-4.8 35L1.2 39.3L3.3 41L4.2 40.8L5.8 40.5L12 36.5M355.2 35L361.2 39.3L363.3 41L364.2 40.8L365.8 40.5L372 36.5M8.5 23.1L8.2 25.5L9.5 28L10.3 29.5L9.5 30L9.8 33L10 35.5L11.9 36.5M11.9 36.5L13.5 37L15 37L24 40.5L24 38M25 28.4L25 38L36.9 38M24 40.5L22.5 46L22 47.5L22.5 49M15.5 37L15.5 39.5L14 46.5M3.6 48.3L5 46.3L9 47.2L12.5 46.5L14 47M4.2 40.8L4.2 43.5L1 45L0.2 45.2M364.2 40.8L364.2 43.5L361 45L360.2 45.2M-11.5 44.5L-11.4 47.6L-8.5 49L-5.5 49.6L-3 49L0 49L1.5 47.5L0.2 45.2L-2 45L-4 46L-5.5 43.5M348.5 44.5L348.6 47.6L351.5 49L354.5 49.6L357 49L360 49L361.5 47.5L360.2 45.2L358 45L356 46L354.5 43.5M347.8 45.5L348 47.5L346.3 47.8L345 47.5L343.3 47.6M346.7 50.5L349 51.5L349.7 51L351.5 52.4L351.7 54L352.5 55.6M357 55L357.2 50.5L357.2 49M0 49L0.5 52L1.2 53.9M360 49L360.5 52L361.2 53.9M1.6 53.8L1.6 51L3.6 48.3M2.7 53.6L3.6 48.3M8.5 55.4L9.5 53.5L11.5 53L13.5 49.5L14.5 47.5L14 47M14.5 47.5L15.5 50L14.5 52L15.5 52.5L16 57L18 56.5M15.5 52.5L18.5 51.2L22 49.2L22.5 49M16 58L18 56.5L21 55.8L25 55L27.4 54.9M22.5 49L24 51.5L27.4 54.9M23.5 50L27 50.5L33 50L34 50.5M34 50.5L34 52L35.8 55.4L34 55.8L33.5 56.3L31 56.3L30 55.5L27.4 54.9M36.5 45.7L36.2 47.5L35 49.5L34 50.5M36.5 45.7L38.5 45.5L40 45.5L42.5 47.5M43.3 48.2L44 51L48 52L45 55L42 56L41 56L40 56L39 56.5L35.8 55.4M41 56L41 61.7M34 55.8L35 59L34 61L37.5 63L39.3 64.7M30 61L33.9 61M31 56.3L30 58.5L29.7 61L29.2 63.4M12.2 66L12.5 65L13 64.5L16 65L17 63L17.7 60L18 58L18.5 56.5M9.8 57.7L11.3 57.8L14 57.8L16 58L16 61L14.5 62.3L12 62.8L11.5 64.5M12.2 66L16 67.5L17.5 68L19 67.5L21 67.3L22 71L24 71L24 73L22 73L22 76L23.5 77.8L21 78L11.8 77.2M21 78L20 82L20 84.8L20 88.5L17 88.3L16.5 88.7M23.5 77.8L25.2 77.8M24 71L25.5 71.3L27.5 72.3L28.5 71L29.5 72.5L29 73.5M28.4 69.5L28.5 68.5L30.5 68.5M25.2 77.8L28 76.5L30.4 75.7L33 74L32.7 73.5L33.5 70L34.3 69.5M40.5 70.5L38 71.3L35.5 71.5L34.9 71.5M35.3 74.3L35.8 76L35.2 77L34.3 75.5L33.3 74.5M30.4 75.7L32.8 76.5L33 79L32 81L31.3 82.4M25.2 77.8L27 80L29 82L31.3 82.4M20 84.8L23 85.5L25.5 85.5L27 84L29 82M31.3 82.4L32 84L32 86.3L32.9 86.8M27 89.8L28.5 88.6L29.5 89.3L28 90.6L27 89.8M36 23.2L37 23.3L40 23L42.3 22.9L44.8 22.8M41.5 18.5L43.5 18.9L44.8 20.3L44.5 22L44.8 22.8M40 16.6L42 16.8L44 17.3L46 18.1L48.5 18.2M44.8 20.3L46.5 21.1L48 21.5L49 21.7M44.8 22.8L45.5 24.5L46 27L47.8 28.5L48.6 30M42.3 22.9L41 25.5L39 27.7L37 28.5L39 28M39 27.7L42 29L44.7 30.8L46.5 30.9L47.7 31.5M42.7 43.5L44 42.6L47 43L49 41.5L52 41L55.7 38L55.5 36.5L56.3 35.1M35 30.5L35.5 28.5L35.6 27M35.9 25.4L36.5 25.5L35.8 26.7M53.9 22.6L56 22L58 22.3L60.5 23.4L61.2 24.4L60.5 26L60.9 28.5L61.7 28.7L62.5 30.6L61 32L61.6 33.5L61.7 34.9M61.2 24.4L62.5 24.7L64.5 23.5L66.5 22.6L68 23L70 22.5L71.5 22.1L74.9 22.8M62.5 30.6L66 30.5L66.5 29.5L68 28.5L69.3 29L70.5 27.5L69.5 26L71 25.4L71.5 24L74.9 22.8M68.2 36.3L70.8 34.3L69.5 33L72 31.7L74.5 29L75 27.5L74 25.5L77.8 24.5M77.8 24.5L79.5 25.5L78.8 27.5L79 29L80.3 29.5L81 29.8L84 31.5L88 32.1L88.2 32.8L89 32.7L92 32.2L94 31.1L96 30.8L97.3 31.8M80.3 31.3L83.5 32.6L86 33.4L88.2 33.5M88.2 33.5L89 34.8L88.5 36.5L89 38M89.5 34L92 35L92.3 36.3L92.6 38.7M92.6 38.7L93.3 36.5L94.5 34.5L95.2 33.3L97.3 31.8M97.3 31.8L98.5 33L98.7 35L97.7 36L99 37.8L101.2 38.7L102 37.6L103.5 37.4L105.5 37L106.7 37.3L108 38.5M98.6 50L99.2 48.5L98.3 44.8L98.5 43.5L97.6 41.5L100 39.6L101.2 38.7M100 39.6L101 42.5L102.5 42.1L104.7 43.5L105.5 45.8M102.5 48L102.7 46.5L105.5 45.8L107.5 45.5L106.5 48.5L105 49.5M107.5 45.5L107.5 44L105 41.2L104 40.5L103.2 39.2L102 37.6M100.3 53.5L101.5 54.2L102.1 53.8M109.6 58.2L111.5 59L113.5 58.8L115 57.5L115.5 55.8L117.5 55.8M87.8 10.8L90.5 12.2L91 13.5L90.5 15L93.5 15.1L96.4 17.3L100.8 17.4L105 18.4L107.5 17.6L111.9 16.3L111.5 15L113.5 15.2L116 14.3L119.7 13.4L118.5 12.2L116 12.1L115.5 11.9L116.7 10.2M87.8 10.8L90 9.6L92 9.4L97.8 10.2L98 8.3L102 8.7L106 9.7L108 10.4L114.4 9.8L116.7 10.2M116.7 10.2L118 10.1L119.5 7.4L121 6.7L123.5 6.5L126 7L127.5 10.2L130.5 11.2L132.5 12.3L134.8 11.7L134.2 13L133.2 15L131.3 15.2L131 17.1L130.7 17.7M124.4 20L126 19L128.2 18L129.7 17.5L130.7 17.7M126.2 22.2L127.5 21.7L128.4 21.4M87.8 10.8L86.5 11L85.5 13L83 12.8L82.5 14.5L80 15L80.3 17.8L78.5 18.5L76.5 19.5L74.5 20L73.7 20.6L74.9 22.8L75.5 23.2L77.8 24.5M38.2 12.9L40 11.8L40 10.4L38.3 10L35.5 9.6L34 8.5L32 7.9L30.6 8.6L27 8.4L24 8.4M24 8.4L23.6 9.6L22.6 10.9L22.9 12L24.9 12.3L26.6 11.7L28 11.8L30 13.4L28.8 14.7L28.2 14.5M26.6 11.7L28.2 14.5M22.9 12L21 13.8L20.3 13.9L22.5 15.5L22.7 16.2L25 16.3L27 15.9L28.6 16.3M22.7 16.2L22.4 17.7L23 18.7L26 18.7L28 18M20 20.3L20.8 19.1L22.9 18.7M19.4 18.2L20 17.4L20.7 17L19.2 16.5L19.5 15.2L18.8 14.1L17 14.1L16.5 13.5L15.4 13.4L13.7 13.5M20.3 13.9L19.5 15.2M16.5 16.6L17.5 15.5L19.2 16.5M16.1 13.2L16.9 12.3L17.2 12L18.8 12.2L20.5 11.5L22.1 11.6L22.9 12M13 12.5L12.5 12.4L10.5 12.5L9.6 12.5L8.6 12.3L7.6 12.4M13.8 11.3L15 11L17 11.4L17.2 12M12.1 9.7L14.8 9.1L16.5 9.6L18.8 10.5L20.5 10.6L22.6 10.9M14.2 6.1L14.6 7.5L14.8 9.1M12.1 9.7L13.8 11.3M7.6 12.4L8.2 11L6.4 10.5L5.8 10.5L4.8 10L2.5 8.9M3.4 8.6L5 8.5L6 9.2L6.1 8.1L7 7.8L7.2 6.7M6 13.7L7 14.1L7 15.8L7.5 16.2M7 14.1L8.5 13.5L10.5 13.5L12.2 13L13.7 13.5M-1.8 16.6L0 17.3L3.2 17.6M358.2 16.6L360 17.3L363.2 17.6M351.1 18L353.5 18.2L353.1 20L352.6 21.5L352.6 22.8M24 8.4L23.2 7.7L23.5 6.1L22.8 5.6L19.5 5.6M21 3.9L26.5 4.3L28 3.9L27.7 2.5L26 2.2L24.3 2.1M23.5 6.1L25.5 5.7L26.5 4.3M28 3.9L31 4.4L32 6.2L31.6 7.9L30.6 8.6M27.7 2.5L28 0.5M8.6 5.1L9.9 5.2M236.7 11L264.8 11L264.8 10.6L265.2 10.7L267 11.4L270.5 12M277.5 14.7L277.6 17L276.9 17.9M281 16.7L283.5 15.8L285 15L288.5 15L289.2 14.6L290 13.3L290.8 12.6L292 12.7L292.2 14.3L293 15.2M219 -0.2L220.9 -0.3L222.5 1L224.5 0.2L226.5 1.6L228.5 3.5L230 4.1L230 5.3M242.9 27.5L245.3 27.3L249 28.7L251.8 28.7L251.8 28.2L253.5 28.2L255.5 30.4L257 31L258.6 30.2L260.5 32.5L262.8 34.1M267.8 45.5L268 42.2L269 42.2L268.6 43.9L269.5 44L270.8 42.2L271.7 41.5M270.8 42.2L270.8 44.1L271.8 44.3M270 46.3L270.7 45.6L272.2 46.1L272.5 47M272.5 47L275 46L276.7 45M274.3 48.8L276.3 49.1M277.1 51.9L277.4 50.4M282.6 51.3L282.1 52.8M236 13.7L241 14L243.1 14M243 11L243 13.6L243.5 14.5L243 15.7L243 18M235.8 18L249 18M240 18L240 21L245.4 25M246 18L246 23L245.4 25L245.3 27.3M246 23L258 23L265.4 23M251 19L251 28.7M244 11L244 12.5L245.5 14L247 15.5L249 15.5M249 15L256 15M249 15L249 19L256 19L256 15M249 19L258 19L258 20M258 19L258 23M257 23L257 28L253.4 28M257 23.5L260 23.5L260 25.4L263 26.2L265.5 26.4M256 11L256 15L256 17M256 14L263.4 14M256 17L261.5 17L263.5 17.5M258 20L264.7 20M262.8 11L263.4 14L263.5 16.5M263.5 16.5L268.8 16.5M264.2 19.4L268.5 19.4M265.4 23.5L270 23.5M265.4 23L265.4 23.5L265.5 26.4M264.2 19.4L263.5 17.5M266 27L269 27M266 27L266 30.3M268.5 29L270.3 29L270.5 29.8M271.8 25L271.6 29.7M274.4 25L275 28L275 29M272.4 29L275 29L275.2 29.3L278 29.4L278.5 29.3M270 23.5L278.3 23.4L284.1 23.4M269.7 25L275.7 25L277 24.8L278 24.8L279 25L281.5 26.1M276.7 25L279 27.9M267.1 13.2L267.7 14.5L268.8 16.5M272.2 17.5L269.4 17.5M272.5 18.3L272.5 22L272 22.2M268.8 16.5L269.4 17.5L268.6 19.4L269.8 21.2L270.8 23L270 23.5L269.9 25L269 27L268.8 29M275.2 18.3L275.2 20.9M270.8 23L272 22.2L274 22L275.2 20.9L277.4 21.6L279.4 19.4M272.5 18.3L276.5 18.3M279.5 18L279.5 20.3M279.5 18L280.2 18L284.7 18L285 18.6M279.5 20.3L284.2 20.3M277.4 21.6L278.3 22.7L280 22.5L281.5 20.6L282.3 20.7M276.3 23.4L278 22.5M286.7 15L286.7 17.3L286.5 19M287.5 15L287.5 17.3M286.7 17.3L289.1 17.1M286.5 18L288.2 18M289 14.7L289.3 16.9M288.4 48.6L287.7 49.2L287 50.8L287.7 52.5L290 53L292.5 53.8L292.2 55.5L292.7 58L293 58.9M293 58.9L290.5 59L290.6 61.1L290 64.2M281.2 58.5L283 59.5L284.7 60.1M284.7 60.1L287 62.5L290 64.2M279.8 63.4L281 64.8L282 63.5L284.7 60.9M290 64.2L287 67.4L286.5 69.4L289.5 71L291 71L290.5 73L291.3 72.5M291 71L290.5 74L291 76L290.2 77.5L289.6 78.3M290.2 77.5L291.5 79.8L292 81L292.8 82.8L294.5 82L297.2 82.2M291 71L294 69.8L294.5 69.8L296.5 72.5L299 73.5L300 75.5L301.8 76.3L302 79.5L300.2 79.4L298.2 79.6L297.2 82.2M292.8 82.8L291.7 85L291.5 88L290 89.5L289.5 93L290 95L289 97L288.5 100L288.2 104L288.5 106L287.5 107.5L286.7 110L287.7 111.8L291 112.3M297.2 82.2L299 83.5L302.3 85.5L305.4 85.6L306.2 87.2L304 88.6L302.4 90.2L301.8 93L301.6 94M302 79.5L302.2 82.1L304.2 82.3L305.8 84L305.4 85.6M302.4 90.2L304 91L306.6 93.7M300 51.7L298.8 53.4L298.7 54.8L299.3 54.8L299.8 55.5L297 56.1L295.4 55.9L296 58.5L293.7 59.3L293 58.9M299.8 55.5L300.3 58.1L303 58.5L304 58L306 57.8L307.5 57.7L308.4 55.9M302.8 54.1L302 56L302.7 58M306 54.3L305.8 56.5L306 57.8M141 62.6L141 69.1" fill="none" stroke="#007F00" stroke-width="1.6" vector-effect="non-scaling-stroke" stroke-linejoin="round"/>
<path d="M-5.9 24.2L-6.5 26L-9.5 28L-9.8 30.5L-13 32.5L-14.5 34L-16 36L-17 39L-16.5 40.5L-16.2 42L-17.2 45.3L-16.7 46.5L-16.8 47.7L-15.5 48.5L-14.5 49.5L-13.3 50.5L-12.5 52.2L-11.3 53.1L-9.8 54.4L-7.5 55.6L-5 54.9L-2 55.2L0 54.5L1.5 53.8L3 53.6L4.5 53.7L5.8 55.7L6.8 55.6L8.5 55.4L9.5 56.2L9.8 57.5L9.4 59L9.3 60.5L8.8 61.5L10 63L11.5 64.5L12.2 66L13.2 68.5L13.5 71L12 74L11.8 77L12.5 78.5L14.5 82.5L15 87L16.5 88.7L17.5 91L18.3 94L20 94.8L22.5 94L25.6 94L27.5 93.2L29.5 91.2L31 89.5L32.4 88.5L32.9 86L32.6 85.5L35.5 84L35.5 82L35 80L36.8 78.5L39.5 76.5L40.8 74.5L40.5 71L39.5 68L39 66.5L39.3 64.7L40.2 62.7L41.5 61.5L43.5 59L46 57L48 55L49.8 51.5L51.2 48.2L49 48.7L45 49.5L43.3 48.2L42.7 47.2L41 45L39.2 44.2L38.5 42L37.3 39L36.9 38L35.5 36.1L34.6 34L33.5 32.2L32.5 30.1L32.3 28.8L31 28.5L30 28.8L29 29.1L27.3 28.7L25 28.4L23 27.4L21.5 27.1L20 28L20 29.1L19 29.7L17.5 29L15.5 27.7L13 27.1L11.5 26.8L10.2 26.2L11 24.7L10.3 23.2L11 22.9L9.8 22.7L8.5 23.1L6.5 23L5 23.2L3 23.2L1 23.5L-1.5 24.8L-2.2 24.9L-5.9 24.2M354.1 24.2L353.5 26L350.5 28L350.2 30.5L347 32.5L345.5 34L344 36L343 39L343.5 40.5L343.8 42L342.8 45.3L343.3 46.5L343.2 47.7L344.5 48.5L345.5 49.5L346.7 50.5L347.5 52.2L348.7 53.1L350.2 54.4L352.5 55.6L355 54.9L358 55.2L360 54.5L361.5 53.8L363 53.6L364.5 53.7L365.8 55.7L366.8 55.6L368.5 55.4L369.5 56.2L369.8 57.5L369.4 59L369.3 60.5L368.8 61.5L370 63L371.5 64.5L372.2 66L373.2 68.5L373.5 71L372 74L371.8 77L372.5 78.5L374.5 82.5L375 87L376.5 88.7L377.5 91L378.3 94L380 94.8L382.5 94L385.6 94L387.5 93.2L389.5 91.2L391 89.5L392.4 88.5L392.9 86L392.6 85.5L395.5 84L395.5 82L395 80L396.8 78.5L399.5 76.5L400.8 74.5L400.5 71L399.5 68L399 66.5L399.3 64.7L400.2 62.7L401.5 61.5L403.5 59L406 57L408 55L409.8 51.5L411.2 48.2L409 48.7L405 49.5L403.3 48.2L402.7 47.2L401 45L399.2 44.2L398.5 42L397.3 39L396.9 38L395.5 36.1L394.6 34L393.5 32.2L392.5 30.1L392.3 28.8L391 28.5L390 28.8L389 29.1L387.3 28.7L385 28.4L383 27.4L381.5 27.1L380 28L380 29.1L379 29.7L377.5 29L375.5 27.7L373 27.1L371.5 26.8L370.2 26.2L371 24.7L370.3 23.2L371 22.9L369.8 22.7L368.5 23.1L366.5 23L365 23.2L363 23.2L361 23.5L358.5 24.8L357.8 24.9L354.1 24.2M32.3 28.8L34.2 28.7L34.5 28.5L35 27L35.5 26.1L35.9 25L36 24.2L35.9 23.2L34 23.8L32 23.7L30.6 23.2L29.5 23.8L28 23.3L27.2 23L26.3 21.5L26.2 20L26 19.2L24 19.2L22.8 19.5L22.8 20.8L24 21.8L23.2 22L22.7 23.5L21.8 23.2L21 21.7L20.1 20.4L19.4 19.7L19.4 18.2L18 17.4L16.5 16.6L15 15.8L13.7 15.1L13.7 14.4L12.4 14.6L12.3 15.7L13.5 16.4L14 17.3L15.1 18.1L16 18.5L18 19.4L18.5 19.9L17.2 19.6L17 21.1L16.1 22L15.7 22L16.2 21.1L15.6 20L14 19.2L12.5 18.5L11.5 17.6L10.5 17.1L10.2 16.1L8.8 15.6L7.5 16.2L6 16.9L4.5 16.5L3.1 16.9L3.2 18.1L0.9 19L-0.3 20.5L0.2 21.2L-0.5 22L-2 23.2L-4.5 23.3L-5.6 24L-6.3 23.2L-7.4 22.8L-8.9 23L-8.8 21.3L-9.5 21L-8.8 19L-8.9 18L-9.3 17L-8 16.3L-4.5 16.6L-1.8 16.6L-1.3 15.5L-1.2 14L-2.2 13L-4.5 12.1L-3 11.3L-1.6 11.4L-1.3 10.3L0.2 10.5L1.6 9.8L1.7 9L3 8.7L4 8.1L4.8 7L6.8 6.5L8.5 6.3L8.8 5.5L8.3 4.5L8.1 3.2L10.5 2.3L10.6 3.5L10.3 4.5L11 6L12.5 5.5L14.2 6.1L16.5 5.5L18.5 5.2L19.5 5.6L21.2 4.8L21 3.2L22 2.4L23.5 3L24.2 2.1L23.5 1.2L24.5 0.5L28 0.5L30 -0.2M392.3 28.8L394.2 28.7L394.5 28.5L395 27L395.5 26.1L395.9 25L396 24.2L395.9 23.2L394 23.8L392 23.7L390.6 23.2L389.5 23.8L388 23.3L387.2 23L386.3 21.5L386.2 20L386 19.2L384 19.2L382.8 19.5L382.8 20.8L384 21.8L383.2 22L382.7 23.5L381.8 23.2L381 21.7L380.1 20.4L379.4 19.7L379.4 18.2L378 17.4L376.5 16.6L375 15.8L373.7 15.1L373.7 14.4L372.4 14.6L372.3 15.7L373.5 16.4L374 17.3L375.1 18.1L376 18.5L378 19.4L378.5 19.9L377.2 19.6L377 21.1L376.1 22L375.7 22L376.2 21.1L375.6 20L374 19.2L372.5 18.5L371.5 17.6L370.5 17.1L370.2 16.1L368.8 15.6L367.5 16.2L366 16.9L364.5 16.5L363.1 16.9L363.2 18.1L360.9 19L359.7 20.5L360.2 21.2L359.5 22L358 23.2L355.5 23.3L354.4 24L353.7 23.2L352.6 22.8L351.1 23L351.2 21.3L350.5 21L351.2 19L351.1 18L350.7 17L352 16.3L355.5 16.6L358.2 16.6L358.7 15.5L358.8 14L357.8 13L355.5 12.1L357 11.3L358.4 11.4L358.7 10.3L360.2 10.5L361.6 9.8L361.7 9L363 8.7L364 8.1L364.8 7L366.8 6.5L368.5 6.3L368.8 5.5L368.3 4.5L368.1 3.2L370.5 2.3L370.6 3.5L370.3 4.5L371 6L372.5 5.5L374.2 6.1L376.5 5.5L378.5 5.2L379.5 5.6L381.2 4.8L381 3.2L382 2.4L383.5 3L384.2 2.1L383.5 1.2L384.5 0.5L388 0.5L390 -0.2M34.9 30.5L34.6 32L36.5 34L37.5 36L39 38.5L39.8 40L41.2 42.5L42.7 44.3L43.3 47L44.5 47.3L45.5 47L48.5 46L50 45L52 44L52.2 43.2L55 42.5L56.5 42L57.7 41L58.5 39.5L59.8 37.5L58.8 36.5L57 36.1L56.3 35.1L56.4 33.7L55.5 34.5L54.5 35.7L52 36L51.5 35L51.2 33.9L50.5 35L50 33.5L48.5 31.5L47.7 30L48.6 30L49.5 30L50.2 30.3L51 31.5L52.5 32.5L54.8 33.5L56.2 32.9L57.3 34.2L59.5 34.6L61.7 34.9L64 34.7L66.5 34.6L67.5 36L68.5 36.5L70 37.2L69 37.7L70.5 39.2L72.6 38.6L72.8 41L73.5 44L74.5 46.5L75.5 48.5L76.5 51L77.5 52L78.2 51.1L79.2 49.7L79.8 48L80.2 46.5L80.1 44.5L81.5 43.7L82.3 43L84.5 41L86.5 40L87 38.5L88.5 38.3L89.8 38L91 37.4L92 38.5L92.4 39.3L93.5 40.5L94.3 42L94.5 43.5L95.4 44.2L97 43.5L97.7 45L98.2 46.5L98.5 48L98.6 50L98.3 51.5L98.5 52.2L100 53.5L100.4 55L101 57L102.5 58L103.5 58.7L104.2 58.6L103.5 57.2L103.4 55.8L102.5 54L101.3 53.1L100.4 52.5L100 50.8L99.2 49.7L99.5 48L100 46.6L101 47.3L102.5 48L103 49L104.5 49.5L105 51L105.5 51.2L106.7 49.5L107.5 49.5L109 48.5L109.3 47L108.8 44.7L107.5 43.5L106.5 42L105.7 41L106.6 39.5L108 38.5L109.7 38.5L110.5 39.6L111 38.6L113 37.8L114.2 37.7L116.5 37L118 35.5L119.5 34.2L119.8 33.3L120.5 32L121.8 30.5L121.3 29.5L122 29L121 28L120.8 26.5L119.5 25.5L119.2 25L120.5 23.9L122.5 23.1L121 22.4L119 22.8L118.8 22L117.6 21.4L118 20.8L119.5 20.2L121.5 19.2L121.1 21.2L122.2 20.5L124 20.2L124.7 20L125 20.5L124.7 22L126.2 22.5L126.5 24L126.3 25.5L127.5 25.4L129.2 24.8L129.5 23.5L128.6 21.7L127.5 20.4L129.7 19L130.7 17.7L132 16.8L133.5 17.2L135.3 16.3L137.5 14.5L140.3 11.7L140.5 9.5L141.3 7L140.5 6.5L138.5 6L137 6L136.8 5L138 4L140.5 2L142 1L144 0.6L146.5 0.7L149 0.3L152 0.8L154 0.5L155 -0.2M156 -0.2L156.8 2L156.5 3L156 4.5L155.7 6L156.5 8.8L157.5 8.5L158.5 7.2L160 6L162 5.2L162 3.8L163.3 2.2L162.5 2L163.5 0.2L164 -0.2M29 18.8L31 18.9L33 18.1L35.2 18L36.6 18.6L38.5 19.1L41.5 18.5L41.6 17.5L40 16.6L38 15.5L37.5 14.8L38.5 13.5L37 13L35 13.8L35.5 14.8L33.6 15.5L32.5 14.6L33.5 14L31.5 13.4L30.8 13.5L29.6 14.7L28.7 15.7L28 17L28 18L29 18.8M26 19.2L27.5 19L29 18.8L29 19.5L27 19.7L26.2 20M49 13.5L51 13L53 13.2L53.2 14.7L51.3 15.5L52.7 17.5L52.8 19L54 19.2L53.8 21L53.9 22.6L51.5 23.2L50 22.6L49 21.7L49.5 19.8L48.5 18.2L47.2 17L47.5 15.5L46.8 15.2L47.5 14.5L49 13.5M58.7 14.8L59.8 13.8L61.5 14L62 15.5L61 16.8L59.3 16.5L58.7 14.8M73.5 13.8L75 13.4L77 13.6L79 13.2L79 13.8L77 14.2L75 14.1L73.5 13.8M-5.7 9.9L-3 9.3L1.3 8.9L1.7 7.3L0.2 6.5L-0.5 5.5L-1.6 4.4L-2.5 3.7L-1.8 2.4L-3.5 1.4L-5 1.4L-6 2.5L-5.6 3.7L-4.8 5L-3.1 5.1L-3.4 5.7L-2.9 6.7L-4.6 6.7L-4.2 7.7L-5.3 8.3L-3 8.5L-4.2 8.8L-5.7 9.9M354.3 9.9L357 9.3L361.3 8.9L361.7 7.3L360.2 6.5L359.5 5.5L358.4 4.4L357.5 3.7L358.2 2.4L356.5 1.4L355 1.4L354 2.5L354.4 3.7L355.2 5L356.9 5.1L356.6 5.7L357.1 6.7L355.4 6.7L355.8 7.7L354.7 8.3L357 8.5L355.8 8.8L354.3 9.9M354 7.9L353.8 6.7L354 6L354.5 5.3L352.5 4.7L351.5 5.5L350 5.8L350 6.7L350.7 7.4L349.7 8.2L350.4 8.5L353 7.9L354 7.9M18.5 -0.2L18.5 0.6L16.8 1.3L16.7 2.5L16 3.8L14.2 4.6L12.8 4.6L12.5 3.5L11.8 2.4L11.2 1.1L10.5 0.4L9.5 1L8 1.9L6.5 1.8L5.5 1L5.1 -0.2M12.4 21.9L15.6 21.7L15.1 23.3L12.4 21.9M8.4 19L9.8 19L9.6 20.8L8.5 21L8.4 19M8.6 17.1L9.5 17L9.4 18.6L8.7 18.2L8.6 17.1M23.5 24.5L26.3 24.7L24 24.9L23.5 24.5M32.3 25L34.6 24.4L33.9 25.1L32.7 25.4L32.3 25M79.8 52L80.2 50.2L81.2 51.5L81.8 52.7L81.4 53.8L80.1 54L79.8 52M49.3 72L50.5 75.5L49.8 77L48.8 80.5L47.3 84.8L45.1 85.5L43.7 83.5L43.3 81.5L44.4 79.5L44 77L46 75.8L48 73.8L49.3 72M95.3 54.4L97.5 54.8L98.7 56.3L100.4 57.8L101.4 58.4L103.7 60.5L104.5 61.9L105.9 63.4L105.9 65.8L104.6 65.9L102.3 64L100.9 62.1L99.2 60L98.6 58.2L97.2 56.7L95.3 54.4M105.2 66.8L106 65.9L108.3 66.3L110.5 66.9L112.5 66.9L114.5 67.8L114.4 68.7L111 68.2L108 67.8L106.4 67.4L105.2 66.8M115 68.2L115.7 68.4L115.2 68.8L115 68.2M116.1 68.4L119 68.3L118.5 68.8L116.5 68.9L116.1 68.4M119.8 68.6L123 68.2L122.5 68.7L120 68.9L119.8 68.6M123.5 70.2L127.3 68.4L125 69.5L123.5 70.2M109 58.4L109.6 58L111 58.5L113 56.9L115.5 54.6L117 53L118.5 54.5L119.2 54.8L118 55.7L117.7 57L118.1 58.5L117.5 59.7L116.8 61.5L116.4 63.7L114.6 63.7L113 63.2L111.7 63L110.2 63L110 61.4L109.1 60L109 58.4M119.5 65.5L120.4 65.5L120.4 63L121 62.6L122 64.8L123 64.5L122 63L121.3 61.8L123.3 60.9L121 60.9L120.1 59.9L120.5 59.2L122.5 59L125.2 58.5L124.3 59.6L122.5 59.5L120.8 59.5L120 60.5L119.4 61L118.8 62.8L119.5 65.5M127.5 58.2L128.2 59.2L128.6 60.3L128 60.8L127.8 59.5L127.5 58.2M128 63L130.5 63.2L129.5 63.5L128 63.5L128 63M126 63.1L127.2 63.3L126.8 63.8L126 63.6L126 63.1M131 61.4L132.5 60.4L134 60.9L134.4 62.7L135.5 63.3L137.5 61.6L139.5 62.3L141 62.6L144 63.8L145.8 65.3L147.5 66.1L147.3 67.5L148.3 68.5L149.5 69.6L150.7 70.6L149 70.3L147.5 70.1L146 68.1L144.3 67.6L143 69L141 69.1L139.2 68.1L138 68.4L137.8 66.8L138.6 66.6L137 64.9L135 64.4L133.5 63.8L132.2 62.9L133.2 62.2L132 62L131 61.4M148.3 65.6L150 65.4L151.5 64.3L152.3 64.5L151 65.9L149.5 66.2L148.3 65.6M150.5 62.6L152 63.3L153.2 64.6L152.6 64.4L151.3 63.3L150.5 62.6M154.6 65.2L155.8 66.4L155.5 66.8L154.8 65.8L154.6 65.2M156.5 67L158 67.8L157.5 68.2L156.5 67M159 68.5L160.8 69.2L160.3 69.5L159 68.5M160.5 68.3L161.5 69.5L161.3 69.7L160.5 68.3M161.5 70.2L162.3 70.7L162 70.8L161.5 70.2M164 80.2L165.5 81L167 82.3L166.3 82.2L164.4 80.8L164 80.2M177.3 77.5L178.6 77.6L178.2 78.2L177.3 77.9L177.3 77.5M178.8 76.3L180 76.1L180.5 76.6L179 76.9L178.8 76.3M120.6 41.5L122.2 41.5L122 43.5L121.5 45.5L124 47L122.5 46.5L121 46.2L120.6 45.5L120 44L120.6 41.5M122 53L124 51.5L125.5 50.5L126.5 53L125.5 54.2L124 53.7L122 53M124.3 47.5L125.5 48.7L125 49.9L124.3 48.5L124.3 47.5M122 48.2L123 49.1L122.5 49.5L122 49.2L122 48.2M123 49.2L123.4 50.7L122.5 50.2L123 49.2M117.2 51.7L119.5 49.1L119.3 48.7L117.2 51.7M120.3 46.5L121.5 47L121 47.8L120.3 46.5M121 34.8L122 35L121.5 37L120.8 38.1L120.1 37L121 34.8M108.7 40.8L110.5 39.9L111 40.4L110 41.5L108.7 41.5L108.7 40.8M129.7 26.4L131 26.1L131.7 27.2L131.2 28.6L130.2 28.8L129.8 27.3L129.7 26.4M132.5 26.5L133.5 25.8L134.7 25.9L134.3 26.7L133 27.2L132.5 26.5M131 25.6L132.5 24.6L135 24.3L136 24L137.3 22.6L138.5 22.5L139.5 21.5L140 20L140 18.7L141.5 18.7L141.6 19.5L142 20.5L141 21.7L140.9 23L140.6 24L140.8 24.3L139.8 25L139 25.3L138.2 25.4L137 25.4L136.8 25.7L136 26.5L135 26.3L135.1 25.4L133.5 25.6L132 26.1L131 25.6M140 18.5L140.3 17.2L141.5 16.7L141.7 14.6L143 15.5L145.3 15.7L145.5 16.7L144 17L143.3 18L141.5 17.4L140.8 18.2L140 18.5M142 14L143.5 10.5L144.7 11.2L143.2 8.2L143.2 5.7L142.6 5.7L142.2 9L141.8 11.5L142 14M113.5 82L114 81.8L116.7 80.6L119 80L121 79.5L122.3 77.5L123.5 77L125 75.5L126.5 74L128 75L129.6 75L130.2 73L131 72.2L132.6 72L132.5 71.5L134 72L135.9 72L136.8 72.2L136.3 73.5L135.5 75L137 76L139 77.5L140.5 77.5L141.5 75.5L141.6 72.5L142.5 70.7L143.5 72.8L143.8 74.3L145.3 75L145.5 77L146.3 79L148.8 80.5L150 82.2L151 83.5L153.1 85.2L153.5 88L153 91L152 92.8L151 94L150 97L148.2 97.8L146.3 99L144.7 98L143.5 98.8L141.5 98.4L140 97.5L139.6 96.2L138.1 95.6L138.5 94.8L138 93.5L137.8 92.7L137.5 94L136.5 95L135.6 94.8L135.2 94.5L134.2 92.8L131.5 91.5L128 92L125 93.7L123.5 94L120 94L117.8 95.1L116 94.8L115 94.3L115.7 93.3L115.7 91.7L115 90L114.9 89L114 87L113.5 86L114 84.5L113.6 83L113.5 82M144.6 100.7L148.3 100.9L148.2 102.2L147 103.5L146 103.5L145.2 102.2L144.6 100.7M172.7 94.4L174.5 95.5L175.5 97L178.5 97.7L177.9 99.1L176.8 99.8L175.9 101.3L174.7 101.3L175.2 100L173.8 99.2L174.6 98.2L174.5 96.8L173 95L172.7 94.4M172.7 100.5L174.3 101.3L173.8 102.2L172.8 103.5L171.3 104.3L170.8 105.8L169.5 106.6L167 106.3L166.5 105.5L168.3 104L170.5 103L171.5 101.7L172.7 100.5M194 -0.2L195.5 0.2L198 1.4L202 1.4L203 2.5L201 4L198 4.8L196 5.4L199 4.2L203 3L205 2L206.5 1L208 -0.2M209 -0.5L208.5 0.5L210 0.5L212 -0.2L214 -0.7L216 -0.1L218.5 0.1L220.5 0.5L223 1.4L224.5 2.5L226 4L226.5 5L228 5.3L229.7 5.5L230 6.5L231.5 7.5L232.5 9L235 10L236.5 11.4L235.3 11.6L235.9 13.2L236.1 15L235.5 17.2L235.8 19.5L236.2 21L237.5 22.2L238.1 23.4L239.2 24.5L239.4 25.4L241.5 26L242.8 27.4L243.5 28.5L244.2 29.6L245.3 31L245.9 32L247.5 33.5L248.5 35.5L250 37L250.5 36.5L249.7 35.7L248.3 33.3L247 30.8L245.3 28.3L247 28.7L249 32L250.7 33.5L252 35L254 37L254.5 39L254.7 40.2L255.5 41L257 42L258.5 42.5L260.5 43.3L263 44.1L265 43.8L267 44.5L268.5 46L271 46.6L272.5 47L273.5 48L274.3 49L274.3 50.1L275.5 50.4L276.4 51.5L278 51.8L280 52.5L280.5 51.5L281.5 51.8L282.6 53L282.2 53.5L282.8 56L282.5 57.5L281.2 58.5L280 59.5L279.5 61L279.8 62.5L278.8 64.2L278.8 66L280.5 67.5L282 70L283.8 74L285 75.5L288 77L289.7 78.5L289.8 81L289.5 83.5L289.4 86L288.6 89L288.4 92L288 95L286.8 97.2L286.3 99.5L286.3 102L286 104L285 106.5L285.5 109L284.5 111.5L286 112.5L288 114L290 115L293 115L294.5 114.7L291.5 112.5L290.5 112.2L291.6 110.5L292.5 108.5L294.2 107.5L292.5 106L292.5 105L295 105L294.8 103.5L296 102.5L295 101L297.7 100.5L298 98.8L302 98.2L303.2 96.8L302.5 95.5L301.5 94.5L303 94.4L306 94.8L306.8 93.5L308.5 91.5L309.8 90L311.3 88L311.5 86L313.5 84L315.5 83.2L318 83L319 81.8L320.2 79.5L321 77L321 74.5L321.5 73L323 71L324.8 68.5L325.1 67L324.5 65.2L322.5 64.5L320.5 63L318.5 62.9L316 62.5L313.5 61L311.5 61.2L310 60L309.5 58.2L308.5 55.7L306.5 54.4L304.5 54.1L302.8 54.1L301.5 53.2L300 51.7L298.5 50.5L297.5 49.3L296 49.4L294 49.4L292 49.5L290.2 48.5L289 48.3L288.4 49.5L288.8 50.5L288 49L288 48L286.5 48.7L285.2 49L284.5 49.6L283.8 50.7L283 51.4L282.6 51.3L282 50.7L280.5 50.4L278.5 51L277.5 50.5L276.5 49.2L276.3 47L276.7 45.2L275 44L272.5 44.2L271.7 43L272 41.5L272.5 39.5L273 38.5L271.5 38.6L269.6 39L269.5 40.5L268.5 41.5L266 41.8L264.5 41.2L263.5 40.1L262.5 38.2L262.3 36L262.8 34L262.6 32.5L263.5 31.5L265.3 30.5L267 30.3L269 30.8L270.5 30.8L271 29.7L272.5 29.6L274 29.6L275.7 30L277 31L277.4 32.5L278.2 34L279.2 34.8L279.9 34.2L279.8 33L279.4 31.5L278.7 30L278.7 28.5L279.8 27.4L281.5 26.1L283 25.4L284.5 24.8L284 23.1L283.7 21.8L284.8 21.5L284.4 20.5L285.9 20.2L286 19.4L288 19L289.5 18.4L290 18.2L289.4 17.4L289.3 16.8L291 16L293 15.3L295 14.7L295.5 14.2L294 15.5L294.5 16.4L296.5 15.4L299 14.8L300 14L298.5 13.5L295.5 13.8L295 12.2L295.5 11L293.5 10.8L292 11.5L290 12.5L293 10.5L296 9.8L300 9.8L303 8.5L304 7.5L303.5 6.5L302 5.5L300 4.7L298.5 3.5L298 2.5L297 1.5L295.5 -0.2M300.7 12.4L304 10.5L304.5 8.4L306.5 10.7L307.3 12.5L306.3 13.3L304 12.4L300.7 12.4M265.2 -0.2L265.5 0.5L267 1.5L267.5 3L270 3L273 4.2L275 4.8L277.7 4.8L277.8 7L279.5 8.6L280.6 8.2L281.2 6.5L280.5 5L283 4L283.4 2.5L282.5 1.4L282 -0.2M290.5 -0.2L290.5 1L292 1.5L294 1.2L295.5 -0.2M268 13.3L270.5 12L274 11.2L275.5 13.3L273.5 13.5L272 12.5L270 13.4L268 13.3M272.2 18L272.5 15.5L274.5 14.2L273.8 16L273.5 17.8L272.2 18M276 14L278.4 14.7L277.5 17L276.5 16L276 14M276.6 18.3L281 17.2L277.5 18L276.6 18.3M280.2 16.7L284 16.5L283 16L280.2 16.7M262.5 9.5L263.5 8.5L262 6.5L261 7L262.5 9.5M275 38.1L278 36.8L280 37L282.5 38.2L284.3 39L285.8 39.8L282.3 40.1L281 38.5L278.5 38L276 38.2L275 38.1M285.5 41.6L287.3 40.1L290 40.2L291.6 41.4L290 41.8L288.5 42.3L285.5 41.6M281.7 41.6L283.7 41.8L283.2 42.1L281.7 41.6M292.8 41.5L294.4 41.6L294.2 42L292.8 42L292.8 41.5M281.8 33.3L283 33.4L282.8 34.5L282 35.5L281.8 33.3M298.1 49.2L299 49.2L299 49.9L298.1 49.9L298.1 49.2M231.7 9.2L234.5 10L236.5 11.6L235.2 11.4L233 10.2L231.7 9.2M227.5 6L228.5 6.5L228.5 7.8L227.5 7L227.5 6M298.8 111.3L301 111.3L302 111.8L300.5 112.3L299 111.9L298.8 111.3M322 114L324 114.2L324.2 114.8L322.2 114.5L322 114M68.8 109L70.5 109L70 109.6L69 109.6L68.8 109M204 39.8L205 40.9L204.2 41.1L204 39.8M203.3 39.1L204 39.2L203.6 39.5L203.3 39.1M201.7 38.4L202.3 38.7L201.8 38.7L201.7 38.4M200.2 37.8L200.7 37.9L200.4 38.1L200.2 37.8M53.3 47.4L54.5 47.4L54.2 47.8L53.3 47.6L53.3 47.4M57.3 80L57.8 80.2L57.5 80.5L57.3 80M55.3 80.9L55.8 81.1L55.5 81.4L55.3 80.9M55.4 64.6L55.6 64.7M268.5 60.2L269.5 60.5L269 61L268.5 60.2M32 59.8L33.9 59.7L34.6 60.5L33.5 62.8L31.7 61.5L32 59.8M29.2 63.4L29.7 64.5L30.8 67.2L31.2 68.6L30.5 68.5L29.5 66.3L29.2 63.4M34.3 69.5L34.9 71.5L35.3 74.3L34.6 74L34.3 71.5L34.3 69.5M72.5 60L80 60L80 67.3L72.5 67.3L72.5 60" fill="none" stroke="#007F00" stroke-width="2.7" vector-effect="non-scaling-stroke" stroke-linejoin="round"/>
<path d="M166.6 74.6L167.2 75.5L167.8 76.5L168.4 77.7L169.3 79.4M283.5 35L284.5 36L285 37L285.5 37.5M298.5 43.7L298.8 44.5L299 45.5L299 46.8M342 31.7L344 31.5L346.5 31L346 31.8M335 43L336 43.5L337 45M92.7 46.5L93 48L92.6 49.3M43.3 71.4L43.5 71.9L44.4 72.2M144.6 46.5L145.8 44.8M190 7.2L192 6.6L194 6.2L196 5.6M172.5 7.1L174 7.8L176 8.1L178 8.2L180 8.4L182 8.2L184 8L186 7.8M145.5 16.5L147 15.8L148.5 15L150 14L151.5 13.1L153 12.2L154.5 11L155.5 10L156.5 9.2M127.5 33.7L128.2 33.2L129.5 31.7L130.5 29.6" fill="none" stroke="#007F00" stroke-width="2.7" vector-effect="non-scaling-stroke" stroke-linecap="round" stroke-dasharray="3 5"/>
<line x1="0" y1="60" x2="360" y2="60" stroke="#007F00" stroke-width="0.6" stroke-dasharray="1.8 2.7"/>
<line x1="180" y1="0" x2="180" y2="120" stroke="#007F00" stroke-width="0.6" stroke-dasharray="1.8 2.7"/>
</svg>
<line x1="81.10" y1="467.70" x2="81.10" y2="458.20" stroke="#000" stroke-width="2"/>
<line x1="81.10" y1="732.70" x2="81.10" y2="742.20" stroke="#000" stroke-width="2"/>
<line x1="114.24" y1="467.70" x2="114.24" y2="462.70" stroke="#000" stroke-width="1.2"/>
<line x1="114.24" y1="732.70" x2="114.24" y2="737.70" stroke="#000" stroke-width="1.2"/>
<line x1="147.38" y1="467.70" x2="147.38" y2="462.70" stroke="#000" stroke-width="1.2"/>
<line x1="147.38" y1="732.70" x2="147.38" y2="737.70" stroke="#000" stroke-width="1.2"/>
<line x1="180.51" y1="467.70" x2="180.51" y2="458.20" stroke="#000" stroke-width="2"/>
<line x1="180.51" y1="732.70" x2="180.51" y2="742.20" stroke="#000" stroke-width="2"/>
<line x1="213.65" y1="467.70" x2="213.65" y2="462.70" stroke="#000" stroke-width="1.2"/>
<line x1="213.65" y1="732.70" x2="213.65" y2="737.70" stroke="#000" stroke-width="1.2"/>
<line x1="246.79" y1="467.70" x2="246.79" y2="462.70" stroke="#000" stroke-width="1.2"/>
<line x1="246.79" y1="732.70" x2="246.79" y2="737.70" stroke="#000" stroke-width="1.2"/>
<line x1="279.92" y1="467.70" x2="279.92" y2="458.20" stroke="#000" stroke-width="2"/>
<line x1="279.92" y1="732.70" x2="279.92" y2="742.20" stroke="#000" stroke-width="2"/>
<line x1="313.06" y1="467.70" x2="313.06" y2="462.70" stroke="#000" stroke-width="1.2"/>
<line x1="313.06" y1="732.70" x2="313.06" y2="737.70" stroke="#000" stroke-width="1.2"/>
<line x1="346.20" y1="467.70" x2="346.20" y2="462.70" stroke="#000" stroke-width="1.2"/>
<line x1="346.20" y1="732.70" x2="346.20" y2="737.70" stroke="#000" stroke-width="1.2"/>
<line x1="379.34" y1="467.70" x2="379.34" y2="458.20" stroke="#000" stroke-width="2"/>
<line x1="379.34" y1="732.70" x2="379.34" y2="742.20" stroke="#000" stroke-width="2"/>
<line x1="412.48" y1="467.70" x2="412.48" y2="462.70" stroke="#000" stroke-width="1.2"/>
<line x1="412.48" y1="732.70" x2="412.48" y2="737.70" stroke="#000" stroke-width="1.2"/>
<line x1="445.61" y1="467.70" x2="445.61" y2="462.70" stroke="#000" stroke-width="1.2"/>
<line x1="445.61" y1="732.70" x2="445.61" y2="737.70" stroke="#000" stroke-width="1.2"/>
<line x1="478.75" y1="467.70" x2="478.75" y2="458.20" stroke="#000" stroke-width="2"/>
<line x1="478.75" y1="732.70" x2="478.75" y2="742.20" stroke="#000" stroke-width="2"/>
<line x1="511.89" y1="467.70" x2="511.89" y2="462.70" stroke="#000" stroke-width="1.2"/>
<line x1="511.89" y1="732.70" x2="511.89" y2="737.70" stroke="#000" stroke-width="1.2"/>
<line x1="545.02" y1="467.70" x2="545.02" y2="462.70" stroke="#000" stroke-width="1.2"/>
<line x1="545.02" y1="732.70" x2="545.02" y2="737.70" stroke="#000" stroke-width="1.2"/>
<line x1="578.16" y1="467.70" x2="578.16" y2="458.20" stroke="#000" stroke-width="2"/>
<line x1="578.16" y1="732.70" x2="578.16" y2="742.20" stroke="#000" stroke-width="2"/>
<line x1="611.30" y1="467.70" x2="611.30" y2="462.70" stroke="#000" stroke-width="1.2"/>
<line x1="611.30" y1="732.70" x2="611.30" y2="737.70" stroke="#000" stroke-width="1.2"/>
<line x1="644.44" y1="467.70" x2="644.44" y2="462.70" stroke="#000" stroke-width="1.2"/>
<line x1="644.44" y1="732.70" x2="644.44" y2="737.70" stroke="#000" stroke-width="1.2"/>
<line x1="677.57" y1="467.70" x2="677.57" y2="458.20" stroke="#000" stroke-width="2"/>
<line x1="677.57" y1="732.70" x2="677.57" y2="742.20" stroke="#000" stroke-width="2"/>
<line x1="710.71" y1="467.70" x2="710.71" y2="462.70" stroke="#000" stroke-width="1.2"/>
<line x1="710.71" y1="732.70" x2="710.71" y2="737.70" stroke="#000" stroke-width="1.2"/>
<line x1="743.85" y1="467.70" x2="743.85" y2="462.70" stroke="#000" stroke-width="1.2"/>
<line x1="743.85" y1="732.70" x2="743.85" y2="737.70" stroke="#000" stroke-width="1.2"/>
<line x1="776.99" y1="467.70" x2="776.99" y2="458.20" stroke="#000" stroke-width="2"/>
<line x1="776.99" y1="732.70" x2="776.99" y2="742.20" stroke="#000" stroke-width="2"/>
<line x1="810.12" y1="467.70" x2="810.12" y2="462.70" stroke="#000" stroke-width="1.2"/>
<line x1="810.12" y1="732.70" x2="810.12" y2="737.70" stroke="#000" stroke-width="1.2"/>
<line x1="843.26" y1="467.70" x2="843.26" y2="462.70" stroke="#000" stroke-width="1.2"/>
<line x1="843.26" y1="732.70" x2="843.26" y2="737.70" stroke="#000" stroke-width="1.2"/>
<line x1="876.40" y1="467.70" x2="876.40" y2="458.20" stroke="#000" stroke-width="2"/>
<line x1="876.40" y1="732.70" x2="876.40" y2="742.20" stroke="#000" stroke-width="2"/>
<line x1="81.10" y1="467.70" x2="71.60" y2="467.70" stroke="#000" stroke-width="2"/>
<line x1="876.40" y1="467.70" x2="885.90" y2="467.70" stroke="#000" stroke-width="2"/>
<line x1="81.10" y1="478.74" x2="76.10" y2="478.74" stroke="#000" stroke-width="1.2"/>
<line x1="876.40" y1="478.74" x2="881.40" y2="478.74" stroke="#000" stroke-width="1.2"/>
<line x1="81.10" y1="489.78" x2="76.10" y2="489.78" stroke="#000" stroke-width="1.2"/>
<line x1="876.40" y1="489.78" x2="881.40" y2="489.78" stroke="#000" stroke-width="1.2"/>
<line x1="81.10" y1="500.82" x2="71.60" y2="500.82" stroke="#000" stroke-width="2"/>
<line x1="876.40" y1="500.82" x2="885.90" y2="500.82" stroke="#000" stroke-width="2"/>
<line x1="81.10" y1="511.87" x2="76.10" y2="511.87" stroke="#000" stroke-width="1.2"/>
<line x1="876.40" y1="511.87" x2="881.40" y2="511.87" stroke="#000" stroke-width="1.2"/>
<line x1="81.10" y1="522.91" x2="76.10" y2="522.91" stroke="#000" stroke-width="1.2"/>
<line x1="876.40" y1="522.91" x2="881.40" y2="522.91" stroke="#000" stroke-width="1.2"/>
<line x1="81.10" y1="533.95" x2="71.60" y2="533.95" stroke="#000" stroke-width="2"/>
<line x1="876.40" y1="533.95" x2="885.90" y2="533.95" stroke="#000" stroke-width="2"/>
<line x1="81.10" y1="544.99" x2="76.10" y2="544.99" stroke="#000" stroke-width="1.2"/>
<line x1="876.40" y1="544.99" x2="881.40" y2="544.99" stroke="#000" stroke-width="1.2"/>
<line x1="81.10" y1="556.03" x2="76.10" y2="556.03" stroke="#000" stroke-width="1.2"/>
<line x1="876.40" y1="556.03" x2="881.40" y2="556.03" stroke="#000" stroke-width="1.2"/>
<line x1="81.10" y1="567.08" x2="71.60" y2="567.08" stroke="#000" stroke-width="2"/>
<line x1="876.40" y1="567.08" x2="885.90" y2="567.08" stroke="#000" stroke-width="2"/>
<line x1="81.10" y1="578.12" x2="76.10" y2="578.12" stroke="#000" stroke-width="1.2"/>
<line x1="876.40" y1="578.12" x2="881.40" y2="578.12" stroke="#000" stroke-width="1.2"/>
<line x1="81.10" y1="589.16" x2="76.10" y2="589.16" stroke="#000" stroke-width="1.2"/>
<line x1="876.40" y1="589.16" x2="881.40" y2="589.16" stroke="#000" stroke-width="1.2"/>
<line x1="81.10" y1="600.20" x2="71.60" y2="600.20" stroke="#000" stroke-width="2"/>
<line x1="876.40" y1="600.20" x2="885.90" y2="600.20" stroke="#000" stroke-width="2"/>
<line x1="81.10" y1="611.24" x2="76.10" y2="611.24" stroke="#000" stroke-width="1.2"/>
<line x1="876.40" y1="611.24" x2="881.40" y2="611.24" stroke="#000" stroke-width="1.2"/>
<line x1="81.10" y1="622.28" x2="76.10" y2="622.28" stroke="#000" stroke-width="1.2"/>
<line x1="876.40" y1="622.28" x2="881.40" y2="622.28" stroke="#000" stroke-width="1.2"/>
<line x1="81.10" y1="633.33" x2="71.60" y2="633.33" stroke="#000" stroke-width="2"/>
<line x1="876.40" y1="633.33" x2="885.90" y2="633.33" stroke="#000" stroke-width="2"/>
<line x1="81.10" y1="644.37" x2="76.10" y2="644.37" stroke="#000" stroke-width="1.2"/>
<line x1="876.40" y1="644.37" x2="881.40" y2="644.37" stroke="#000" stroke-width="1.2"/>
<line x1="81.10" y1="655.41" x2="76.10" y2="655.41" stroke="#000" stroke-width="1.2"/>
<line x1="876.40" y1="655.41" x2="881.40" y2="655.41" stroke="#000" stroke-width="1.2"/>
<line x1="81.10" y1="666.45" x2="71.60" y2="666.45" stroke="#000" stroke-width="2"/>
<line x1="876.40" y1="666.45" x2="885.90" y2="666.45" stroke="#000" stroke-width="2"/>
<line x1="81.10" y1="677.49" x2="76.10" y2="677.49" stroke="#000" stroke-width="1.2"/>
<line x1="876.40" y1="677.49" x2="881.40" y2="677.49" stroke="#000" stroke-width="1.2"/>
<line x1="81.10" y1="688.53" x2="76.10" y2="688.53" stroke="#000" stroke-width="1.2"/>
<line x1="876.40" y1="688.53" x2="881.40" y2="688.53" stroke="#000" stroke-width="1.2"/>
<line x1="81.10" y1="699.58" x2="71.60" y2="699.58" stroke="#000" stroke-width="2"/>
<line x1="876.40" y1="699.58" x2="885.90" y2="699.58" stroke="#000" stroke-width="2"/>
<line x1="81.10" y1="710.62" x2="76.10" y2="710.62" stroke="#000" stroke-width="1.2"/>
<line x1="876.40" y1="710.62" x2="881.40" y2="710.62" stroke="#000" stroke-width="1.2"/>
<line x1="81.10" y1="721.66" x2="76.10" y2="721.66" stroke="#000" stroke-width="1.2"/>
<line x1="876.40" y1="721.66" x2="881.40" y2="721.66" stroke="#000" stroke-width="1.2"/>
<line x1="81.10" y1="732.70" x2="71.60" y2="732.70" stroke="#000" stroke-width="2"/>
<line x1="876.40" y1="732.70" x2="885.90" y2="732.70" stroke="#000" stroke-width="2"/>
<rect x="81.10" y="467.70" width="795.30" height="265.00" fill="none" stroke="#000" stroke-width="2"/>
<text transform="translate(53.30,478.90) scale(0.88,1)" font-size="32.4" text-anchor="end" stroke="#000" stroke-width="0.3">60N</text>
<text transform="translate(53.30,512.02) scale(0.88,1)" font-size="32.4" text-anchor="end" stroke="#000" stroke-width="0.3">45N</text>
<text transform="translate(53.30,545.15) scale(0.88,1)" font-size="32.4" text-anchor="end" stroke="#000" stroke-width="0.3">30N</text>
<text transform="translate(53.30,578.28) scale(0.88,1)" font-size="32.4" text-anchor="end" stroke="#000" stroke-width="0.3">15N</text>
<text transform="translate(53.30,611.40) scale(0.88,1)" font-size="32.4" text-anchor="end" stroke="#000" stroke-width="0.3">0</text>
<text transform="translate(53.30,644.53) scale(0.88,1)" font-size="32.4" text-anchor="end" stroke="#000" stroke-width="0.3">15S</text>
<text transform="translate(53.30,677.65) scale(0.88,1)" font-size="32.4" text-anchor="end" stroke="#000" stroke-width="0.3">30S</text>
<text transform="translate(53.30,710.78) scale(0.88,1)" font-size="32.4" text-anchor="end" stroke="#000" stroke-width="0.3">45S</text>
<text transform="translate(53.30,743.90) scale(0.88,1)" font-size="32.4" text-anchor="end" stroke="#000" stroke-width="0.3">60S</text>
<text transform="translate(80.90,784.80) scale(0.88,1)" font-size="32.4" text-anchor="middle" stroke="#000" stroke-width="0.3">0</text>
<text transform="translate(180.31,784.80) scale(0.88,1)" font-size="32.4" text-anchor="middle" stroke="#000" stroke-width="0.3">45E</text>
<text transform="translate(279.72,784.80) scale(0.88,1)" font-size="32.4" text-anchor="middle" stroke="#000" stroke-width="0.3">90E</text>
<text transform="translate(379.14,784.80) scale(0.88,1)" font-size="32.4" text-anchor="middle" stroke="#000" stroke-width="0.3">135E</text>
<text transform="translate(478.55,784.80) scale(0.88,1)" font-size="32.4" text-anchor="middle" stroke="#000" stroke-width="0.3">180</text>
<text transform="translate(577.96,784.80) scale(0.88,1)" font-size="32.4" text-anchor="middle" stroke="#000" stroke-width="0.3">135W</text>
<text transform="translate(677.37,784.80) scale(0.88,1)" font-size="32.4" text-anchor="middle" stroke="#000" stroke-width="0.3">90W</text>
<text transform="translate(776.79,784.80) scale(0.88,1)" font-size="32.4" text-anchor="middle" stroke="#000" stroke-width="0.3">45W</text>
<text transform="translate(876.20,784.80) scale(0.88,1)" font-size="32.4" text-anchor="middle" stroke="#000" stroke-width="0.3">0</text>
<text transform="translate(935.60,117.00) scale(0.97,1)" font-size="30" stroke="#000" stroke-width="0.3">W/m^2</text>
<text transform="translate(935.60,505.40) scale(0.97,1)" font-size="30" stroke="#000" stroke-width="0.3">W/m^2</text>
<rect x="932.70" y="132.30" width="47.40" height="11.65" fill="#D2691E"/>
<rect x="932.70" y="143.65" width="47.40" height="11.65" fill="#E0321A"/>
<rect x="932.70" y="155.00" width="47.40" height="11.65" fill="#8B0000"/>
<rect x="932.70" y="166.35" width="47.40" height="11.65" fill="#600000"/>
<rect x="932.70" y="177.70" width="47.40" height="11.65" fill="#3F0000"/>
<rect x="932.70" y="189.05" width="47.40" height="11.65" fill="#2B2B2B"/>
<rect x="932.70" y="200.40" width="47.40" height="11.65" fill="#333333"/>
<rect x="932.70" y="211.75" width="47.40" height="11.65" fill="#3D3D3D"/>
<rect x="932.70" y="223.10" width="47.40" height="11.65" fill="#555555"/>
<rect x="932.70" y="234.45" width="47.40" height="11.65" fill="#696969"/>
<rect x="932.70" y="245.80" width="47.40" height="11.65" fill="#828282"/>
<rect x="932.70" y="257.15" width="47.40" height="11.65" fill="#9A9A9A"/>
<rect x="932.70" y="268.50" width="47.40" height="11.65" fill="#B0B0B0"/>
<rect x="932.70" y="279.85" width="47.40" height="11.65" fill="#ADD8E6"/>
<rect x="932.70" y="291.20" width="47.40" height="11.65" fill="#5CACEE"/>
<rect x="932.70" y="302.55" width="47.40" height="11.65" fill="#4876FF"/>
<rect x="932.70" y="313.90" width="47.40" height="11.65" fill="#104E8B"/>
<rect x="932.70" y="325.25" width="47.40" height="11.65" fill="#191970"/>
<line x1="932.70" y1="143.65" x2="980.10" y2="143.65" stroke="#000" stroke-width="1.3"/>
<line x1="932.70" y1="155.00" x2="980.10" y2="155.00" stroke="#000" stroke-width="1.3"/>
<line x1="932.70" y1="166.35" x2="980.10" y2="166.35" stroke="#000" stroke-width="1.3"/>
<line x1="932.70" y1="177.70" x2="980.10" y2="177.70" stroke="#000" stroke-width="1.3"/>
<line x1="932.70" y1="189.05" x2="980.10" y2="189.05" stroke="#000" stroke-width="1.3"/>
<line x1="932.70" y1="200.40" x2="980.10" y2="200.40" stroke="#000" stroke-width="1.3"/>
<line x1="932.70" y1="211.75" x2="980.10" y2="211.75" stroke="#000" stroke-width="1.3"/>
<line x1="932.70" y1="223.10" x2="980.10" y2="223.10" stroke="#000" stroke-width="1.3"/>
<line x1="932.70" y1="234.45" x2="980.10" y2="234.45" stroke="#000" stroke-width="1.3"/>
<line x1="932.70" y1="245.80" x2="980.10" y2="245.80" stroke="#000" stroke-width="1.3"/>
<line x1="932.70" y1="257.15" x2="980.10" y2="257.15" stroke="#000" stroke-width="1.3"/>
<line x1="932.70" y1="268.50" x2="980.10" y2="268.50" stroke="#000" stroke-width="1.3"/>
<line x1="932.70" y1="279.85" x2="980.10" y2="279.85" stroke="#000" stroke-width="1.3"/>
<line x1="932.70" y1="291.20" x2="980.10" y2="291.20" stroke="#000" stroke-width="1.3"/>
<line x1="932.70" y1="302.55" x2="980.10" y2="302.55" stroke="#000" stroke-width="1.3"/>
<line x1="932.70" y1="313.90" x2="980.10" y2="313.90" stroke="#000" stroke-width="1.3"/>
<line x1="932.70" y1="325.25" x2="980.10" y2="325.25" stroke="#000" stroke-width="1.3"/>
<rect x="932.70" y="132.30" width="47.40" height="204.30" fill="none" stroke="#000" stroke-width="1.5"/>
<text transform="translate(1011.00,151.55) scale(0.97,1)" font-size="21.5" text-anchor="middle" stroke="#000" stroke-width="0.3">320</text>
<text transform="translate(1011.00,174.25) scale(0.97,1)" font-size="21.5" text-anchor="middle" stroke="#000" stroke-width="0.3">300</text>
<text transform="translate(1011.00,196.95) scale(0.97,1)" font-size="21.5" text-anchor="middle" stroke="#000" stroke-width="0.3">280</text>
<text transform="translate(1011.00,219.65) scale(0.97,1)" font-size="21.5" text-anchor="middle" stroke="#000" stroke-width="0.3">260</text>
<text transform="translate(1011.00,242.35) scale(0.97,1)" font-size="21.5" text-anchor="middle" stroke="#000" stroke-width="0.3">240</text>
<text transform="translate(1011.00,265.05) scale(0.97,1)" font-size="21.5" text-anchor="middle" stroke="#000" stroke-width="0.3">220</text>
<text transform="translate(1011.00,287.75) scale(0.97,1)" font-size="21.5" text-anchor="middle" stroke="#000" stroke-width="0.3">200</text>
<text transform="translate(1011.00,310.45) scale(0.97,1)" font-size="21.5" text-anchor="middle" stroke="#000" stroke-width="0.3">180</text>
<text transform="translate(1011.00,333.15) scale(0.97,1)" font-size="21.5" text-anchor="middle" stroke="#000" stroke-width="0.3">160</text>
<rect x="935.30" y="520.60" width="47.20" height="14.88" fill="#FF66B2"/>
<rect x="935.30" y="535.18" width="47.20" height="14.88" fill="#A02828"/>
<rect x="935.30" y="549.76" width="47.20" height="14.88" fill="#C80000"/>
<rect x="935.30" y="564.34" width="47.20" height="14.88" fill="#FF6E00"/>
<rect x="935.30" y="578.91" width="47.20" height="14.88" fill="#FFA500"/>
<rect x="935.30" y="593.49" width="47.20" height="14.88" fill="#FFDC28"/>
<rect x="935.30" y="608.07" width="47.20" height="14.88" fill="#FFFACD"/>
<rect x="935.30" y="622.65" width="47.20" height="14.88" fill="#D2F4FF"/>
<rect x="935.30" y="637.23" width="47.20" height="14.88" fill="#A0D2FF"/>
<rect x="935.30" y="651.81" width="47.20" height="14.88" fill="#00BEFF"/>
<rect x="935.30" y="666.39" width="47.20" height="14.88" fill="#1E90FF"/>
<rect x="935.30" y="680.96" width="47.20" height="14.88" fill="#0000CD"/>
<rect x="935.30" y="695.54" width="47.20" height="14.88" fill="#00008B"/>
<rect x="935.30" y="710.12" width="47.20" height="14.88" fill="#8A2BE2"/>
<line x1="935.30" y1="535.18" x2="982.50" y2="535.18" stroke="#000" stroke-width="1.3"/>
<line x1="935.30" y1="549.76" x2="982.50" y2="549.76" stroke="#000" stroke-width="1.3"/>
<line x1="935.30" y1="564.34" x2="982.50" y2="564.34" stroke="#000" stroke-width="1.3"/>
<line x1="935.30" y1="578.91" x2="982.50" y2="578.91" stroke="#000" stroke-width="1.3"/>
<line x1="935.30" y1="593.49" x2="982.50" y2="593.49" stroke="#000" stroke-width="1.3"/>
<line x1="935.30" y1="608.07" x2="982.50" y2="608.07" stroke="#000" stroke-width="1.3"/>
<line x1="935.30" y1="622.65" x2="982.50" y2="622.65" stroke="#000" stroke-width="1.3"/>
<line x1="935.30" y1="637.23" x2="982.50" y2="637.23" stroke="#000" stroke-width="1.3"/>
<line x1="935.30" y1="651.81" x2="982.50" y2="651.81" stroke="#000" stroke-width="1.3"/>
<line x1="935.30" y1="666.39" x2="982.50" y2="666.39" stroke="#000" stroke-width="1.3"/>
<line x1="935.30" y1="680.96" x2="982.50" y2="680.96" stroke="#000" stroke-width="1.3"/>
<line x1="935.30" y1="695.54" x2="982.50" y2="695.54" stroke="#000" stroke-width="1.3"/>
<line x1="935.30" y1="710.12" x2="982.50" y2="710.12" stroke="#000" stroke-width="1.3"/>
<rect x="935.30" y="520.60" width="47.20" height="204.10" fill="none" stroke="#000" stroke-width="1.5"/>
<text transform="translate(1011.00,543.08) scale(0.97,1)" font-size="21.5" text-anchor="middle" stroke="#000" stroke-width="0.3">45</text>
<text transform="translate(1011.00,572.24) scale(0.97,1)" font-size="21.5" text-anchor="middle" stroke="#000" stroke-width="0.3">30</text>
<text transform="translate(1011.00,601.39) scale(0.97,1)" font-size="21.5" text-anchor="middle" stroke="#000" stroke-width="0.3">15</text>
<text transform="translate(1011.00,630.55) scale(0.97,1)" font-size="21.5" text-anchor="middle" stroke="#000" stroke-width="0.3">0</text>
<text transform="translate(1011.00,659.71) scale(0.97,1)" font-size="21.5" text-anchor="middle" stroke="#000" stroke-width="0.3">-15</text>
<text transform="translate(1011.00,688.86) scale(0.97,1)" font-size="21.5" text-anchor="middle" stroke="#000" stroke-width="0.3">-30</text>
<text transform="translate(1011.00,718.02) scale(0.97,1)" font-size="21.5" text-anchor="middle" stroke="#000" stroke-width="0.3">-45</text>
</svg></body></html>
